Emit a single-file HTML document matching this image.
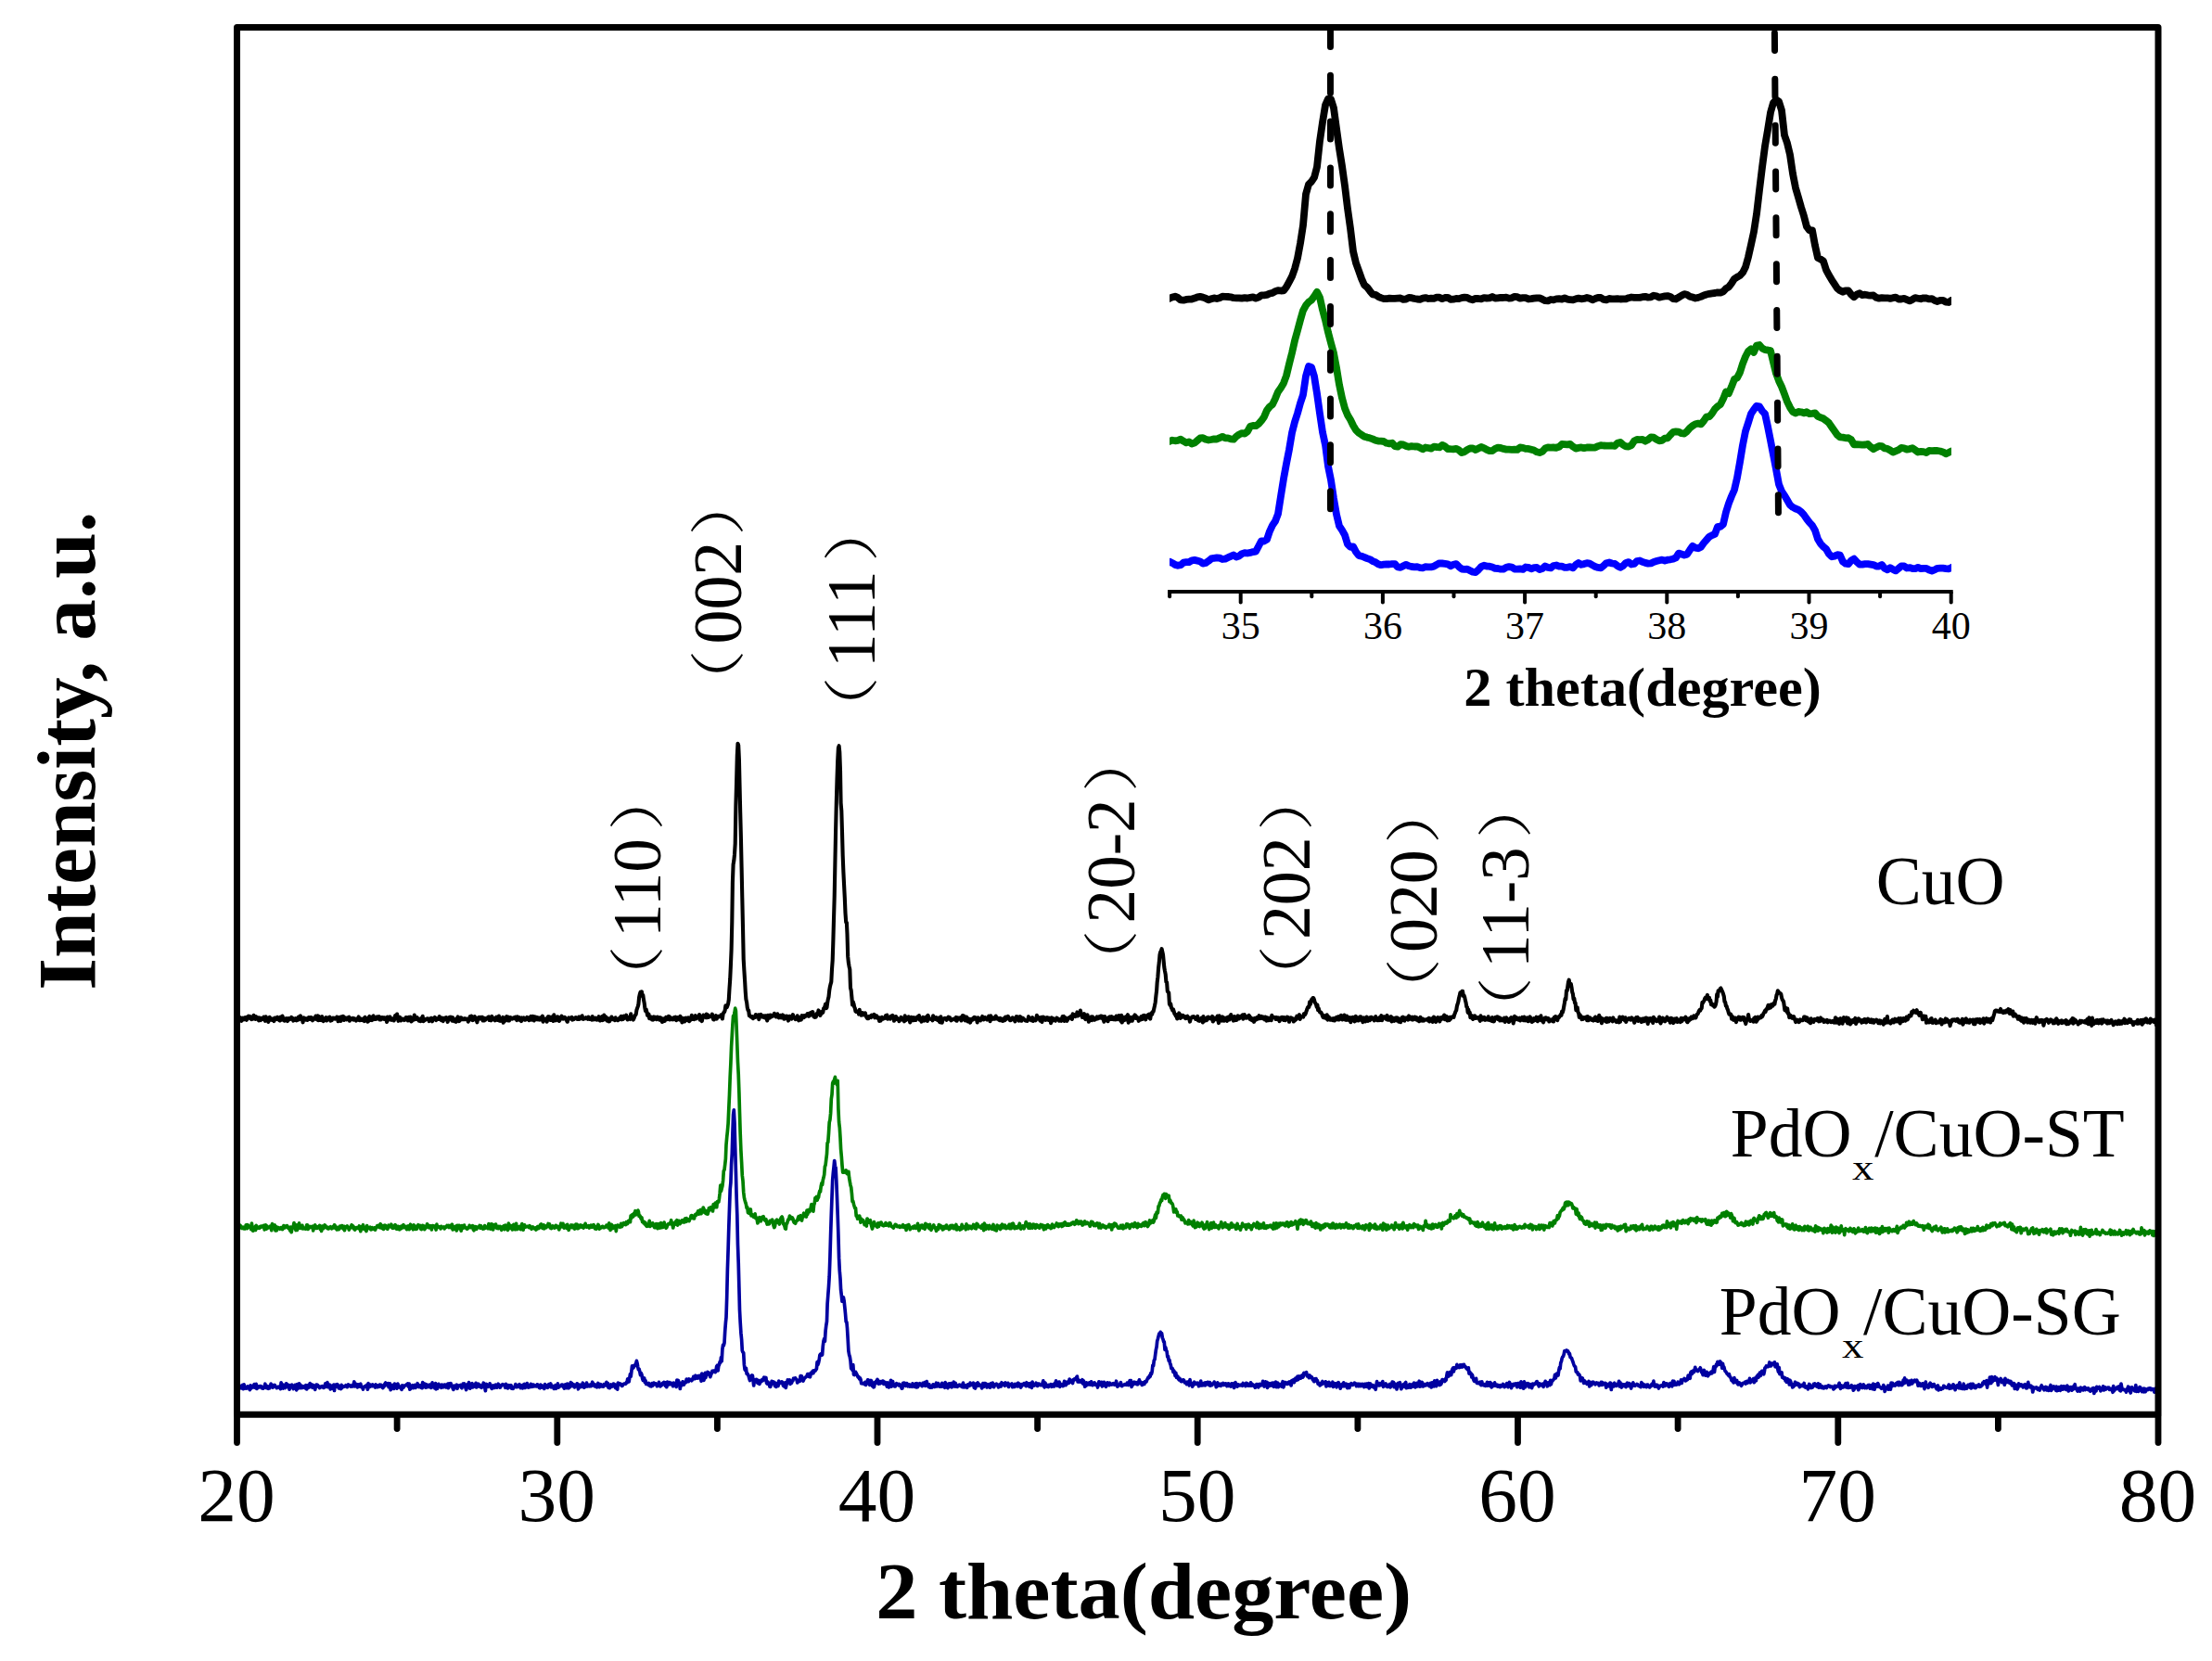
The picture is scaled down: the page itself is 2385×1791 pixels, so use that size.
<!DOCTYPE html>
<html><head><meta charset="utf-8"><title>XRD patterns</title>
<style>html,body{margin:0;padding:0;background:#fff}svg{display:block}</style></head>
<body>
<svg width="2385" height="1791" viewBox="0 0 2385 1791">
<rect width="2385" height="1791" fill="#fff"/>
<g fill="none" stroke-linejoin="round" stroke-linecap="butt">
<path d="M255.5,1098.7 L256.2,1099.2 L256.9,1098.3 L257.6,1097.3 L258.3,1098.0 L259.0,1097.1 L259.6,1098.8 L260.3,1100.8 L261.0,1097.9 L261.7,1097.7 L262.4,1099.5 L263.1,1099.3 L263.8,1098.9 L264.5,1097.2 L265.2,1098.7 L265.9,1099.8 L266.5,1096.5 L267.2,1098.0 L267.9,1095.7 L268.6,1096.6 L269.3,1095.8 L270.0,1098.3 L270.7,1096.7 L271.4,1099.1 L272.1,1098.9 L272.8,1098.4 L273.5,1094.7 L274.1,1097.8 L274.8,1098.6 L275.5,1098.9 L276.2,1096.2 L276.9,1097.9 L277.6,1097.1 L278.3,1097.4 L279.0,1100.4 L279.7,1097.4 L280.4,1098.6 L281.0,1100.1 L281.7,1097.8 L282.4,1098.5 L283.1,1098.9 L283.8,1098.8 L284.5,1096.7 L285.2,1098.8 L285.9,1100.9 L286.6,1096.2 L287.3,1100.1 L288.0,1098.9 L288.6,1097.7 L289.3,1101.9 L290.0,1099.9 L290.7,1096.8 L291.4,1098.8 L292.1,1099.6 L292.8,1098.4 L293.5,1099.8 L294.2,1098.6 L294.9,1099.8 L295.5,1101.0 L296.2,1097.6 L296.9,1099.0 L297.6,1098.0 L298.3,1098.9 L299.0,1096.8 L299.7,1097.8 L300.4,1098.4 L301.1,1100.1 L301.8,1100.5 L302.5,1096.6 L303.1,1097.4 L303.8,1099.7 L304.5,1095.5 L305.2,1098.0 L305.9,1098.5 L306.6,1100.7 L307.3,1099.8 L308.0,1098.2 L308.7,1098.1 L309.4,1098.3 L310.0,1101.1 L310.7,1098.0 L311.4,1098.2 L312.1,1099.3 L312.8,1098.5 L313.5,1098.4 L314.2,1096.9 L314.9,1098.7 L315.6,1098.0 L316.3,1100.6 L317.0,1099.7 L317.6,1098.7 L318.3,1099.8 L319.0,1098.2 L319.7,1100.4 L320.4,1098.7 L321.1,1099.6 L321.8,1096.6 L322.5,1099.3 L323.2,1096.0 L323.9,1095.4 L324.5,1098.2 L325.2,1097.3 L325.9,1099.0 L326.6,1102.3 L327.3,1097.4 L328.0,1097.7 L328.7,1099.0 L329.4,1099.5 L330.1,1098.4 L330.8,1098.4 L331.5,1099.8 L332.1,1099.5 L332.8,1097.0 L333.5,1098.6 L334.2,1098.8 L334.9,1097.0 L335.6,1099.1 L336.3,1097.3 L337.0,1100.3 L337.7,1099.0 L338.4,1098.8 L339.1,1097.8 L339.7,1098.5 L340.4,1095.5 L341.1,1096.9 L341.8,1099.3 L342.5,1095.3 L343.2,1100.1 L343.9,1095.9 L344.6,1099.9 L345.3,1097.3 L346.0,1099.9 L346.6,1098.9 L347.3,1096.2 L348.0,1100.7 L348.7,1101.0 L349.4,1098.6 L350.1,1098.3 L350.8,1098.4 L351.5,1097.1 L352.2,1100.5 L352.9,1097.8 L353.6,1098.6 L354.2,1097.4 L354.9,1097.7 L355.6,1096.7 L356.3,1100.7 L357.0,1098.4 L357.7,1100.2 L358.4,1098.7 L359.1,1097.6 L359.8,1098.2 L360.5,1097.8 L361.1,1098.7 L361.8,1098.1 L362.5,1098.2 L363.2,1096.5 L363.9,1097.4 L364.6,1101.3 L365.3,1097.6 L366.0,1097.0 L366.7,1099.2 L367.4,1100.9 L368.1,1096.4 L368.7,1098.4 L369.4,1097.7 L370.1,1095.9 L370.8,1099.9 L371.5,1098.7 L372.2,1098.8 L372.9,1097.5 L373.6,1099.4 L374.3,1097.8 L375.0,1098.5 L375.6,1096.9 L376.3,1096.7 L377.0,1100.8 L377.7,1097.9 L378.4,1099.2 L379.1,1098.6 L379.8,1098.0 L380.5,1097.9 L381.2,1099.7 L381.9,1098.2 L382.6,1098.5 L383.2,1098.7 L383.9,1100.6 L384.6,1099.8 L385.3,1099.3 L386.0,1097.8 L386.7,1096.5 L387.4,1100.2 L388.1,1100.2 L388.8,1098.5 L389.5,1099.6 L390.1,1099.9 L390.8,1100.0 L391.5,1100.2 L392.2,1098.0 L392.9,1101.1 L393.6,1096.7 L394.3,1100.1 L395.0,1099.5 L395.7,1100.1 L396.4,1101.7 L397.1,1101.1 L397.7,1096.9 L398.4,1096.0 L399.1,1100.0 L399.8,1097.1 L400.5,1098.7 L401.2,1100.0 L401.9,1096.1 L402.6,1095.3 L403.3,1099.1 L404.0,1098.8 L404.6,1098.3 L405.3,1098.8 L406.0,1097.3 L406.7,1096.3 L407.4,1098.4 L408.1,1097.1 L408.8,1096.1 L409.5,1099.5 L410.2,1098.6 L410.9,1099.3 L411.6,1097.1 L412.2,1097.6 L412.9,1097.1 L413.6,1097.3 L414.3,1099.0 L415.0,1097.4 L415.7,1099.3 L416.4,1099.2 L417.1,1101.9 L417.8,1096.5 L418.5,1100.1 L419.1,1098.6 L419.8,1098.7 L420.5,1096.4 L421.2,1098.0 L421.9,1099.9 L422.6,1098.6 L423.3,1098.8 L424.0,1098.2 L424.7,1100.5 L425.4,1098.7 L426.1,1095.2 L426.7,1097.6 L427.4,1095.5 L428.1,1093.5 L428.8,1097.8 L429.5,1100.8 L430.2,1098.8 L430.9,1096.8 L431.6,1097.2 L432.3,1100.5 L433.0,1098.9 L433.6,1098.8 L434.3,1098.6 L435.0,1098.8 L435.7,1100.0 L436.4,1099.6 L437.1,1099.0 L437.8,1097.0 L438.5,1099.5 L439.2,1097.6 L439.9,1100.4 L440.6,1096.7 L441.2,1098.5 L441.9,1098.7 L442.6,1096.6 L443.3,1101.4 L444.0,1101.0 L444.7,1098.0 L445.4,1099.9 L446.1,1099.3 L446.8,1094.5 L447.5,1099.1 L448.1,1098.6 L448.8,1098.8 L449.5,1097.0 L450.2,1098.3 L450.9,1098.4 L451.6,1100.6 L452.3,1099.2 L453.0,1098.7 L453.7,1101.1 L454.4,1097.8 L455.1,1098.1 L455.7,1095.8 L456.4,1101.2 L457.1,1100.2 L457.8,1100.2 L458.5,1099.8 L459.2,1098.9 L459.9,1099.0 L460.6,1098.3 L461.3,1098.4 L462.0,1098.8 L462.6,1101.1 L463.3,1099.6 L464.0,1098.6 L464.7,1097.8 L465.4,1097.7 L466.1,1101.3 L466.8,1099.5 L467.5,1098.8 L468.2,1098.1 L468.9,1096.9 L469.6,1098.6 L470.2,1100.1 L470.9,1098.1 L471.6,1098.3 L472.3,1098.3 L473.0,1098.9 L473.7,1096.1 L474.4,1098.3 L475.1,1097.3 L475.8,1100.1 L476.5,1097.5 L477.2,1099.6 L477.8,1101.1 L478.5,1098.2 L479.2,1097.7 L479.9,1099.0 L480.6,1098.7 L481.3,1097.1 L482.0,1099.4 L482.7,1101.9 L483.4,1098.3 L484.1,1098.4 L484.7,1097.0 L485.4,1099.2 L486.1,1096.7 L486.8,1096.9 L487.5,1100.7 L488.2,1097.2 L488.9,1100.4 L489.6,1101.1 L490.3,1099.1 L491.0,1099.6 L491.7,1101.8 L492.3,1098.4 L493.0,1097.7 L493.7,1096.5 L494.4,1098.8 L495.1,1101.1 L495.8,1100.2 L496.5,1097.2 L497.2,1097.3 L497.9,1097.9 L498.6,1099.2 L499.2,1098.4 L499.9,1099.0 L500.6,1099.2 L501.3,1098.2 L502.0,1098.6 L502.7,1099.0 L503.4,1098.6 L504.1,1099.5 L504.8,1101.7 L505.5,1099.6 L506.2,1098.8 L506.8,1096.0 L507.5,1099.3 L508.2,1095.6 L508.9,1096.4 L509.6,1100.1 L510.3,1099.8 L511.0,1098.5 L511.7,1096.0 L512.4,1098.1 L513.1,1097.6 L513.7,1099.7 L514.4,1102.3 L515.1,1099.0 L515.8,1097.4 L516.5,1096.8 L517.2,1098.6 L517.9,1098.4 L518.6,1096.8 L519.3,1098.9 L520.0,1096.8 L520.7,1100.5 L521.3,1100.4 L522.0,1100.4 L522.7,1097.9 L523.4,1099.5 L524.1,1098.5 L524.8,1098.1 L525.5,1098.1 L526.2,1096.6 L526.9,1096.4 L527.6,1100.0 L528.2,1098.4 L528.9,1099.0 L529.6,1100.3 L530.3,1095.9 L531.0,1097.4 L531.7,1099.0 L532.4,1099.3 L533.1,1098.1 L533.8,1100.3 L534.5,1099.0 L535.2,1096.7 L535.8,1097.2 L536.5,1100.0 L537.2,1099.4 L537.9,1095.6 L538.6,1100.8 L539.3,1099.6 L540.0,1100.8 L540.7,1098.1 L541.4,1098.2 L542.1,1096.9 L542.7,1102.7 L543.4,1098.4 L544.1,1101.2 L544.8,1097.7 L545.5,1098.9 L546.2,1096.0 L546.9,1098.1 L547.6,1100.3 L548.3,1096.7 L549.0,1100.4 L549.7,1099.2 L550.3,1097.0 L551.0,1097.9 L551.7,1098.0 L552.4,1098.6 L553.1,1097.8 L553.8,1097.4 L554.5,1098.2 L555.2,1097.0 L555.9,1096.6 L556.6,1098.6 L557.2,1100.1 L557.9,1096.2 L558.6,1098.7 L559.3,1097.6 L560.0,1097.1 L560.7,1100.0 L561.4,1097.9 L562.1,1101.1 L562.8,1097.4 L563.5,1099.3 L564.2,1098.3 L564.8,1097.5 L565.5,1099.6 L566.2,1098.4 L566.9,1099.6 L567.6,1098.6 L568.3,1096.9 L569.0,1098.5 L569.7,1098.8 L570.4,1100.2 L571.1,1097.2 L571.7,1098.6 L572.4,1095.9 L573.1,1099.7 L573.8,1097.0 L574.5,1095.8 L575.2,1098.6 L575.9,1100.5 L576.6,1096.2 L577.3,1096.9 L578.0,1097.5 L578.7,1096.9 L579.3,1099.3 L580.0,1097.4 L580.7,1097.5 L581.4,1099.6 L582.1,1097.5 L582.8,1099.4 L583.5,1097.1 L584.2,1096.7 L584.9,1095.7 L585.6,1101.7 L586.2,1098.2 L586.9,1099.1 L587.6,1098.6 L588.3,1098.9 L589.0,1098.8 L589.7,1101.7 L590.4,1097.0 L591.1,1096.2 L591.8,1097.1 L592.5,1096.5 L593.2,1099.9 L593.8,1100.0 L594.5,1097.1 L595.2,1096.5 L595.9,1098.1 L596.6,1100.9 L597.3,1094.2 L598.0,1099.5 L598.7,1097.0 L599.4,1100.3 L600.1,1096.9 L600.7,1098.2 L601.4,1096.3 L602.1,1097.1 L602.8,1100.9 L603.5,1100.0 L604.2,1098.0 L604.9,1097.3 L605.6,1095.6 L606.3,1098.0 L607.0,1098.6 L607.7,1098.5 L608.3,1098.5 L609.0,1096.9 L609.7,1098.6 L610.4,1098.6 L611.1,1100.7 L611.8,1101.7 L612.5,1098.4 L613.2,1097.4 L613.9,1098.6 L614.6,1097.7 L615.3,1097.5 L615.9,1098.6 L616.6,1097.0 L617.3,1099.6 L618.0,1098.5 L618.7,1099.1 L619.4,1098.4 L620.1,1097.5 L620.8,1097.1 L621.5,1098.3 L622.2,1097.8 L622.8,1099.0 L623.5,1098.7 L624.2,1096.5 L624.9,1098.8 L625.6,1096.5 L626.3,1097.7 L627.0,1098.2 L627.7,1095.3 L628.4,1098.8 L629.1,1098.9 L629.8,1098.4 L630.4,1098.0 L631.1,1098.1 L631.8,1097.1 L632.5,1098.2 L633.2,1097.8 L633.9,1098.8 L634.6,1096.7 L635.3,1099.0 L636.0,1098.9 L636.7,1098.4 L637.3,1097.9 L638.0,1099.5 L638.7,1096.0 L639.4,1099.4 L640.1,1099.0 L640.8,1099.1 L641.5,1099.2 L642.2,1097.6 L642.9,1098.2 L643.6,1099.6 L644.3,1099.3 L644.9,1099.0 L645.6,1096.2 L646.3,1099.5 L647.0,1100.5 L647.7,1100.2 L648.4,1099.0 L649.1,1096.1 L649.8,1100.1 L650.5,1098.4 L651.2,1094.5 L651.8,1099.2 L652.5,1096.2 L653.2,1096.5 L653.9,1097.6 L654.6,1100.6 L655.3,1098.0 L656.0,1099.0 L656.7,1101.4 L657.4,1101.1 L658.1,1098.4 L658.8,1098.2 L659.4,1096.5 L660.1,1097.4 L660.8,1099.2 L661.5,1099.2 L662.2,1098.7 L662.9,1100.1 L663.6,1097.3 L664.3,1098.4 L665.0,1099.7 L665.7,1099.4 L666.3,1100.2 L667.0,1099.1 L667.7,1098.0 L668.4,1099.0 L669.1,1096.8 L669.8,1095.8 L670.5,1099.3 L671.2,1098.3 L671.9,1098.8 L672.6,1095.6 L673.3,1097.7 L673.9,1097.3 L674.6,1096.8 L675.3,1094.6 L676.0,1097.6 L676.7,1099.5 L677.4,1098.7 L678.1,1097.0 L678.8,1097.9 L679.5,1099.0 L680.2,1093.3 L680.8,1097.4 L681.5,1098.3 L682.2,1098.2 L682.9,1099.5 L683.6,1098.0 L684.3,1095.8 L685.0,1094.6 L685.7,1093.7 L686.4,1089.2 L687.1,1087.1 L687.8,1085.1 L688.4,1082.9 L689.1,1075.5 L689.8,1072.1 L690.5,1069.9 L691.2,1070.8 L691.9,1069.4 L692.6,1073.9 L693.3,1073.1 L694.0,1078.0 L694.7,1081.6 L695.3,1086.6 L696.0,1090.0 L696.7,1088.4 L697.4,1091.3 L698.1,1094.8 L698.8,1094.3 L699.5,1093.7 L700.2,1098.3 L700.9,1097.8 L701.6,1098.1 L702.3,1096.7 L702.9,1099.3 L703.6,1097.3 L704.3,1099.6 L705.0,1096.4 L705.7,1096.6 L706.4,1098.3 L707.1,1096.9 L707.8,1099.2 L708.5,1098.5 L709.2,1096.7 L709.8,1098.3 L710.5,1097.7 L711.2,1099.7 L711.9,1097.2 L712.6,1097.6 L713.3,1100.2 L714.0,1101.9 L714.7,1101.5 L715.4,1098.4 L716.1,1098.7 L716.8,1100.8 L717.4,1098.2 L718.1,1096.8 L718.8,1098.6 L719.5,1099.1 L720.2,1097.1 L720.9,1095.8 L721.6,1096.1 L722.3,1099.5 L723.0,1097.2 L723.7,1098.2 L724.3,1098.7 L725.0,1099.4 L725.7,1097.9 L726.4,1099.2 L727.1,1097.0 L727.8,1097.8 L728.5,1096.7 L729.2,1100.2 L729.9,1098.3 L730.6,1097.2 L731.3,1097.8 L731.9,1098.0 L732.6,1099.5 L733.3,1095.8 L734.0,1096.7 L734.7,1097.7 L735.4,1102.4 L736.1,1099.8 L736.8,1098.1 L737.5,1099.4 L738.2,1101.5 L738.8,1097.9 L739.5,1097.6 L740.2,1100.1 L740.9,1099.0 L741.6,1099.2 L742.3,1097.3 L743.0,1101.2 L743.7,1100.8 L744.4,1099.0 L745.1,1099.2 L745.8,1094.8 L746.4,1099.0 L747.1,1097.7 L747.8,1098.7 L748.5,1099.0 L749.2,1097.4 L749.9,1095.2 L750.6,1098.5 L751.3,1096.7 L752.0,1097.3 L752.7,1096.9 L753.4,1097.3 L754.0,1094.1 L754.7,1099.7 L755.4,1098.2 L756.1,1099.6 L756.8,1101.0 L757.5,1097.7 L758.2,1094.6 L758.9,1095.9 L759.6,1095.3 L760.3,1096.3 L760.9,1097.1 L761.6,1093.6 L762.3,1097.2 L763.0,1094.2 L763.7,1097.0 L764.4,1096.3 L765.1,1095.9 L765.8,1096.2 L766.5,1095.5 L767.2,1095.4 L767.9,1093.6 L768.5,1096.3 L769.2,1099.3 L769.9,1099.5 L770.6,1098.4 L771.3,1097.4 L772.0,1095.2 L772.7,1098.6 L773.4,1096.2 L774.1,1096.2 L774.8,1095.8 L775.4,1096.4 L776.1,1095.6 L776.8,1096.1 L777.5,1094.5 L778.2,1095.3 L778.9,1098.5 L779.6,1093.4 L780.3,1091.8 L781.0,1091.2 L781.7,1089.2 L782.4,1084.3 L783.0,1084.8 L783.7,1086.1 L784.4,1084.5 L785.1,1082.3 L785.8,1077.9 L786.5,1065.8 L787.2,1056.0 L787.9,1040.9 L788.6,1024.1 L789.3,993.6 L789.9,951.3 L790.6,932.2 L791.3,928.2 L792.0,921.2 L792.7,909.6 L793.4,868.4 L794.1,843.3 L794.8,814.8 L795.5,801.7 L796.2,803.7 L796.9,818.6 L797.5,845.6 L798.2,876.1 L798.9,903.3 L799.6,935.4 L800.3,968.2 L801.0,999.5 L801.7,1034.4 L802.4,1046.5 L803.1,1057.5 L803.8,1069.8 L804.4,1077.5 L805.1,1080.6 L805.8,1086.5 L806.5,1089.1 L807.2,1089.6 L807.9,1095.2 L808.6,1095.0 L809.3,1096.4 L810.0,1096.2 L810.7,1097.1 L811.4,1096.2 L812.0,1098.2 L812.7,1097.0 L813.4,1097.0 L814.1,1097.0 L814.8,1094.1 L815.5,1096.2 L816.2,1096.0 L816.9,1096.8 L817.6,1094.3 L818.3,1099.1 L818.9,1096.7 L819.6,1094.6 L820.3,1093.8 L821.0,1096.1 L821.7,1096.4 L822.4,1095.4 L823.1,1096.7 L823.8,1095.5 L824.5,1097.4 L825.2,1095.3 L825.9,1096.4 L826.5,1098.0 L827.2,1100.5 L827.9,1094.8 L828.6,1095.6 L829.3,1095.0 L830.0,1097.6 L830.7,1094.5 L831.4,1095.5 L832.1,1096.2 L832.8,1094.7 L833.4,1094.7 L834.1,1095.4 L834.8,1092.8 L835.5,1093.8 L836.2,1095.5 L836.9,1096.4 L837.6,1095.8 L838.3,1093.3 L839.0,1095.4 L839.7,1097.4 L840.4,1097.1 L841.0,1096.1 L841.7,1094.8 L842.4,1097.3 L843.1,1095.3 L843.8,1094.4 L844.5,1095.0 L845.2,1098.7 L845.9,1096.7 L846.6,1098.3 L847.3,1095.7 L847.9,1098.0 L848.6,1095.6 L849.3,1096.3 L850.0,1100.6 L850.7,1097.8 L851.4,1095.8 L852.1,1096.5 L852.8,1097.2 L853.5,1098.7 L854.2,1096.0 L854.9,1094.1 L855.5,1096.5 L856.2,1097.0 L856.9,1097.2 L857.6,1099.1 L858.3,1097.6 L859.0,1098.4 L859.7,1095.3 L860.4,1098.5 L861.1,1100.4 L861.8,1098.3 L862.4,1097.4 L863.1,1097.1 L863.8,1099.6 L864.5,1095.1 L865.2,1096.3 L865.9,1097.0 L866.6,1097.2 L867.3,1095.2 L868.0,1096.1 L868.7,1095.0 L869.4,1095.5 L870.0,1094.9 L870.7,1093.1 L871.4,1094.6 L872.1,1095.8 L872.8,1092.6 L873.5,1093.4 L874.2,1094.6 L874.9,1091.6 L875.6,1093.4 L876.3,1091.2 L876.9,1094.6 L877.6,1096.4 L878.3,1096.9 L879.0,1094.8 L879.7,1096.6 L880.4,1094.3 L881.1,1092.5 L881.8,1093.8 L882.5,1089.4 L883.2,1093.8 L883.9,1092.5 L884.5,1094.9 L885.2,1092.8 L885.9,1091.0 L886.6,1092.1 L887.3,1091.7 L888.0,1087.5 L888.7,1087.1 L889.4,1085.3 L890.1,1082.6 L890.8,1087.3 L891.5,1086.3 L892.1,1081.7 L892.8,1077.5 L893.5,1074.9 L894.2,1068.2 L894.9,1063.9 L895.6,1061.1 L896.3,1058.6 L897.0,1045.2 L897.7,1035.3 L898.4,1013.4 L899.0,991.3 L899.7,967.1 L900.4,930.8 L901.1,895.3 L901.8,865.6 L902.5,840.7 L903.2,820.1 L903.9,806.6 L904.6,804.2 L905.3,811.3 L906.0,830.8 L906.6,865.8 L907.3,874.2 L908.0,897.4 L908.7,923.0 L909.4,940.4 L910.1,954.3 L910.8,967.9 L911.5,984.6 L912.2,994.4 L912.9,994.8 L913.5,1007.1 L914.2,1031.4 L914.9,1038.2 L915.6,1042.2 L916.3,1045.2 L917.0,1065.3 L917.7,1067.9 L918.4,1075.5 L919.1,1083.5 L919.8,1080.3 L920.5,1082.5 L921.1,1085.7 L921.8,1087.1 L922.5,1090.5 L923.2,1090.9 L923.9,1090.8 L924.6,1090.7 L925.3,1090.4 L926.0,1093.6 L926.7,1088.9 L927.4,1093.8 L928.0,1091.4 L928.7,1094.7 L929.4,1093.0 L930.1,1092.1 L930.8,1094.3 L931.5,1092.5 L932.2,1093.0 L932.9,1092.5 L933.6,1095.5 L934.3,1096.8 L935.0,1098.0 L935.6,1096.3 L936.3,1098.2 L937.0,1096.3 L937.7,1095.9 L938.4,1096.6 L939.1,1097.1 L939.8,1094.6 L940.5,1094.7 L941.2,1094.9 L941.9,1095.4 L942.5,1094.0 L943.2,1097.3 L943.9,1095.2 L944.6,1097.0 L945.3,1095.3 L946.0,1097.7 L946.7,1098.2 L947.4,1097.1 L948.1,1101.0 L948.8,1098.4 L949.5,1100.6 L950.1,1099.3 L950.8,1096.8 L951.5,1097.2 L952.2,1098.6 L952.9,1098.0 L953.6,1098.0 L954.3,1097.5 L955.0,1095.1 L955.7,1097.6 L956.4,1094.5 L957.0,1098.7 L957.7,1096.9 L958.4,1097.0 L959.1,1097.8 L959.8,1098.6 L960.5,1095.9 L961.2,1095.4 L961.9,1096.5 L962.6,1095.0 L963.3,1096.7 L964.0,1100.8 L964.6,1096.6 L965.3,1099.4 L966.0,1096.1 L966.7,1098.8 L967.4,1097.8 L968.1,1098.3 L968.8,1099.3 L969.5,1101.2 L970.2,1098.7 L970.9,1098.6 L971.5,1096.9 L972.2,1099.4 L972.9,1098.1 L973.6,1099.8 L974.3,1098.4 L975.0,1101.3 L975.7,1095.3 L976.4,1098.0 L977.1,1099.9 L977.8,1097.9 L978.5,1097.2 L979.1,1098.1 L979.8,1096.3 L980.5,1098.7 L981.2,1102.4 L981.9,1100.4 L982.6,1096.8 L983.3,1097.1 L984.0,1097.9 L984.7,1100.2 L985.4,1097.2 L986.0,1097.5 L986.7,1100.0 L987.4,1100.0 L988.1,1098.0 L988.8,1096.8 L989.5,1096.1 L990.2,1097.5 L990.9,1095.0 L991.6,1099.8 L992.3,1097.6 L993.0,1099.4 L993.6,1101.6 L994.3,1100.5 L995.0,1096.8 L995.7,1100.0 L996.4,1100.5 L997.1,1097.4 L997.8,1097.1 L998.5,1098.4 L999.2,1096.0 L999.9,1101.0 L1000.5,1094.8 L1001.2,1096.8 L1001.9,1098.2 L1002.6,1098.3 L1003.3,1098.9 L1004.0,1099.1 L1004.7,1098.3 L1005.4,1100.4 L1006.1,1095.2 L1006.8,1098.6 L1007.5,1097.5 L1008.1,1098.8 L1008.8,1099.0 L1009.5,1097.2 L1010.2,1097.6 L1010.9,1099.9 L1011.6,1099.2 L1012.3,1097.5 L1013.0,1101.9 L1013.7,1102.3 L1014.4,1096.3 L1015.0,1099.1 L1015.7,1102.7 L1016.4,1099.9 L1017.1,1099.0 L1017.8,1098.3 L1018.5,1097.8 L1019.2,1098.3 L1019.9,1097.8 L1020.6,1099.8 L1021.3,1098.0 L1022.0,1097.9 L1022.6,1096.7 L1023.3,1098.6 L1024.0,1097.2 L1024.7,1098.4 L1025.4,1100.3 L1026.1,1099.2 L1026.8,1099.5 L1027.5,1099.2 L1028.2,1098.7 L1028.9,1098.4 L1029.6,1098.2 L1030.2,1099.9 L1030.9,1096.9 L1031.6,1100.8 L1032.3,1098.7 L1033.0,1097.5 L1033.7,1097.9 L1034.4,1097.6 L1035.1,1098.9 L1035.8,1097.5 L1036.5,1100.5 L1037.1,1097.4 L1037.8,1095.0 L1038.5,1097.5 L1039.2,1095.4 L1039.9,1098.6 L1040.6,1100.3 L1041.3,1099.7 L1042.0,1096.5 L1042.7,1097.4 L1043.4,1101.5 L1044.1,1099.2 L1044.7,1098.7 L1045.4,1100.3 L1046.1,1102.6 L1046.8,1100.7 L1047.5,1098.9 L1048.2,1099.2 L1048.9,1099.6 L1049.6,1097.7 L1050.3,1097.0 L1051.0,1098.7 L1051.6,1097.1 L1052.3,1098.6 L1053.0,1098.8 L1053.7,1102.4 L1054.4,1097.3 L1055.1,1098.5 L1055.8,1098.4 L1056.5,1099.4 L1057.2,1100.3 L1057.9,1097.9 L1058.6,1097.3 L1059.2,1096.0 L1059.9,1097.2 L1060.6,1099.5 L1061.3,1098.7 L1062.0,1097.0 L1062.7,1098.1 L1063.4,1098.7 L1064.1,1099.5 L1064.8,1097.7 L1065.5,1098.3 L1066.1,1095.7 L1066.8,1096.8 L1067.5,1101.2 L1068.2,1095.2 L1068.9,1098.1 L1069.6,1099.0 L1070.3,1098.1 L1071.0,1097.4 L1071.7,1098.6 L1072.4,1098.6 L1073.1,1098.5 L1073.7,1095.6 L1074.4,1098.4 L1075.1,1097.3 L1075.8,1097.8 L1076.5,1099.0 L1077.2,1099.7 L1077.9,1100.1 L1078.6,1097.9 L1079.3,1100.1 L1080.0,1100.5 L1080.6,1100.5 L1081.3,1100.9 L1082.0,1098.4 L1082.7,1098.4 L1083.4,1100.0 L1084.1,1096.5 L1084.8,1099.0 L1085.5,1097.8 L1086.2,1098.1 L1086.9,1095.9 L1087.6,1097.2 L1088.2,1098.6 L1088.9,1100.1 L1089.6,1100.2 L1090.3,1098.5 L1091.0,1098.3 L1091.7,1097.3 L1092.4,1099.3 L1093.1,1098.2 L1093.8,1099.6 L1094.5,1101.4 L1095.1,1098.6 L1095.8,1096.2 L1096.5,1097.3 L1097.2,1096.3 L1097.9,1096.7 L1098.6,1100.7 L1099.3,1099.0 L1100.0,1096.2 L1100.7,1099.7 L1101.4,1100.7 L1102.1,1098.1 L1102.7,1097.6 L1103.4,1098.1 L1104.1,1099.1 L1104.8,1099.7 L1105.5,1100.5 L1106.2,1100.6 L1106.9,1100.5 L1107.6,1100.8 L1108.3,1099.7 L1109.0,1096.2 L1109.6,1098.4 L1110.3,1099.1 L1111.0,1098.0 L1111.7,1100.1 L1112.4,1098.1 L1113.1,1097.1 L1113.8,1100.9 L1114.5,1099.7 L1115.2,1099.0 L1115.9,1100.1 L1116.6,1100.3 L1117.2,1099.2 L1117.9,1094.7 L1118.6,1097.5 L1119.3,1097.9 L1120.0,1097.0 L1120.7,1098.9 L1121.4,1100.5 L1122.1,1097.8 L1122.8,1096.8 L1123.5,1101.9 L1124.1,1097.9 L1124.8,1096.6 L1125.5,1099.0 L1126.2,1099.3 L1126.9,1097.5 L1127.6,1099.9 L1128.3,1097.8 L1129.0,1097.1 L1129.7,1098.9 L1130.4,1099.8 L1131.1,1097.6 L1131.7,1099.1 L1132.4,1098.4 L1133.1,1103.1 L1133.8,1097.4 L1134.5,1100.8 L1135.2,1098.5 L1135.9,1098.4 L1136.6,1099.7 L1137.3,1100.0 L1138.0,1100.6 L1138.6,1099.1 L1139.3,1097.6 L1140.0,1097.7 L1140.7,1099.3 L1141.4,1099.4 L1142.1,1100.7 L1142.8,1099.2 L1143.5,1100.2 L1144.2,1100.9 L1144.9,1098.7 L1145.6,1096.0 L1146.2,1096.5 L1146.9,1096.0 L1147.6,1100.9 L1148.3,1096.9 L1149.0,1100.2 L1149.7,1099.1 L1150.4,1100.8 L1151.1,1099.5 L1151.8,1097.6 L1152.5,1097.3 L1153.1,1097.6 L1153.8,1097.5 L1154.5,1096.1 L1155.2,1096.7 L1155.9,1099.0 L1156.6,1093.4 L1157.3,1096.2 L1158.0,1094.0 L1158.7,1095.4 L1159.4,1096.1 L1160.1,1094.4 L1160.7,1095.4 L1161.4,1091.4 L1162.1,1095.5 L1162.8,1092.7 L1163.5,1094.6 L1164.2,1093.9 L1164.9,1089.6 L1165.6,1092.7 L1166.3,1094.5 L1167.0,1097.0 L1167.7,1095.2 L1168.3,1095.5 L1169.0,1093.2 L1169.7,1098.1 L1170.4,1099.0 L1171.1,1096.5 L1171.8,1096.3 L1172.5,1094.4 L1173.2,1098.6 L1173.9,1101.7 L1174.6,1098.7 L1175.2,1099.8 L1175.9,1098.7 L1176.6,1096.4 L1177.3,1100.2 L1178.0,1096.2 L1178.7,1097.9 L1179.4,1098.7 L1180.1,1099.7 L1180.8,1099.0 L1181.5,1099.0 L1182.2,1097.1 L1182.8,1096.3 L1183.5,1098.5 L1184.2,1097.3 L1184.9,1096.3 L1185.6,1096.4 L1186.3,1097.6 L1187.0,1095.5 L1187.7,1096.3 L1188.4,1095.8 L1189.1,1098.7 L1189.7,1099.1 L1190.4,1101.7 L1191.1,1096.0 L1191.8,1097.4 L1192.5,1099.9 L1193.2,1098.1 L1193.9,1097.9 L1194.6,1101.2 L1195.3,1097.9 L1196.0,1096.6 L1196.7,1096.3 L1197.3,1099.0 L1198.0,1098.9 L1198.7,1096.2 L1199.4,1096.8 L1200.1,1099.3 L1200.8,1099.3 L1201.5,1097.4 L1202.2,1099.4 L1202.9,1099.3 L1203.6,1095.5 L1204.2,1097.9 L1204.9,1099.1 L1205.6,1097.5 L1206.3,1095.0 L1207.0,1097.9 L1207.7,1099.6 L1208.4,1100.9 L1209.1,1094.8 L1209.8,1102.5 L1210.5,1096.5 L1211.2,1099.8 L1211.8,1100.3 L1212.5,1099.9 L1213.2,1098.5 L1213.9,1096.4 L1214.6,1099.3 L1215.3,1097.1 L1216.0,1094.2 L1216.7,1102.7 L1217.4,1099.3 L1218.1,1101.1 L1218.7,1096.7 L1219.4,1100.5 L1220.1,1100.6 L1220.8,1100.6 L1221.5,1098.0 L1222.2,1096.1 L1222.9,1097.7 L1223.6,1094.4 L1224.3,1095.2 L1225.0,1098.0 L1225.7,1096.3 L1226.3,1097.5 L1227.0,1097.6 L1227.7,1100.8 L1228.4,1099.7 L1229.1,1097.5 L1229.8,1099.5 L1230.5,1096.2 L1231.2,1096.8 L1231.9,1098.8 L1232.6,1095.2 L1233.2,1096.7 L1233.9,1094.9 L1234.6,1097.0 L1235.3,1099.3 L1236.0,1095.3 L1236.7,1096.7 L1237.4,1094.7 L1238.1,1094.1 L1238.8,1093.6 L1239.5,1097.6 L1240.2,1098.6 L1240.8,1095.0 L1241.5,1092.4 L1242.2,1093.7 L1242.9,1090.7 L1243.6,1090.7 L1244.3,1087.5 L1245.0,1084.4 L1245.7,1080.8 L1246.4,1073.9 L1247.1,1068.1 L1247.7,1058.9 L1248.4,1053.2 L1249.1,1043.4 L1249.8,1037.6 L1250.5,1029.5 L1251.2,1026.5 L1251.9,1025.4 L1252.6,1023.2 L1253.3,1026.3 L1254.0,1029.5 L1254.7,1036.6 L1255.3,1043.1 L1256.0,1047.1 L1256.7,1050.6 L1257.4,1058.9 L1258.1,1059.2 L1258.8,1068.9 L1259.5,1069.8 L1260.2,1070.4 L1260.9,1082.5 L1261.6,1083.9 L1262.2,1082.3 L1262.9,1086.4 L1263.6,1087.6 L1264.3,1089.6 L1265.0,1088.3 L1265.7,1090.6 L1266.4,1093.3 L1267.1,1093.6 L1267.8,1095.7 L1268.5,1094.4 L1269.2,1098.4 L1269.8,1093.8 L1270.5,1095.7 L1271.2,1092.4 L1271.9,1093.7 L1272.6,1098.0 L1273.3,1094.6 L1274.0,1097.1 L1274.7,1096.3 L1275.4,1094.8 L1276.1,1096.0 L1276.7,1095.9 L1277.4,1096.0 L1278.1,1098.1 L1278.8,1098.0 L1279.5,1096.1 L1280.2,1095.7 L1280.9,1097.7 L1281.6,1097.1 L1282.3,1099.0 L1283.0,1101.6 L1283.7,1098.8 L1284.3,1097.4 L1285.0,1097.3 L1285.7,1096.2 L1286.4,1096.2 L1287.1,1096.1 L1287.8,1097.1 L1288.5,1097.0 L1289.2,1099.0 L1289.9,1097.2 L1290.6,1097.5 L1291.2,1095.9 L1291.9,1100.5 L1292.6,1098.7 L1293.3,1100.8 L1294.0,1099.2 L1294.7,1100.4 L1295.4,1097.6 L1296.1,1099.2 L1296.8,1102.4 L1297.5,1096.1 L1298.2,1099.9 L1298.8,1100.8 L1299.5,1098.8 L1300.2,1099.3 L1300.9,1100.2 L1301.6,1097.1 L1302.3,1098.8 L1303.0,1096.7 L1303.7,1097.1 L1304.4,1097.2 L1305.1,1098.0 L1305.8,1098.5 L1306.4,1099.0 L1307.1,1095.9 L1307.8,1101.5 L1308.5,1100.1 L1309.2,1099.4 L1309.9,1097.7 L1310.6,1098.1 L1311.3,1099.2 L1312.0,1099.0 L1312.7,1095.5 L1313.3,1099.5 L1314.0,1103.1 L1314.7,1095.3 L1315.4,1099.9 L1316.1,1098.9 L1316.8,1098.1 L1317.5,1100.6 L1318.2,1096.4 L1318.9,1098.6 L1319.6,1100.7 L1320.3,1098.0 L1320.9,1097.6 L1321.6,1098.5 L1322.3,1097.6 L1323.0,1100.9 L1323.7,1096.8 L1324.4,1099.8 L1325.1,1096.3 L1325.8,1099.4 L1326.5,1098.1 L1327.2,1094.0 L1327.8,1098.2 L1328.5,1096.4 L1329.2,1097.4 L1329.9,1100.6 L1330.6,1096.1 L1331.3,1096.1 L1332.0,1100.1 L1332.7,1097.7 L1333.4,1099.9 L1334.1,1097.6 L1334.8,1095.4 L1335.4,1096.5 L1336.1,1098.3 L1336.8,1097.6 L1337.5,1095.8 L1338.2,1095.7 L1338.9,1095.3 L1339.6,1094.5 L1340.3,1098.7 L1341.0,1095.7 L1341.7,1094.0 L1342.3,1095.3 L1343.0,1097.5 L1343.7,1097.7 L1344.4,1096.6 L1345.1,1096.0 L1345.8,1097.4 L1346.5,1094.8 L1347.2,1095.6 L1347.9,1099.2 L1348.6,1097.2 L1349.3,1098.7 L1349.9,1100.2 L1350.6,1099.3 L1351.3,1098.3 L1352.0,1101.8 L1352.7,1099.5 L1353.4,1097.8 L1354.1,1099.6 L1354.8,1099.1 L1355.5,1097.0 L1356.2,1098.6 L1356.8,1098.2 L1357.5,1095.2 L1358.2,1098.2 L1358.9,1098.0 L1359.6,1097.7 L1360.3,1095.8 L1361.0,1097.9 L1361.7,1098.4 L1362.4,1098.6 L1363.1,1096.6 L1363.8,1099.5 L1364.4,1096.5 L1365.1,1098.1 L1365.8,1100.6 L1366.5,1097.3 L1367.2,1097.6 L1367.9,1100.2 L1368.6,1097.8 L1369.3,1098.0 L1370.0,1098.8 L1370.7,1100.2 L1371.3,1094.8 L1372.0,1097.1 L1372.7,1096.8 L1373.4,1096.7 L1374.1,1097.1 L1374.8,1097.1 L1375.5,1099.0 L1376.2,1097.0 L1376.9,1098.7 L1377.6,1099.1 L1378.3,1097.3 L1378.9,1098.7 L1379.6,1101.1 L1380.3,1099.0 L1381.0,1097.4 L1381.7,1098.3 L1382.4,1096.9 L1383.1,1098.9 L1383.8,1099.8 L1384.5,1097.1 L1385.2,1098.0 L1385.8,1100.2 L1386.5,1097.6 L1387.2,1098.7 L1387.9,1096.7 L1388.6,1097.0 L1389.3,1097.5 L1390.0,1101.8 L1390.7,1097.6 L1391.4,1097.4 L1392.1,1097.4 L1392.8,1098.0 L1393.4,1099.3 L1394.1,1098.5 L1394.8,1101.5 L1395.5,1098.5 L1396.2,1100.4 L1396.9,1098.5 L1397.6,1099.0 L1398.3,1095.7 L1399.0,1097.7 L1399.7,1097.7 L1400.3,1097.4 L1401.0,1094.2 L1401.7,1098.9 L1402.4,1096.7 L1403.1,1096.4 L1403.8,1096.4 L1404.5,1096.0 L1405.2,1096.5 L1405.9,1093.1 L1406.6,1092.9 L1407.3,1093.8 L1407.9,1092.4 L1408.6,1090.2 L1409.3,1088.3 L1410.0,1086.2 L1410.7,1085.6 L1411.4,1085.8 L1412.1,1080.4 L1412.8,1083.0 L1413.5,1080.6 L1414.2,1077.7 L1414.8,1079.4 L1415.5,1076.0 L1416.2,1076.1 L1416.9,1077.8 L1417.6,1080.4 L1418.3,1081.9 L1419.0,1083.0 L1419.7,1085.6 L1420.4,1083.5 L1421.1,1089.2 L1421.8,1087.5 L1422.4,1090.0 L1423.1,1091.5 L1423.8,1091.3 L1424.5,1091.9 L1425.2,1093.2 L1425.9,1095.4 L1426.6,1096.9 L1427.3,1097.3 L1428.0,1095.1 L1428.7,1095.7 L1429.3,1095.7 L1430.0,1098.1 L1430.7,1094.3 L1431.4,1099.6 L1432.1,1097.0 L1432.8,1096.6 L1433.5,1098.4 L1434.2,1099.6 L1434.9,1098.5 L1435.6,1099.7 L1436.3,1098.3 L1436.9,1100.1 L1437.6,1100.1 L1438.3,1098.0 L1439.0,1100.5 L1439.7,1098.5 L1440.4,1098.4 L1441.1,1096.8 L1441.8,1097.8 L1442.5,1099.5 L1443.2,1096.2 L1443.9,1099.4 L1444.5,1098.9 L1445.2,1098.8 L1445.9,1094.8 L1446.6,1098.2 L1447.3,1099.4 L1448.0,1097.2 L1448.7,1098.5 L1449.4,1094.6 L1450.1,1099.5 L1450.8,1097.4 L1451.4,1099.8 L1452.1,1095.5 L1452.8,1099.6 L1453.5,1098.1 L1454.2,1099.8 L1454.9,1097.0 L1455.6,1097.5 L1456.3,1102.1 L1457.0,1097.2 L1457.7,1097.4 L1458.4,1098.1 L1459.0,1096.9 L1459.7,1100.4 L1460.4,1101.3 L1461.1,1097.4 L1461.8,1095.8 L1462.5,1100.4 L1463.2,1100.3 L1463.9,1099.8 L1464.6,1100.4 L1465.3,1097.1 L1465.9,1098.3 L1466.6,1096.3 L1467.3,1096.3 L1468.0,1100.1 L1468.7,1097.5 L1469.4,1102.2 L1470.1,1098.7 L1470.8,1097.5 L1471.5,1099.8 L1472.2,1101.4 L1472.9,1099.3 L1473.5,1096.6 L1474.2,1099.2 L1474.9,1100.8 L1475.6,1097.8 L1476.3,1097.3 L1477.0,1100.2 L1477.7,1098.8 L1478.4,1096.8 L1479.1,1098.0 L1479.8,1097.4 L1480.4,1099.0 L1481.1,1098.7 L1481.8,1100.4 L1482.5,1099.7 L1483.2,1096.1 L1483.9,1099.2 L1484.6,1100.0 L1485.3,1099.3 L1486.0,1100.2 L1486.7,1097.7 L1487.4,1097.1 L1488.0,1100.1 L1488.7,1096.9 L1489.4,1095.1 L1490.1,1100.2 L1490.8,1097.4 L1491.5,1098.1 L1492.2,1096.3 L1492.9,1096.5 L1493.6,1096.7 L1494.3,1098.0 L1494.9,1099.2 L1495.6,1094.9 L1496.3,1099.8 L1497.0,1096.7 L1497.7,1096.9 L1498.4,1099.7 L1499.1,1098.5 L1499.8,1096.1 L1500.5,1101.5 L1501.2,1097.2 L1501.9,1099.0 L1502.5,1098.9 L1503.2,1100.9 L1503.9,1097.9 L1504.6,1100.2 L1505.3,1097.4 L1506.0,1100.4 L1506.7,1097.4 L1507.4,1098.0 L1508.1,1101.7 L1508.8,1099.1 L1509.4,1098.8 L1510.1,1102.2 L1510.8,1099.2 L1511.5,1097.3 L1512.2,1099.8 L1512.9,1096.7 L1513.6,1100.4 L1514.3,1100.6 L1515.0,1097.7 L1515.7,1097.6 L1516.4,1098.9 L1517.0,1098.7 L1517.7,1097.1 L1518.4,1099.6 L1519.1,1095.4 L1519.8,1098.0 L1520.5,1098.0 L1521.2,1098.2 L1521.9,1099.2 L1522.6,1096.7 L1523.3,1099.6 L1523.9,1098.4 L1524.6,1097.6 L1525.3,1096.5 L1526.0,1096.8 L1526.7,1099.3 L1527.4,1097.1 L1528.1,1098.8 L1528.8,1100.4 L1529.5,1100.3 L1530.2,1101.2 L1530.9,1098.2 L1531.5,1096.9 L1532.2,1100.3 L1532.9,1099.2 L1533.6,1100.5 L1534.3,1098.7 L1535.0,1100.6 L1535.7,1100.0 L1536.4,1099.8 L1537.1,1099.5 L1537.8,1099.3 L1538.4,1099.0 L1539.1,1099.0 L1539.8,1100.3 L1540.5,1097.8 L1541.2,1101.4 L1541.9,1098.5 L1542.6,1100.2 L1543.3,1098.5 L1544.0,1098.3 L1544.7,1101.9 L1545.4,1098.1 L1546.0,1096.6 L1546.7,1097.5 L1547.4,1098.1 L1548.1,1102.0 L1548.8,1098.9 L1549.5,1100.1 L1550.2,1097.0 L1550.9,1099.1 L1551.6,1099.6 L1552.3,1101.4 L1552.9,1097.4 L1553.6,1099.4 L1554.3,1098.9 L1555.0,1096.8 L1555.7,1098.4 L1556.4,1098.0 L1557.1,1094.6 L1557.8,1099.3 L1558.5,1099.1 L1559.2,1097.5 L1559.9,1096.0 L1560.5,1100.5 L1561.2,1098.4 L1561.9,1099.6 L1562.6,1100.1 L1563.3,1096.8 L1564.0,1098.8 L1564.7,1096.9 L1565.4,1096.8 L1566.1,1096.4 L1566.8,1095.9 L1567.4,1096.9 L1568.1,1094.2 L1568.8,1092.4 L1569.5,1090.5 L1570.2,1089.4 L1570.9,1084.9 L1571.6,1082.7 L1572.3,1080.3 L1573.0,1076.3 L1573.7,1073.9 L1574.4,1070.4 L1575.0,1072.5 L1575.7,1070.3 L1576.4,1068.8 L1577.1,1068.9 L1577.8,1074.1 L1578.5,1073.3 L1579.2,1075.2 L1579.9,1078.6 L1580.6,1081.3 L1581.3,1085.8 L1582.0,1086.0 L1582.6,1091.6 L1583.3,1088.8 L1584.0,1093.0 L1584.7,1091.6 L1585.4,1097.3 L1586.1,1094.7 L1586.8,1095.9 L1587.5,1098.0 L1588.2,1098.9 L1588.9,1095.5 L1589.5,1096.9 L1590.2,1095.4 L1590.9,1098.0 L1591.6,1097.8 L1592.3,1097.5 L1593.0,1097.0 L1593.7,1097.6 L1594.4,1097.1 L1595.1,1099.2 L1595.8,1100.8 L1596.5,1095.3 L1597.1,1098.3 L1597.8,1097.8 L1598.5,1099.3 L1599.2,1097.1 L1599.9,1098.4 L1600.6,1097.0 L1601.3,1099.8 L1602.0,1098.9 L1602.7,1098.5 L1603.4,1099.3 L1604.0,1098.4 L1604.7,1096.3 L1605.4,1099.8 L1606.1,1099.3 L1606.8,1098.6 L1607.5,1100.4 L1608.2,1100.8 L1608.9,1097.1 L1609.6,1097.6 L1610.3,1101.4 L1611.0,1101.2 L1611.6,1097.7 L1612.3,1097.0 L1613.0,1097.9 L1613.7,1098.2 L1614.4,1096.4 L1615.1,1099.0 L1615.8,1096.9 L1616.5,1097.1 L1617.2,1100.5 L1617.9,1097.9 L1618.5,1098.9 L1619.2,1100.0 L1619.9,1100.3 L1620.6,1098.5 L1621.3,1099.1 L1622.0,1097.7 L1622.7,1101.9 L1623.4,1100.1 L1624.1,1097.3 L1624.8,1099.1 L1625.5,1100.2 L1626.1,1099.9 L1626.8,1102.0 L1627.5,1101.3 L1628.2,1098.2 L1628.9,1099.0 L1629.6,1097.1 L1630.3,1099.5 L1631.0,1099.4 L1631.7,1103.4 L1632.4,1099.3 L1633.0,1095.8 L1633.7,1098.1 L1634.4,1099.3 L1635.1,1097.1 L1635.8,1097.8 L1636.5,1098.6 L1637.2,1099.7 L1637.9,1098.9 L1638.6,1097.7 L1639.3,1100.4 L1640.0,1098.3 L1640.6,1098.4 L1641.3,1097.0 L1642.0,1097.9 L1642.7,1100.2 L1643.4,1096.6 L1644.1,1099.0 L1644.8,1100.3 L1645.5,1098.6 L1646.2,1099.5 L1646.9,1097.4 L1647.5,1101.3 L1648.2,1100.9 L1648.9,1099.5 L1649.6,1096.4 L1650.3,1097.5 L1651.0,1100.7 L1651.7,1101.9 L1652.4,1099.6 L1653.1,1101.2 L1653.8,1098.2 L1654.5,1098.8 L1655.1,1099.1 L1655.8,1099.8 L1656.5,1096.7 L1657.2,1100.6 L1657.9,1101.2 L1658.6,1097.3 L1659.3,1096.9 L1660.0,1099.7 L1660.7,1098.1 L1661.4,1095.3 L1662.0,1100.4 L1662.7,1099.3 L1663.4,1098.3 L1664.1,1102.4 L1664.8,1099.3 L1665.5,1097.8 L1666.2,1099.2 L1666.9,1097.3 L1667.6,1097.7 L1668.3,1099.5 L1669.0,1098.0 L1669.6,1098.2 L1670.3,1101.5 L1671.0,1100.2 L1671.7,1100.1 L1672.4,1099.6 L1673.1,1099.5 L1673.8,1101.0 L1674.5,1098.5 L1675.2,1101.5 L1675.9,1096.9 L1676.5,1097.9 L1677.2,1096.0 L1677.9,1097.6 L1678.6,1098.8 L1679.3,1100.1 L1680.0,1096.5 L1680.7,1097.3 L1681.4,1096.3 L1682.1,1095.2 L1682.8,1093.8 L1683.5,1094.8 L1684.1,1090.6 L1684.8,1091.8 L1685.5,1089.3 L1686.2,1085.4 L1686.9,1081.4 L1687.6,1076.8 L1688.3,1077.6 L1689.0,1068.0 L1689.7,1068.2 L1690.4,1063.0 L1691.0,1058.9 L1691.7,1056.7 L1692.4,1060.7 L1693.1,1063.1 L1693.8,1060.9 L1694.5,1064.6 L1695.2,1069.7 L1695.9,1071.7 L1696.6,1077.6 L1697.3,1076.6 L1698.0,1081.4 L1698.6,1081.3 L1699.3,1089.1 L1700.0,1086.8 L1700.7,1086.3 L1701.4,1091.2 L1702.1,1092.5 L1702.8,1096.9 L1703.5,1094.2 L1704.2,1095.5 L1704.9,1097.0 L1705.5,1099.1 L1706.2,1096.8 L1706.9,1098.9 L1707.6,1098.3 L1708.3,1097.2 L1709.0,1098.0 L1709.7,1098.1 L1710.4,1096.7 L1711.1,1100.2 L1711.8,1096.1 L1712.5,1100.3 L1713.1,1100.0 L1713.8,1098.4 L1714.5,1097.4 L1715.2,1098.3 L1715.9,1099.5 L1716.6,1100.0 L1717.3,1099.3 L1718.0,1100.5 L1718.7,1098.0 L1719.4,1099.3 L1720.1,1096.5 L1720.7,1100.3 L1721.4,1099.3 L1722.1,1098.4 L1722.8,1101.0 L1723.5,1100.3 L1724.2,1094.7 L1724.9,1099.3 L1725.6,1096.9 L1726.3,1100.9 L1727.0,1103.2 L1727.6,1098.4 L1728.3,1099.4 L1729.0,1098.9 L1729.7,1099.9 L1730.4,1100.4 L1731.1,1101.4 L1731.8,1097.8 L1732.5,1101.9 L1733.2,1097.9 L1733.9,1099.9 L1734.6,1101.3 L1735.2,1100.6 L1735.9,1097.9 L1736.6,1098.3 L1737.3,1098.7 L1738.0,1099.4 L1738.7,1101.3 L1739.4,1097.4 L1740.1,1100.3 L1740.8,1100.5 L1741.5,1100.4 L1742.1,1100.3 L1742.8,1102.0 L1743.5,1100.3 L1744.2,1100.9 L1744.9,1100.5 L1745.6,1102.4 L1746.3,1096.5 L1747.0,1101.6 L1747.7,1099.2 L1748.4,1099.2 L1749.1,1098.1 L1749.7,1096.6 L1750.4,1099.0 L1751.1,1098.5 L1751.8,1100.4 L1752.5,1097.3 L1753.2,1101.9 L1753.9,1100.1 L1754.6,1099.3 L1755.3,1098.5 L1756.0,1098.4 L1756.6,1097.9 L1757.3,1098.8 L1758.0,1099.7 L1758.7,1099.4 L1759.4,1097.4 L1760.1,1099.3 L1760.8,1098.3 L1761.5,1100.0 L1762.2,1102.7 L1762.9,1100.7 L1763.6,1099.2 L1764.2,1097.1 L1764.9,1097.5 L1765.6,1097.0 L1766.3,1100.9 L1767.0,1098.5 L1767.7,1099.8 L1768.4,1098.7 L1769.1,1099.9 L1769.8,1102.0 L1770.5,1098.7 L1771.1,1099.2 L1771.8,1098.5 L1772.5,1101.2 L1773.2,1098.1 L1773.9,1097.9 L1774.6,1097.5 L1775.3,1097.5 L1776.0,1100.5 L1776.7,1103.9 L1777.4,1098.2 L1778.1,1101.3 L1778.7,1100.2 L1779.4,1098.0 L1780.1,1099.3 L1780.8,1099.4 L1781.5,1098.7 L1782.2,1102.9 L1782.9,1096.7 L1783.6,1100.4 L1784.3,1100.3 L1785.0,1098.8 L1785.6,1100.0 L1786.3,1101.2 L1787.0,1100.0 L1787.7,1100.4 L1788.4,1100.9 L1789.1,1096.5 L1789.8,1102.1 L1790.5,1103.4 L1791.2,1101.3 L1791.9,1101.4 L1792.6,1097.5 L1793.2,1099.6 L1793.9,1098.5 L1794.6,1098.8 L1795.3,1101.3 L1796.0,1098.5 L1796.7,1099.5 L1797.4,1096.7 L1798.1,1099.5 L1798.8,1099.9 L1799.5,1098.6 L1800.1,1098.6 L1800.8,1102.7 L1801.5,1097.8 L1802.2,1098.0 L1802.9,1098.4 L1803.6,1101.6 L1804.3,1103.0 L1805.0,1100.2 L1805.7,1098.5 L1806.4,1098.9 L1807.1,1101.3 L1807.7,1098.1 L1808.4,1101.9 L1809.1,1101.8 L1809.8,1099.7 L1810.5,1100.6 L1811.2,1100.7 L1811.9,1102.0 L1812.6,1097.8 L1813.3,1101.3 L1814.0,1098.8 L1814.6,1098.2 L1815.3,1099.5 L1816.0,1099.0 L1816.7,1097.7 L1817.4,1096.7 L1818.1,1097.7 L1818.8,1101.5 L1819.5,1102.2 L1820.2,1100.0 L1820.9,1100.8 L1821.6,1098.0 L1822.2,1098.6 L1822.9,1099.0 L1823.6,1096.6 L1824.3,1096.6 L1825.0,1098.1 L1825.7,1097.1 L1826.4,1095.5 L1827.1,1097.4 L1827.8,1095.8 L1828.5,1097.3 L1829.1,1094.9 L1829.8,1093.6 L1830.5,1093.4 L1831.2,1091.8 L1831.9,1089.9 L1832.6,1089.0 L1833.3,1089.5 L1834.0,1087.8 L1834.7,1087.3 L1835.4,1080.9 L1836.1,1081.4 L1836.7,1079.8 L1837.4,1079.3 L1838.1,1076.9 L1838.8,1075.7 L1839.5,1076.9 L1840.2,1075.3 L1840.9,1072.9 L1841.6,1077.1 L1842.3,1077.2 L1843.0,1075.8 L1843.6,1079.4 L1844.3,1078.5 L1845.0,1083.1 L1845.7,1082.4 L1846.4,1082.8 L1847.1,1084.4 L1847.8,1084.3 L1848.5,1085.7 L1849.2,1084.9 L1849.9,1083.1 L1850.6,1079.9 L1851.2,1072.1 L1851.9,1074.8 L1852.6,1068.2 L1853.3,1068.7 L1854.0,1068.0 L1854.7,1066.1 L1855.4,1065.5 L1856.1,1067.0 L1856.8,1068.7 L1857.5,1070.1 L1858.2,1072.3 L1858.8,1074.3 L1859.5,1080.2 L1860.2,1080.7 L1860.9,1084.6 L1861.6,1084.9 L1862.3,1087.5 L1863.0,1088.9 L1863.7,1091.6 L1864.4,1093.5 L1865.1,1093.8 L1865.7,1093.4 L1866.4,1094.0 L1867.1,1098.7 L1867.8,1096.1 L1868.5,1096.6 L1869.2,1099.8 L1869.9,1099.5 L1870.6,1098.8 L1871.3,1097.6 L1872.0,1102.1 L1872.7,1099.1 L1873.3,1099.5 L1874.0,1098.5 L1874.7,1096.6 L1875.4,1096.8 L1876.1,1099.6 L1876.8,1099.7 L1877.5,1098.7 L1878.2,1097.3 L1878.9,1096.9 L1879.6,1098.7 L1880.2,1097.0 L1880.9,1100.8 L1881.6,1101.2 L1882.3,1103.9 L1883.0,1100.8 L1883.7,1098.5 L1884.4,1098.1 L1885.1,1094.0 L1885.8,1098.5 L1886.5,1099.2 L1887.2,1101.0 L1887.8,1100.5 L1888.5,1100.4 L1889.2,1099.8 L1889.9,1100.5 L1890.6,1101.7 L1891.3,1097.7 L1892.0,1098.6 L1892.7,1097.0 L1893.4,1101.7 L1894.1,1101.0 L1894.7,1100.0 L1895.4,1096.6 L1896.1,1098.5 L1896.8,1097.4 L1897.5,1097.5 L1898.2,1096.5 L1898.9,1097.0 L1899.6,1094.8 L1900.3,1095.9 L1901.0,1094.0 L1901.7,1092.2 L1902.3,1091.4 L1903.0,1089.9 L1903.7,1090.8 L1904.4,1088.1 L1905.1,1088.1 L1905.8,1086.3 L1906.5,1083.9 L1907.2,1087.3 L1907.9,1083.9 L1908.6,1086.6 L1909.2,1086.3 L1909.9,1083.1 L1910.6,1084.3 L1911.3,1084.6 L1912.0,1083.4 L1912.7,1081.6 L1913.4,1082.8 L1914.1,1078.9 L1914.8,1077.2 L1915.5,1073.0 L1916.2,1071.7 L1916.8,1068.3 L1917.5,1069.1 L1918.2,1070.6 L1918.9,1070.7 L1919.6,1071.2 L1920.3,1071.8 L1921.0,1075.6 L1921.7,1077.8 L1922.4,1078.9 L1923.1,1080.1 L1923.7,1084.2 L1924.4,1089.3 L1925.1,1086.6 L1925.8,1089.3 L1926.5,1090.9 L1927.2,1087.6 L1927.9,1093.1 L1928.6,1092.8 L1929.3,1097.1 L1930.0,1095.3 L1930.7,1095.1 L1931.3,1096.6 L1932.0,1097.7 L1932.7,1096.9 L1933.4,1098.0 L1934.1,1096.2 L1934.8,1098.2 L1935.5,1100.0 L1936.2,1102.1 L1936.9,1100.2 L1937.6,1099.6 L1938.2,1101.2 L1938.9,1101.0 L1939.6,1102.1 L1940.3,1101.3 L1941.0,1099.4 L1941.7,1100.1 L1942.4,1100.0 L1943.1,1100.2 L1943.8,1100.1 L1944.5,1098.6 L1945.2,1096.5 L1945.8,1098.8 L1946.5,1096.7 L1947.2,1100.1 L1947.9,1100.0 L1948.6,1097.4 L1949.3,1101.2 L1950.0,1101.5 L1950.7,1100.3 L1951.4,1102.8 L1952.1,1103.2 L1952.7,1098.3 L1953.4,1101.9 L1954.1,1100.9 L1954.8,1100.9 L1955.5,1101.8 L1956.2,1099.1 L1956.9,1099.4 L1957.6,1099.0 L1958.3,1099.1 L1959.0,1100.2 L1959.7,1098.0 L1960.3,1098.7 L1961.0,1101.3 L1961.7,1100.3 L1962.4,1101.0 L1963.1,1097.4 L1963.8,1099.2 L1964.5,1099.6 L1965.2,1100.5 L1965.9,1099.5 L1966.6,1102.0 L1967.2,1100.4 L1967.9,1100.5 L1968.6,1100.5 L1969.3,1101.6 L1970.0,1099.8 L1970.7,1102.3 L1971.4,1101.3 L1972.1,1100.8 L1972.8,1100.6 L1973.5,1101.4 L1974.2,1102.2 L1974.8,1102.1 L1975.5,1101.2 L1976.2,1102.0 L1976.9,1100.8 L1977.6,1102.6 L1978.3,1100.6 L1979.0,1097.3 L1979.7,1102.8 L1980.4,1100.8 L1981.1,1098.8 L1981.7,1100.3 L1982.4,1099.2 L1983.1,1104.0 L1983.8,1101.5 L1984.5,1098.2 L1985.2,1101.5 L1985.9,1100.0 L1986.6,1103.7 L1987.3,1099.0 L1988.0,1097.1 L1988.7,1100.8 L1989.3,1100.1 L1990.0,1100.0 L1990.7,1097.3 L1991.4,1101.4 L1992.1,1103.4 L1992.8,1097.7 L1993.5,1102.6 L1994.2,1099.8 L1994.9,1104.5 L1995.6,1101.4 L1996.3,1100.4 L1996.9,1102.5 L1997.6,1101.6 L1998.3,1099.8 L1999.0,1101.9 L1999.7,1099.9 L2000.4,1097.9 L2001.1,1104.0 L2001.8,1100.2 L2002.5,1099.8 L2003.2,1101.3 L2003.8,1098.3 L2004.5,1098.6 L2005.2,1100.0 L2005.9,1100.0 L2006.6,1100.9 L2007.3,1102.6 L2008.0,1100.0 L2008.7,1101.6 L2009.4,1101.8 L2010.1,1099.1 L2010.8,1101.2 L2011.4,1099.3 L2012.1,1102.5 L2012.8,1101.5 L2013.5,1100.8 L2014.2,1098.7 L2014.9,1101.0 L2015.6,1099.6 L2016.3,1102.0 L2017.0,1100.6 L2017.7,1099.5 L2018.3,1102.3 L2019.0,1102.0 L2019.7,1099.9 L2020.4,1102.7 L2021.1,1100.4 L2021.8,1100.4 L2022.5,1101.0 L2023.2,1099.6 L2023.9,1100.1 L2024.6,1100.6 L2025.3,1103.3 L2025.9,1103.3 L2026.6,1100.4 L2027.3,1103.4 L2028.0,1100.8 L2028.7,1101.5 L2029.4,1102.3 L2030.1,1101.3 L2030.8,1104.7 L2031.5,1101.2 L2032.2,1098.9 L2032.8,1102.9 L2033.5,1100.2 L2034.2,1100.4 L2034.9,1096.1 L2035.6,1102.5 L2036.3,1102.2 L2037.0,1102.1 L2037.7,1102.4 L2038.4,1103.5 L2039.1,1100.8 L2039.8,1102.3 L2040.4,1099.6 L2041.1,1100.3 L2041.8,1102.5 L2042.5,1101.4 L2043.2,1098.7 L2043.9,1101.4 L2044.6,1100.5 L2045.3,1099.4 L2046.0,1101.4 L2046.7,1100.1 L2047.3,1098.2 L2048.0,1098.9 L2048.7,1103.4 L2049.4,1098.1 L2050.1,1100.8 L2050.8,1101.3 L2051.5,1101.2 L2052.2,1098.1 L2052.9,1099.3 L2053.6,1099.8 L2054.3,1100.6 L2054.9,1097.9 L2055.6,1096.6 L2056.3,1099.6 L2057.0,1099.1 L2057.7,1097.3 L2058.4,1095.1 L2059.1,1096.0 L2059.8,1094.7 L2060.5,1095.2 L2061.2,1091.1 L2061.8,1092.6 L2062.5,1091.6 L2063.2,1089.7 L2063.9,1091.5 L2064.6,1091.1 L2065.3,1090.5 L2066.0,1091.9 L2066.7,1089.2 L2067.4,1091.7 L2068.1,1092.9 L2068.8,1093.1 L2069.4,1094.9 L2070.1,1091.8 L2070.8,1091.8 L2071.5,1095.1 L2072.2,1096.0 L2072.9,1099.2 L2073.6,1097.3 L2074.3,1095.5 L2075.0,1098.6 L2075.7,1096.4 L2076.3,1095.8 L2077.0,1102.7 L2077.7,1099.4 L2078.4,1100.3 L2079.1,1100.3 L2079.8,1102.5 L2080.5,1100.3 L2081.2,1102.0 L2081.9,1098.5 L2082.6,1098.1 L2083.3,1102.7 L2083.9,1102.9 L2084.6,1101.4 L2085.3,1101.0 L2086.0,1101.0 L2086.7,1099.6 L2087.4,1103.2 L2088.1,1101.9 L2088.8,1101.6 L2089.5,1101.5 L2090.2,1102.6 L2090.8,1101.7 L2091.5,1102.1 L2092.2,1099.1 L2092.9,1101.8 L2093.6,1104.5 L2094.3,1100.1 L2095.0,1100.8 L2095.7,1102.4 L2096.4,1102.5 L2097.1,1102.0 L2097.8,1098.4 L2098.4,1101.8 L2099.1,1099.1 L2099.8,1099.7 L2100.5,1101.9 L2101.2,1100.6 L2101.9,1102.4 L2102.6,1106.1 L2103.3,1102.3 L2104.0,1102.2 L2104.7,1099.7 L2105.3,1100.1 L2106.0,1099.4 L2106.7,1100.2 L2107.4,1099.4 L2108.1,1100.1 L2108.8,1100.8 L2109.5,1099.5 L2110.2,1098.9 L2110.9,1098.9 L2111.6,1101.9 L2112.3,1101.2 L2112.9,1102.8 L2113.6,1102.8 L2114.3,1100.6 L2115.0,1102.2 L2115.7,1098.8 L2116.4,1104.8 L2117.1,1103.1 L2117.8,1100.8 L2118.5,1099.3 L2119.2,1101.8 L2119.8,1098.2 L2120.5,1099.9 L2121.2,1102.4 L2121.9,1101.3 L2122.6,1100.4 L2123.3,1102.7 L2124.0,1099.5 L2124.7,1101.6 L2125.4,1100.4 L2126.1,1099.8 L2126.8,1101.9 L2127.4,1099.6 L2128.1,1104.2 L2128.8,1100.2 L2129.5,1104.3 L2130.2,1099.4 L2130.9,1102.1 L2131.6,1099.2 L2132.3,1099.0 L2133.0,1101.4 L2133.7,1102.2 L2134.4,1099.1 L2135.0,1103.0 L2135.7,1099.8 L2136.4,1101.3 L2137.1,1101.7 L2137.8,1102.0 L2138.5,1098.2 L2139.2,1103.6 L2139.9,1101.9 L2140.6,1100.3 L2141.3,1099.3 L2141.9,1098.2 L2142.6,1098.7 L2143.3,1101.7 L2144.0,1100.2 L2144.7,1098.8 L2145.4,1099.5 L2146.1,1102.5 L2146.8,1098.9 L2147.5,1097.9 L2148.2,1100.1 L2148.9,1097.6 L2149.5,1095.6 L2150.2,1093.2 L2150.9,1090.3 L2151.6,1089.6 L2152.3,1089.7 L2153.0,1089.6 L2153.7,1090.4 L2154.4,1090.8 L2155.1,1090.5 L2155.8,1090.9 L2156.4,1089.4 L2157.1,1088.0 L2157.8,1091.1 L2158.5,1090.7 L2159.2,1091.4 L2159.9,1092.1 L2160.6,1090.4 L2161.3,1090.4 L2162.0,1091.6 L2162.7,1091.5 L2163.4,1089.7 L2164.0,1091.1 L2164.7,1089.6 L2165.4,1088.1 L2166.1,1089.8 L2166.8,1092.9 L2167.5,1089.1 L2168.2,1092.4 L2168.9,1093.1 L2169.6,1093.8 L2170.3,1090.6 L2170.9,1095.7 L2171.6,1093.3 L2172.3,1093.3 L2173.0,1094.0 L2173.7,1095.9 L2174.4,1095.6 L2175.1,1095.8 L2175.8,1098.7 L2176.5,1096.0 L2177.2,1096.0 L2177.9,1099.3 L2178.5,1099.6 L2179.2,1100.6 L2179.9,1097.4 L2180.6,1101.2 L2181.3,1100.5 L2182.0,1102.7 L2182.7,1098.1 L2183.4,1100.6 L2184.1,1100.0 L2184.8,1098.0 L2185.4,1099.5 L2186.1,1102.5 L2186.8,1100.1 L2187.5,1099.7 L2188.2,1102.3 L2188.9,1102.6 L2189.6,1102.6 L2190.3,1099.8 L2191.0,1101.0 L2191.7,1102.8 L2192.4,1100.1 L2193.0,1100.0 L2193.7,1102.5 L2194.4,1103.7 L2195.1,1099.4 L2195.8,1097.1 L2196.5,1098.9 L2197.2,1099.6 L2197.9,1101.1 L2198.6,1102.3 L2199.3,1101.1 L2199.9,1100.2 L2200.6,1101.6 L2201.3,1099.8 L2202.0,1101.3 L2202.7,1100.3 L2203.4,1105.7 L2204.1,1102.7 L2204.8,1100.0 L2205.5,1099.8 L2206.2,1100.7 L2206.9,1098.8 L2207.5,1100.2 L2208.2,1100.2 L2208.9,1102.8 L2209.6,1100.8 L2210.3,1100.2 L2211.0,1099.3 L2211.7,1099.6 L2212.4,1101.4 L2213.1,1101.1 L2213.8,1103.3 L2214.4,1100.5 L2215.1,1103.2 L2215.8,1101.9 L2216.5,1101.5 L2217.2,1098.3 L2217.9,1099.4 L2218.6,1102.7 L2219.3,1103.8 L2220.0,1101.9 L2220.7,1102.7 L2221.4,1100.9 L2222.0,1100.9 L2222.7,1100.5 L2223.4,1103.1 L2224.1,1102.1 L2224.8,1101.2 L2225.5,1101.0 L2226.2,1102.5 L2226.9,1102.1 L2227.6,1100.2 L2228.3,1104.3 L2228.9,1102.0 L2229.6,1101.6 L2230.3,1104.0 L2231.0,1103.2 L2231.7,1101.5 L2232.4,1102.5 L2233.1,1099.9 L2233.8,1100.6 L2234.5,1098.0 L2235.2,1103.6 L2235.9,1098.6 L2236.5,1102.7 L2237.2,1100.3 L2237.9,1100.1 L2238.6,1101.3 L2239.3,1102.1 L2240.0,1102.6 L2240.7,1104.5 L2241.4,1102.2 L2242.1,1103.1 L2242.8,1100.7 L2243.4,1102.8 L2244.1,1101.9 L2244.8,1100.9 L2245.5,1101.5 L2246.2,1101.6 L2246.9,1102.0 L2247.6,1102.3 L2248.3,1100.9 L2249.0,1100.5 L2249.7,1102.9 L2250.4,1099.0 L2251.0,1100.7 L2251.7,1104.2 L2252.4,1097.4 L2253.1,1100.6 L2253.8,1102.8 L2254.5,1099.1 L2255.2,1105.9 L2255.9,1097.6 L2256.6,1104.0 L2257.3,1104.2 L2257.9,1103.2 L2258.6,1101.4 L2259.3,1102.3 L2260.0,1100.3 L2260.7,1103.0 L2261.4,1099.9 L2262.1,1101.3 L2262.8,1103.3 L2263.5,1100.0 L2264.2,1101.2 L2264.9,1102.0 L2265.5,1099.6 L2266.2,1103.6 L2266.9,1102.3 L2267.6,1099.3 L2268.3,1101.7 L2269.0,1100.5 L2269.7,1100.7 L2270.4,1101.9 L2271.1,1100.6 L2271.8,1103.3 L2272.5,1100.6 L2273.1,1103.3 L2273.8,1101.7 L2274.5,1103.2 L2275.2,1100.9 L2275.9,1101.0 L2276.6,1099.9 L2277.3,1102.7 L2278.0,1103.3 L2278.7,1105.2 L2279.4,1103.9 L2280.0,1102.2 L2280.7,1101.5 L2281.4,1102.4 L2282.1,1101.8 L2282.8,1104.2 L2283.5,1103.3 L2284.2,1100.5 L2284.9,1100.7 L2285.6,1104.0 L2286.3,1102.3 L2287.0,1101.5 L2287.6,1103.7 L2288.3,1101.2 L2289.0,1101.4 L2289.7,1101.1 L2290.4,1098.7 L2291.1,1103.2 L2291.8,1099.9 L2292.5,1100.9 L2293.2,1100.7 L2293.9,1103.0 L2294.5,1101.7 L2295.2,1101.9 L2295.9,1099.2 L2296.6,1101.7 L2297.3,1099.5 L2298.0,1102.4 L2298.7,1102.5 L2299.4,1101.8 L2300.1,1105.1 L2300.8,1102.7 L2301.5,1102.8 L2302.1,1102.1 L2302.8,1101.6 L2303.5,1103.4 L2304.2,1103.7 L2304.9,1099.8 L2305.6,1103.6 L2306.3,1102.7 L2307.0,1103.4 L2307.7,1102.7 L2308.4,1099.9 L2309.0,1100.0 L2309.7,1104.8 L2310.4,1102.3 L2311.1,1099.7 L2311.8,1102.5 L2312.5,1101.3 L2313.2,1099.0 L2313.9,1098.3 L2314.6,1099.4 L2315.3,1102.4 L2316.0,1101.9 L2316.6,1101.5 L2317.3,1102.4 L2318.0,1102.9 L2318.7,1098.6 L2319.4,1101.5 L2320.1,1100.6 L2320.8,1100.0 L2321.5,1101.1 L2322.2,1101.8 L2322.9,1101.5 L2323.5,1099.6 L2324.2,1101.2 L2324.9,1105.2 L2325.6,1100.3 L2326.3,1099.3 L2327.0,1102.4" stroke="#000" stroke-width="4.1"/>
<path d="M255.5,1324.3 L256.2,1324.1 L256.9,1321.4 L257.6,1325.0 L258.3,1321.9 L259.0,1321.3 L259.6,1322.2 L260.3,1323.1 L261.0,1324.5 L261.7,1324.3 L262.4,1323.2 L263.1,1324.9 L263.8,1323.4 L264.5,1324.8 L265.2,1320.9 L265.9,1320.6 L266.5,1324.6 L267.2,1320.9 L267.9,1322.8 L268.6,1323.1 L269.3,1322.4 L270.0,1322.5 L270.7,1325.6 L271.4,1319.0 L272.1,1324.8 L272.8,1327.2 L273.5,1323.3 L274.1,1323.2 L274.8,1324.5 L275.5,1326.4 L276.2,1321.3 L276.9,1323.4 L277.6,1323.0 L278.3,1324.2 L279.0,1323.5 L279.7,1324.4 L280.4,1322.6 L281.0,1323.4 L281.7,1322.1 L282.4,1322.1 L283.1,1323.0 L283.8,1323.0 L284.5,1321.3 L285.2,1325.9 L285.9,1323.0 L286.6,1320.9 L287.3,1325.1 L288.0,1322.0 L288.6,1324.1 L289.3,1323.2 L290.0,1323.7 L290.7,1323.6 L291.4,1322.3 L292.1,1323.3 L292.8,1326.7 L293.5,1319.5 L294.2,1323.4 L294.9,1324.0 L295.5,1321.5 L296.2,1320.9 L296.9,1326.9 L297.6,1322.6 L298.3,1326.8 L299.0,1324.2 L299.7,1323.4 L300.4,1324.1 L301.1,1324.3 L301.8,1325.3 L302.5,1324.0 L303.1,1323.5 L303.8,1323.6 L304.5,1325.6 L305.2,1324.6 L305.9,1321.6 L306.6,1322.2 L307.3,1323.8 L308.0,1322.2 L308.7,1322.6 L309.4,1321.6 L310.0,1322.8 L310.7,1324.0 L311.4,1324.9 L312.1,1323.3 L312.8,1326.8 L313.5,1323.1 L314.2,1328.7 L314.9,1325.0 L315.6,1324.1 L316.3,1322.4 L317.0,1318.5 L317.6,1323.0 L318.3,1323.6 L319.0,1326.5 L319.7,1320.9 L320.4,1326.5 L321.1,1322.8 L321.8,1324.5 L322.5,1318.9 L323.2,1323.5 L323.9,1322.7 L324.5,1324.4 L325.2,1323.4 L325.9,1321.3 L326.6,1324.9 L327.3,1324.4 L328.0,1324.3 L328.7,1325.0 L329.4,1325.1 L330.1,1323.2 L330.8,1320.9 L331.5,1320.9 L332.1,1325.5 L332.8,1324.5 L333.5,1323.4 L334.2,1322.5 L334.9,1323.3 L335.6,1323.3 L336.3,1322.7 L337.0,1322.1 L337.7,1326.9 L338.4,1323.6 L339.1,1322.2 L339.7,1321.0 L340.4,1322.0 L341.1,1324.5 L341.8,1324.5 L342.5,1322.9 L343.2,1323.3 L343.9,1322.7 L344.6,1321.4 L345.3,1325.5 L346.0,1323.9 L346.6,1327.5 L347.3,1322.0 L348.0,1323.0 L348.7,1324.7 L349.4,1322.8 L350.1,1320.9 L350.8,1321.6 L351.5,1323.4 L352.2,1323.8 L352.9,1323.1 L353.6,1324.9 L354.2,1324.9 L354.9,1323.8 L355.6,1323.3 L356.3,1322.8 L357.0,1324.2 L357.7,1324.8 L358.4,1323.3 L359.1,1324.0 L359.8,1322.7 L360.5,1320.8 L361.1,1321.5 L361.8,1324.5 L362.5,1324.0 L363.2,1325.9 L363.9,1323.3 L364.6,1324.7 L365.3,1325.5 L366.0,1324.9 L366.7,1322.2 L367.4,1322.9 L368.1,1323.5 L368.7,1321.6 L369.4,1324.0 L370.1,1325.0 L370.8,1322.4 L371.5,1326.6 L372.2,1322.7 L372.9,1322.9 L373.6,1322.8 L374.3,1322.0 L375.0,1323.9 L375.6,1323.3 L376.3,1326.1 L377.0,1324.3 L377.7,1324.1 L378.4,1322.9 L379.1,1320.8 L379.8,1323.1 L380.5,1321.8 L381.2,1324.8 L381.9,1323.2 L382.6,1326.1 L383.2,1324.5 L383.9,1324.7 L384.6,1323.6 L385.3,1323.6 L386.0,1324.3 L386.7,1324.8 L387.4,1322.0 L388.1,1324.1 L388.8,1327.7 L389.5,1323.1 L390.1,1322.8 L390.8,1322.1 L391.5,1320.8 L392.2,1325.2 L392.9,1323.3 L393.6,1323.7 L394.3,1326.4 L395.0,1327.5 L395.7,1321.7 L396.4,1325.0 L397.1,1324.3 L397.7,1323.9 L398.4,1324.0 L399.1,1323.2 L399.8,1325.9 L400.5,1324.3 L401.2,1323.8 L401.9,1325.3 L402.6,1324.8 L403.3,1324.0 L404.0,1323.8 L404.6,1326.2 L405.3,1324.1 L406.0,1323.1 L406.7,1321.8 L407.4,1322.6 L408.1,1321.4 L408.8,1323.4 L409.5,1323.7 L410.2,1319.7 L410.9,1323.3 L411.6,1324.3 L412.2,1323.5 L412.9,1321.6 L413.6,1325.4 L414.3,1322.0 L415.0,1321.1 L415.7,1321.4 L416.4,1323.2 L417.1,1324.9 L417.8,1325.2 L418.5,1323.6 L419.1,1321.2 L419.8,1322.1 L420.5,1321.7 L421.2,1322.9 L421.9,1320.2 L422.6,1323.4 L423.3,1324.3 L424.0,1323.0 L424.7,1324.0 L425.4,1321.6 L426.1,1320.7 L426.7,1322.1 L427.4,1325.2 L428.1,1325.0 L428.8,1322.4 L429.5,1325.3 L430.2,1322.7 L430.9,1325.8 L431.6,1324.0 L432.3,1322.4 L433.0,1324.6 L433.6,1321.9 L434.3,1321.6 L435.0,1320.7 L435.7,1323.6 L436.4,1323.1 L437.1,1323.1 L437.8,1322.5 L438.5,1325.6 L439.2,1322.5 L439.9,1322.0 L440.6,1325.3 L441.2,1325.6 L441.9,1323.8 L442.6,1320.2 L443.3,1322.2 L444.0,1324.2 L444.7,1323.2 L445.4,1325.8 L446.1,1320.9 L446.8,1324.4 L447.5,1322.1 L448.1,1325.4 L448.8,1323.1 L449.5,1325.0 L450.2,1322.1 L450.9,1320.8 L451.6,1321.3 L452.3,1322.2 L453.0,1321.5 L453.7,1325.2 L454.4,1325.5 L455.1,1323.7 L455.7,1321.4 L456.4,1323.0 L457.1,1322.0 L457.8,1325.7 L458.5,1323.7 L459.2,1324.0 L459.9,1322.5 L460.6,1319.8 L461.3,1321.9 L462.0,1321.3 L462.6,1323.8 L463.3,1323.4 L464.0,1321.8 L464.7,1322.5 L465.4,1325.9 L466.1,1321.6 L466.8,1321.6 L467.5,1322.8 L468.2,1322.0 L468.9,1322.5 L469.6,1324.1 L470.2,1326.1 L470.9,1320.2 L471.6,1323.2 L472.3,1323.3 L473.0,1323.0 L473.7,1322.9 L474.4,1322.6 L475.1,1324.9 L475.8,1322.4 L476.5,1323.0 L477.2,1323.2 L477.8,1323.4 L478.5,1322.9 L479.2,1324.9 L479.9,1323.2 L480.6,1323.5 L481.3,1323.1 L482.0,1321.5 L482.7,1321.8 L483.4,1321.4 L484.1,1323.5 L484.7,1322.0 L485.4,1321.4 L486.1,1323.6 L486.8,1324.1 L487.5,1320.2 L488.2,1326.0 L488.9,1323.2 L489.6,1323.0 L490.3,1325.0 L491.0,1323.3 L491.7,1322.1 L492.3,1326.9 L493.0,1321.3 L493.7,1323.0 L494.4,1324.6 L495.1,1321.3 L495.8,1323.0 L496.5,1323.8 L497.2,1327.2 L497.9,1321.6 L498.6,1323.1 L499.2,1324.3 L499.9,1323.3 L500.6,1321.1 L501.3,1323.9 L502.0,1323.3 L502.7,1323.9 L503.4,1325.1 L504.1,1324.9 L504.8,1323.9 L505.5,1323.7 L506.2,1321.3 L506.8,1322.9 L507.5,1323.5 L508.2,1322.5 L508.9,1323.3 L509.6,1321.8 L510.3,1325.8 L511.0,1326.8 L511.7,1322.5 L512.4,1323.8 L513.1,1322.8 L513.7,1325.3 L514.4,1323.9 L515.1,1323.3 L515.8,1322.8 L516.5,1323.4 L517.2,1321.4 L517.9,1324.3 L518.6,1321.9 L519.3,1324.1 L520.0,1323.4 L520.7,1325.0 L521.3,1323.1 L522.0,1324.9 L522.7,1321.6 L523.4,1324.2 L524.1,1322.8 L524.8,1323.5 L525.5,1323.3 L526.2,1324.7 L526.9,1319.7 L527.6,1323.7 L528.2,1320.6 L528.9,1325.2 L529.6,1319.8 L530.3,1321.4 L531.0,1320.3 L531.7,1325.9 L532.4,1320.9 L533.1,1323.3 L533.8,1322.2 L534.5,1320.1 L535.2,1322.6 L535.8,1324.3 L536.5,1322.8 L537.2,1324.7 L537.9,1322.5 L538.6,1323.1 L539.3,1322.5 L540.0,1323.7 L540.7,1326.4 L541.4,1323.7 L542.1,1323.5 L542.7,1322.1 L543.4,1321.8 L544.1,1325.6 L544.8,1321.2 L545.5,1321.6 L546.2,1323.0 L546.9,1322.4 L547.6,1326.4 L548.3,1319.1 L549.0,1323.7 L549.7,1324.3 L550.3,1321.2 L551.0,1322.0 L551.7,1323.8 L552.4,1325.9 L553.1,1321.5 L553.8,1320.4 L554.5,1324.8 L555.2,1325.7 L555.9,1322.5 L556.6,1319.3 L557.2,1325.6 L557.9,1322.8 L558.6,1325.0 L559.3,1323.0 L560.0,1322.5 L560.7,1322.3 L561.4,1325.6 L562.1,1325.5 L562.8,1319.5 L563.5,1321.5 L564.2,1326.1 L564.8,1322.5 L565.5,1320.8 L566.2,1323.1 L566.9,1322.9 L567.6,1322.9 L568.3,1322.3 L569.0,1322.6 L569.7,1322.3 L570.4,1323.6 L571.1,1321.7 L571.7,1322.6 L572.4,1322.8 L573.1,1325.3 L573.8,1323.7 L574.5,1322.9 L575.2,1324.0 L575.9,1323.8 L576.6,1324.9 L577.3,1323.9 L578.0,1326.1 L578.7,1325.3 L579.3,1323.0 L580.0,1322.4 L580.7,1324.6 L581.4,1323.9 L582.1,1322.9 L582.8,1320.5 L583.5,1319.9 L584.2,1323.6 L584.9,1324.4 L585.6,1324.4 L586.2,1320.9 L586.9,1324.8 L587.6,1322.1 L588.3,1323.7 L589.0,1323.7 L589.7,1321.7 L590.4,1322.0 L591.1,1319.5 L591.8,1321.5 L592.5,1320.0 L593.2,1323.8 L593.8,1323.1 L594.5,1324.6 L595.2,1323.6 L595.9,1321.9 L596.6,1323.6 L597.3,1322.4 L598.0,1324.1 L598.7,1323.5 L599.4,1321.3 L600.1,1323.0 L600.7,1323.1 L601.4,1322.5 L602.1,1324.5 L602.8,1325.9 L603.5,1322.4 L604.2,1322.4 L604.9,1319.2 L605.6,1322.8 L606.3,1322.2 L607.0,1319.3 L607.7,1323.5 L608.3,1324.0 L609.0,1321.7 L609.7,1322.3 L610.4,1321.3 L611.1,1324.3 L611.8,1320.4 L612.5,1322.4 L613.2,1326.3 L613.9,1323.0 L614.6,1323.8 L615.3,1322.7 L615.9,1321.0 L616.6,1322.9 L617.3,1323.6 L618.0,1321.2 L618.7,1323.5 L619.4,1325.0 L620.1,1324.7 L620.8,1320.2 L621.5,1321.3 L622.2,1320.2 L622.8,1324.7 L623.5,1323.9 L624.2,1324.1 L624.9,1321.4 L625.6,1320.9 L626.3,1323.0 L627.0,1323.1 L627.7,1321.4 L628.4,1323.1 L629.1,1324.0 L629.8,1323.3 L630.4,1321.1 L631.1,1319.3 L631.8,1322.4 L632.5,1323.1 L633.2,1322.4 L633.9,1322.1 L634.6,1321.7 L635.3,1324.0 L636.0,1322.7 L636.7,1323.0 L637.3,1321.2 L638.0,1321.7 L638.7,1323.1 L639.4,1321.1 L640.1,1320.6 L640.8,1322.2 L641.5,1324.8 L642.2,1323.1 L642.9,1325.2 L643.6,1322.5 L644.3,1322.2 L644.9,1320.4 L645.6,1321.7 L646.3,1325.1 L647.0,1323.3 L647.7,1323.9 L648.4,1323.9 L649.1,1322.6 L649.8,1322.3 L650.5,1322.8 L651.2,1323.8 L651.8,1323.4 L652.5,1323.4 L653.2,1322.8 L653.9,1321.3 L654.6,1322.1 L655.3,1320.9 L656.0,1324.2 L656.7,1318.9 L657.4,1322.1 L658.1,1326.5 L658.8,1321.9 L659.4,1320.5 L660.1,1322.4 L660.8,1324.6 L661.5,1322.1 L662.2,1323.4 L662.9,1322.4 L663.6,1321.6 L664.3,1327.6 L665.0,1322.3 L665.7,1321.2 L666.3,1321.2 L667.0,1322.7 L667.7,1322.7 L668.4,1323.2 L669.1,1322.1 L669.8,1319.3 L670.5,1322.6 L671.2,1321.0 L671.9,1320.9 L672.6,1318.7 L673.3,1320.1 L673.9,1319.6 L674.6,1320.5 L675.3,1317.7 L676.0,1319.8 L676.7,1319.4 L677.4,1316.7 L678.1,1316.8 L678.8,1315.6 L679.5,1317.7 L680.2,1310.8 L680.8,1313.4 L681.5,1309.9 L682.2,1310.8 L682.9,1311.7 L683.6,1308.0 L684.3,1308.2 L685.0,1305.7 L685.7,1309.9 L686.4,1308.0 L687.1,1308.6 L687.8,1305.0 L688.4,1306.4 L689.1,1311.4 L689.8,1310.6 L690.5,1311.9 L691.2,1314.2 L691.9,1312.8 L692.6,1317.4 L693.3,1317.1 L694.0,1318.7 L694.7,1317.5 L695.3,1320.1 L696.0,1318.5 L696.7,1321.7 L697.4,1322.3 L698.1,1322.1 L698.8,1321.6 L699.5,1321.9 L700.2,1316.4 L700.9,1322.5 L701.6,1320.6 L702.3,1321.3 L702.9,1320.7 L703.6,1318.8 L704.3,1320.3 L705.0,1322.3 L705.7,1323.6 L706.4,1320.2 L707.1,1319.7 L707.8,1323.7 L708.5,1319.7 L709.2,1324.7 L709.8,1321.2 L710.5,1319.6 L711.2,1322.8 L711.9,1324.0 L712.6,1318.6 L713.3,1323.6 L714.0,1320.5 L714.7,1323.4 L715.4,1320.2 L716.1,1318.1 L716.8,1321.6 L717.4,1322.3 L718.1,1324.2 L718.8,1323.5 L719.5,1321.7 L720.2,1320.0 L720.9,1319.5 L721.6,1319.8 L722.3,1318.8 L723.0,1319.6 L723.7,1315.7 L724.3,1320.2 L725.0,1319.7 L725.7,1324.0 L726.4,1320.8 L727.1,1318.6 L727.8,1320.2 L728.5,1317.1 L729.2,1318.0 L729.9,1315.7 L730.6,1321.1 L731.3,1319.5 L731.9,1316.3 L732.6,1318.0 L733.3,1319.5 L734.0,1318.5 L734.7,1318.1 L735.4,1315.8 L736.1,1315.9 L736.8,1316.9 L737.5,1318.0 L738.2,1314.7 L738.8,1313.9 L739.5,1317.4 L740.2,1313.6 L740.9,1316.6 L741.6,1314.8 L742.3,1315.5 L743.0,1316.6 L743.7,1314.4 L744.4,1314.1 L745.1,1310.8 L745.8,1310.7 L746.4,1312.5 L747.1,1313.5 L747.8,1312.8 L748.5,1313.9 L749.2,1310.1 L749.9,1309.5 L750.6,1310.4 L751.3,1308.3 L752.0,1307.8 L752.7,1305.9 L753.4,1309.1 L754.0,1305.3 L754.7,1307.9 L755.4,1304.5 L756.1,1308.7 L756.8,1305.1 L757.5,1307.1 L758.2,1302.0 L758.9,1303.6 L759.6,1307.1 L760.3,1305.2 L760.9,1308.3 L761.6,1308.8 L762.3,1306.2 L763.0,1309.2 L763.7,1306.8 L764.4,1302.5 L765.1,1304.9 L765.8,1302.3 L766.5,1301.7 L767.2,1303.2 L767.9,1301.6 L768.5,1306.0 L769.2,1298.7 L769.9,1301.8 L770.6,1301.8 L771.3,1297.2 L772.0,1299.8 L772.7,1301.7 L773.4,1295.5 L774.1,1295.5 L774.8,1296.1 L775.4,1292.7 L776.1,1286.9 L776.8,1278.1 L777.5,1284.3 L778.2,1281.5 L778.9,1278.8 L779.6,1272.9 L780.3,1262.7 L781.0,1261.4 L781.7,1255.8 L782.4,1249.5 L783.0,1234.3 L783.7,1226.3 L784.4,1219.7 L785.1,1211.6 L785.8,1195.6 L786.5,1180.4 L787.2,1161.0 L787.9,1146.6 L788.6,1128.2 L789.3,1116.1 L789.9,1105.1 L790.6,1095.3 L791.3,1095.6 L792.0,1091.9 L792.7,1087.2 L793.4,1090.0 L794.1,1107.3 L794.8,1126.2 L795.5,1145.2 L796.2,1158.1 L796.9,1178.0 L797.5,1199.6 L798.2,1222.8 L798.9,1240.5 L799.6,1253.0 L800.3,1267.4 L801.0,1273.3 L801.7,1285.4 L802.4,1291.4 L803.1,1294.2 L803.8,1296.7 L804.4,1298.5 L805.1,1302.5 L805.8,1301.8 L806.5,1307.6 L807.2,1306.2 L807.9,1308.4 L808.6,1306.1 L809.3,1303.9 L810.0,1310.9 L810.7,1309.5 L811.4,1310.4 L812.0,1311.0 L812.7,1312.5 L813.4,1312.4 L814.1,1308.8 L814.8,1313.6 L815.5,1312.8 L816.2,1314.9 L816.9,1318.8 L817.6,1317.4 L818.3,1315.3 L818.9,1312.7 L819.6,1316.1 L820.3,1316.7 L821.0,1315.1 L821.7,1312.3 L822.4,1312.5 L823.1,1311.7 L823.8,1314.4 L824.5,1315.6 L825.2,1316.4 L825.9,1314.6 L826.5,1318.0 L827.2,1320.1 L827.9,1319.2 L828.6,1318.8 L829.3,1319.8 L830.0,1316.3 L830.7,1317.8 L831.4,1316.1 L832.1,1317.5 L832.8,1315.2 L833.4,1318.8 L834.1,1321.6 L834.8,1323.6 L835.5,1322.1 L836.2,1318.0 L836.9,1316.0 L837.6,1315.2 L838.3,1316.4 L839.0,1318.4 L839.7,1316.6 L840.4,1320.0 L841.0,1317.0 L841.7,1314.2 L842.4,1312.7 L843.1,1312.0 L843.8,1313.8 L844.5,1319.9 L845.2,1319.5 L845.9,1321.9 L846.6,1324.7 L847.3,1325.1 L847.9,1319.3 L848.6,1319.2 L849.3,1316.5 L850.0,1314.8 L850.7,1314.8 L851.4,1311.0 L852.1,1311.7 L852.8,1312.7 L853.5,1314.1 L854.2,1312.9 L854.9,1314.0 L855.5,1316.7 L856.2,1318.2 L856.9,1317.8 L857.6,1319.2 L858.3,1316.6 L859.0,1316.3 L859.7,1316.0 L860.4,1313.4 L861.1,1311.7 L861.8,1314.9 L862.4,1311.8 L863.1,1310.8 L863.8,1313.5 L864.5,1316.0 L865.2,1312.7 L865.9,1311.8 L866.6,1308.1 L867.3,1310.8 L868.0,1311.6 L868.7,1311.0 L869.4,1312.0 L870.0,1305.2 L870.7,1309.4 L871.4,1304.6 L872.1,1305.5 L872.8,1306.6 L873.5,1304.6 L874.2,1302.4 L874.9,1298.6 L875.6,1304.8 L876.3,1301.7 L876.9,1306.1 L877.6,1299.4 L878.3,1297.1 L879.0,1291.5 L879.7,1291.7 L880.4,1290.4 L881.1,1294.2 L881.8,1291.8 L882.5,1291.3 L883.2,1286.6 L883.9,1284.1 L884.5,1284.9 L885.2,1279.2 L885.9,1275.9 L886.6,1277.6 L887.3,1272.4 L888.0,1269.8 L888.7,1266.7 L889.4,1258.0 L890.1,1256.1 L890.8,1250.0 L891.5,1244.3 L892.1,1232.5 L892.8,1231.7 L893.5,1222.0 L894.2,1210.3 L894.9,1207.6 L895.6,1200.4 L896.3,1185.1 L897.0,1180.3 L897.7,1168.1 L898.4,1166.2 L899.0,1168.3 L899.7,1163.9 L900.4,1161.4 L901.1,1166.2 L901.8,1166.5 L902.5,1169.8 L903.2,1165.3 L903.9,1195.3 L904.6,1210.0 L905.3,1215.7 L906.0,1226.6 L906.6,1239.1 L907.3,1246.8 L908.0,1256.5 L908.7,1264.2 L909.4,1263.7 L910.1,1264.0 L910.8,1262.8 L911.5,1263.4 L912.2,1262.0 L912.9,1265.1 L913.5,1265.8 L914.2,1266.0 L914.9,1263.3 L915.6,1269.9 L916.3,1274.0 L917.0,1277.9 L917.7,1280.3 L918.4,1286.7 L919.1,1295.5 L919.8,1295.3 L920.5,1298.4 L921.1,1300.5 L921.8,1302.6 L922.5,1302.5 L923.2,1311.2 L923.9,1310.5 L924.6,1314.2 L925.3,1313.3 L926.0,1312.1 L926.7,1311.1 L927.4,1314.2 L928.0,1318.1 L928.7,1314.4 L929.4,1315.9 L930.1,1315.4 L930.8,1316.0 L931.5,1318.0 L932.2,1320.7 L932.9,1320.1 L933.6,1319.9 L934.3,1322.0 L935.0,1314.0 L935.6,1315.1 L936.3,1318.2 L937.0,1316.8 L937.7,1316.2 L938.4,1315.8 L939.1,1319.7 L939.8,1322.3 L940.5,1325.0 L941.2,1322.2 L941.9,1320.4 L942.5,1317.6 L943.2,1320.8 L943.9,1320.3 L944.6,1321.9 L945.3,1322.7 L946.0,1323.0 L946.7,1318.9 L947.4,1322.5 L948.1,1319.6 L948.8,1318.7 L949.5,1320.2 L950.1,1318.1 L950.8,1320.6 L951.5,1321.2 L952.2,1320.4 L952.9,1321.7 L953.6,1320.4 L954.3,1321.0 L955.0,1318.6 L955.7,1321.2 L956.4,1319.8 L957.0,1320.5 L957.7,1321.2 L958.4,1321.8 L959.1,1318.7 L959.8,1318.9 L960.5,1321.1 L961.2,1322.5 L961.9,1322.4 L962.6,1323.3 L963.3,1324.1 L964.0,1322.8 L964.6,1321.9 L965.3,1320.3 L966.0,1320.5 L966.7,1321.3 L967.4,1322.6 L968.1,1322.6 L968.8,1322.2 L969.5,1322.0 L970.2,1323.4 L970.9,1322.7 L971.5,1322.9 L972.2,1322.9 L972.9,1321.5 L973.6,1320.7 L974.3,1323.3 L975.0,1323.2 L975.7,1322.1 L976.4,1321.8 L977.1,1326.4 L977.8,1321.3 L978.5,1322.2 L979.1,1323.0 L979.8,1320.6 L980.5,1322.8 L981.2,1325.7 L981.9,1324.2 L982.6,1323.7 L983.3,1323.7 L984.0,1322.9 L984.7,1324.3 L985.4,1322.4 L986.0,1322.0 L986.7,1322.9 L987.4,1324.3 L988.1,1323.3 L988.8,1323.9 L989.5,1319.3 L990.2,1324.8 L990.9,1326.8 L991.6,1325.1 L992.3,1322.3 L993.0,1321.4 L993.6,1323.3 L994.3,1321.1 L995.0,1324.1 L995.7,1321.9 L996.4,1324.5 L997.1,1325.2 L997.8,1319.4 L998.5,1323.3 L999.2,1321.7 L999.9,1320.5 L1000.5,1321.8 L1001.2,1322.5 L1001.9,1324.6 L1002.6,1320.3 L1003.3,1324.7 L1004.0,1326.3 L1004.7,1323.9 L1005.4,1323.8 L1006.1,1322.9 L1006.8,1320.9 L1007.5,1323.8 L1008.1,1323.6 L1008.8,1324.1 L1009.5,1327.3 L1010.2,1324.1 L1010.9,1323.6 L1011.6,1325.6 L1012.3,1320.6 L1013.0,1321.0 L1013.7,1322.3 L1014.4,1321.8 L1015.0,1324.1 L1015.7,1322.4 L1016.4,1325.9 L1017.1,1325.5 L1017.8,1324.2 L1018.5,1322.3 L1019.2,1324.0 L1019.9,1324.3 L1020.6,1321.1 L1021.3,1323.5 L1022.0,1324.1 L1022.6,1323.3 L1023.3,1325.6 L1024.0,1325.0 L1024.7,1321.5 L1025.4,1323.2 L1026.1,1321.5 L1026.8,1323.9 L1027.5,1321.5 L1028.2,1324.5 L1028.9,1323.6 L1029.6,1324.6 L1030.2,1322.7 L1030.9,1320.5 L1031.6,1326.0 L1032.3,1322.7 L1033.0,1325.3 L1033.7,1323.7 L1034.4,1324.1 L1035.1,1326.1 L1035.8,1323.5 L1036.5,1325.3 L1037.1,1320.4 L1037.8,1324.4 L1038.5,1322.6 L1039.2,1322.7 L1039.9,1323.0 L1040.6,1323.6 L1041.3,1325.8 L1042.0,1319.8 L1042.7,1323.0 L1043.4,1321.7 L1044.1,1324.9 L1044.7,1322.2 L1045.4,1323.7 L1046.1,1322.3 L1046.8,1324.1 L1047.5,1324.7 L1048.2,1322.3 L1048.9,1323.0 L1049.6,1320.5 L1050.3,1323.5 L1051.0,1324.4 L1051.6,1322.0 L1052.3,1324.9 L1053.0,1319.4 L1053.7,1319.8 L1054.4,1320.6 L1055.1,1322.1 L1055.8,1323.0 L1056.5,1322.8 L1057.2,1322.8 L1057.9,1324.2 L1058.6,1322.2 L1059.2,1320.8 L1059.9,1320.8 L1060.6,1326.6 L1061.3,1319.0 L1062.0,1322.7 L1062.7,1325.4 L1063.4,1323.8 L1064.1,1321.5 L1064.8,1323.0 L1065.5,1324.4 L1066.1,1325.0 L1066.8,1321.4 L1067.5,1324.2 L1068.2,1323.4 L1068.9,1324.8 L1069.6,1325.3 L1070.3,1322.4 L1071.0,1320.5 L1071.7,1323.6 L1072.4,1326.0 L1073.1,1324.1 L1073.7,1323.3 L1074.4,1327.0 L1075.1,1321.2 L1075.8,1324.5 L1076.5,1322.0 L1077.2,1323.0 L1077.9,1323.1 L1078.6,1325.5 L1079.3,1321.3 L1080.0,1322.0 L1080.6,1320.2 L1081.3,1323.8 L1082.0,1322.2 L1082.7,1323.7 L1083.4,1321.1 L1084.1,1322.3 L1084.8,1324.7 L1085.5,1322.6 L1086.2,1324.0 L1086.9,1323.8 L1087.6,1322.3 L1088.2,1320.3 L1088.9,1324.6 L1089.6,1323.2 L1090.3,1324.6 L1091.0,1319.5 L1091.7,1320.1 L1092.4,1319.3 L1093.1,1321.4 L1093.8,1324.7 L1094.5,1323.9 L1095.1,1322.8 L1095.8,1323.1 L1096.5,1324.2 L1097.2,1322.4 L1097.9,1323.6 L1098.6,1323.1 L1099.3,1319.2 L1100.0,1322.2 L1100.7,1325.2 L1101.4,1322.2 L1102.1,1322.6 L1102.7,1321.8 L1103.4,1322.0 L1104.1,1324.8 L1104.8,1322.4 L1105.5,1321.1 L1106.2,1317.6 L1106.9,1321.9 L1107.6,1319.5 L1108.3,1319.7 L1109.0,1324.2 L1109.6,1324.0 L1110.3,1319.6 L1111.0,1324.3 L1111.7,1323.6 L1112.4,1321.5 L1113.1,1324.1 L1113.8,1320.0 L1114.5,1320.8 L1115.2,1320.4 L1115.9,1320.9 L1116.6,1324.3 L1117.2,1320.5 L1117.9,1320.8 L1118.6,1321.1 L1119.3,1323.1 L1120.0,1322.2 L1120.7,1324.2 L1121.4,1321.5 L1122.1,1320.5 L1122.8,1321.9 L1123.5,1322.8 L1124.1,1321.1 L1124.8,1323.2 L1125.5,1325.8 L1126.2,1321.7 L1126.9,1322.7 L1127.6,1324.9 L1128.3,1321.5 L1129.0,1321.1 L1129.7,1320.7 L1130.4,1323.2 L1131.1,1323.4 L1131.7,1322.2 L1132.4,1322.5 L1133.1,1324.6 L1133.8,1323.9 L1134.5,1320.0 L1135.2,1322.3 L1135.9,1322.5 L1136.6,1323.5 L1137.3,1321.8 L1138.0,1321.0 L1138.6,1321.3 L1139.3,1319.0 L1140.0,1321.9 L1140.7,1320.8 L1141.4,1322.6 L1142.1,1320.0 L1142.8,1320.9 L1143.5,1319.9 L1144.2,1319.6 L1144.9,1322.5 L1145.6,1320.4 L1146.2,1321.8 L1146.9,1319.0 L1147.6,1321.0 L1148.3,1317.8 L1149.0,1319.7 L1149.7,1319.5 L1150.4,1321.2 L1151.1,1320.4 L1151.8,1319.6 L1152.5,1321.2 L1153.1,1319.9 L1153.8,1320.3 L1154.5,1320.5 L1155.2,1319.0 L1155.9,1318.4 L1156.6,1319.3 L1157.3,1317.9 L1158.0,1319.1 L1158.7,1320.2 L1159.4,1319.7 L1160.1,1317.4 L1160.7,1315.8 L1161.4,1317.8 L1162.1,1317.7 L1162.8,1319.7 L1163.5,1317.2 L1164.2,1317.5 L1164.9,1319.1 L1165.6,1317.1 L1166.3,1317.7 L1167.0,1321.0 L1167.7,1320.7 L1168.3,1319.4 L1169.0,1318.9 L1169.7,1316.9 L1170.4,1319.7 L1171.1,1319.0 L1171.8,1319.4 L1172.5,1318.3 L1173.2,1319.3 L1173.9,1319.2 L1174.6,1320.2 L1175.2,1322.2 L1175.9,1320.6 L1176.6,1317.3 L1177.3,1318.6 L1178.0,1317.7 L1178.7,1319.2 L1179.4,1321.6 L1180.1,1321.5 L1180.8,1319.9 L1181.5,1321.5 L1182.2,1319.9 L1182.8,1318.9 L1183.5,1319.0 L1184.2,1320.0 L1184.9,1323.9 L1185.6,1319.3 L1186.3,1323.8 L1187.0,1324.0 L1187.7,1321.5 L1188.4,1321.8 L1189.1,1320.9 L1189.7,1321.9 L1190.4,1323.1 L1191.1,1322.1 L1191.8,1323.8 L1192.5,1324.1 L1193.2,1322.7 L1193.9,1322.7 L1194.6,1322.1 L1195.3,1322.8 L1196.0,1320.3 L1196.7,1322.9 L1197.3,1322.6 L1198.0,1320.8 L1198.7,1325.9 L1199.4,1320.6 L1200.1,1320.8 L1200.8,1322.7 L1201.5,1319.0 L1202.2,1320.9 L1202.9,1319.7 L1203.6,1320.6 L1204.2,1322.1 L1204.9,1322.8 L1205.6,1324.1 L1206.3,1323.6 L1207.0,1324.3 L1207.7,1323.3 L1208.4,1321.5 L1209.1,1324.1 L1209.8,1321.4 L1210.5,1321.2 L1211.2,1324.8 L1211.8,1323.5 L1212.5,1322.6 L1213.2,1323.5 L1213.9,1323.7 L1214.6,1319.8 L1215.3,1322.0 L1216.0,1320.1 L1216.7,1322.3 L1217.4,1320.9 L1218.1,1324.4 L1218.7,1322.9 L1219.4,1320.6 L1220.1,1321.9 L1220.8,1319.9 L1221.5,1322.0 L1222.2,1322.8 L1222.9,1322.3 L1223.6,1318.5 L1224.3,1321.2 L1225.0,1322.6 L1225.7,1322.2 L1226.3,1323.6 L1227.0,1319.4 L1227.7,1322.4 L1228.4,1320.4 L1229.1,1321.7 L1229.8,1322.0 L1230.5,1322.4 L1231.2,1320.2 L1231.9,1321.4 L1232.6,1319.0 L1233.2,1318.5 L1233.9,1321.7 L1234.6,1320.5 L1235.3,1317.7 L1236.0,1318.8 L1236.7,1320.1 L1237.4,1322.5 L1238.1,1321.4 L1238.8,1320.6 L1239.5,1315.9 L1240.2,1318.3 L1240.8,1318.8 L1241.5,1318.1 L1242.2,1317.5 L1242.9,1315.6 L1243.6,1318.0 L1244.3,1316.5 L1245.0,1312.6 L1245.7,1309.8 L1246.4,1313.4 L1247.1,1307.2 L1247.7,1308.4 L1248.4,1307.5 L1249.1,1300.5 L1249.8,1300.4 L1250.5,1297.0 L1251.2,1296.2 L1251.9,1293.7 L1252.6,1294.6 L1253.3,1290.7 L1254.0,1288.5 L1254.7,1289.8 L1255.3,1287.4 L1256.0,1287.4 L1256.7,1292.3 L1257.4,1287.6 L1258.1,1288.9 L1258.8,1290.7 L1259.5,1289.9 L1260.2,1289.2 L1260.9,1295.7 L1261.6,1293.9 L1262.2,1295.6 L1262.9,1297.2 L1263.6,1297.4 L1264.3,1298.6 L1265.0,1302.0 L1265.7,1307.0 L1266.4,1305.4 L1267.1,1306.6 L1267.8,1303.9 L1268.5,1307.5 L1269.2,1306.6 L1269.8,1310.9 L1270.5,1310.1 L1271.2,1311.4 L1271.9,1312.0 L1272.6,1311.9 L1273.3,1311.0 L1274.0,1315.2 L1274.7,1312.5 L1275.4,1313.4 L1276.1,1315.4 L1276.7,1315.2 L1277.4,1317.3 L1278.1,1318.9 L1278.8,1318.0 L1279.5,1318.2 L1280.2,1318.3 L1280.9,1319.9 L1281.6,1315.6 L1282.3,1319.6 L1283.0,1317.6 L1283.7,1317.3 L1284.3,1319.6 L1285.0,1319.0 L1285.7,1320.8 L1286.4,1321.9 L1287.1,1316.2 L1287.8,1320.1 L1288.5,1323.7 L1289.2,1321.9 L1289.9,1323.0 L1290.6,1320.8 L1291.2,1318.2 L1291.9,1318.9 L1292.6,1322.0 L1293.3,1322.5 L1294.0,1319.7 L1294.7,1320.6 L1295.4,1321.5 L1296.1,1318.2 L1296.8,1320.6 L1297.5,1324.0 L1298.2,1325.0 L1298.8,1321.1 L1299.5,1324.5 L1300.2,1320.5 L1300.9,1320.1 L1301.6,1317.7 L1302.3,1323.1 L1303.0,1320.9 L1303.7,1325.6 L1304.4,1322.2 L1305.1,1322.0 L1305.8,1318.6 L1306.4,1324.3 L1307.1,1321.1 L1307.8,1321.5 L1308.5,1318.0 L1309.2,1323.4 L1309.9,1323.5 L1310.6,1320.8 L1311.3,1322.0 L1312.0,1322.6 L1312.7,1323.5 L1313.3,1322.1 L1314.0,1324.9 L1314.7,1321.5 L1315.4,1320.9 L1316.1,1321.2 L1316.8,1317.7 L1317.5,1320.7 L1318.2,1323.8 L1318.9,1322.5 L1319.6,1320.7 L1320.3,1322.7 L1320.9,1318.7 L1321.6,1321.6 L1322.3,1323.0 L1323.0,1323.3 L1323.7,1320.8 L1324.4,1323.7 L1325.1,1325.3 L1325.8,1321.4 L1326.5,1323.4 L1327.2,1319.5 L1327.8,1318.9 L1328.5,1323.2 L1329.2,1322.3 L1329.9,1322.6 L1330.6,1321.2 L1331.3,1321.7 L1332.0,1323.6 L1332.7,1325.2 L1333.4,1321.9 L1334.1,1319.5 L1334.8,1324.4 L1335.4,1323.3 L1336.1,1323.4 L1336.8,1322.6 L1337.5,1326.2 L1338.2,1322.4 L1338.9,1323.2 L1339.6,1319.1 L1340.3,1321.3 L1341.0,1321.1 L1341.7,1322.3 L1342.3,1322.9 L1343.0,1321.0 L1343.7,1325.3 L1344.4,1320.5 L1345.1,1321.5 L1345.8,1322.7 L1346.5,1320.2 L1347.2,1323.3 L1347.9,1323.4 L1348.6,1321.8 L1349.3,1325.6 L1349.9,1322.5 L1350.6,1322.8 L1351.3,1320.7 L1352.0,1319.5 L1352.7,1321.2 L1353.4,1321.8 L1354.1,1321.5 L1354.8,1323.6 L1355.5,1318.2 L1356.2,1320.4 L1356.8,1319.2 L1357.5,1324.6 L1358.2,1321.3 L1358.9,1321.4 L1359.6,1320.4 L1360.3,1323.8 L1361.0,1321.5 L1361.7,1322.6 L1362.4,1318.8 L1363.1,1324.2 L1363.8,1322.9 L1364.4,1323.1 L1365.1,1324.3 L1365.8,1321.8 L1366.5,1321.8 L1367.2,1323.3 L1367.9,1322.8 L1368.6,1321.6 L1369.3,1322.1 L1370.0,1321.2 L1370.7,1323.2 L1371.3,1323.5 L1372.0,1321.9 L1372.7,1325.1 L1373.4,1319.2 L1374.1,1321.4 L1374.8,1324.7 L1375.5,1321.0 L1376.2,1318.9 L1376.9,1324.0 L1377.6,1322.5 L1378.3,1319.4 L1378.9,1322.7 L1379.6,1319.6 L1380.3,1319.0 L1381.0,1320.9 L1381.7,1320.3 L1382.4,1319.1 L1383.1,1320.3 L1383.8,1319.1 L1384.5,1320.8 L1385.2,1320.6 L1385.8,1321.8 L1386.5,1319.6 L1387.2,1318.0 L1387.9,1317.9 L1388.6,1319.6 L1389.3,1322.6 L1390.0,1321.3 L1390.7,1318.6 L1391.4,1321.2 L1392.1,1317.5 L1392.8,1321.0 L1393.4,1318.5 L1394.1,1320.3 L1394.8,1320.0 L1395.5,1318.3 L1396.2,1319.2 L1396.9,1316.7 L1397.6,1318.3 L1398.3,1320.2 L1399.0,1325.2 L1399.7,1319.3 L1400.3,1318.2 L1401.0,1316.2 L1401.7,1319.7 L1402.4,1315.0 L1403.1,1316.4 L1403.8,1318.3 L1404.5,1315.7 L1405.2,1320.3 L1405.9,1319.6 L1406.6,1316.8 L1407.3,1316.9 L1407.9,1315.7 L1408.6,1315.8 L1409.3,1319.1 L1410.0,1319.6 L1410.7,1319.3 L1411.4,1319.4 L1412.1,1318.2 L1412.8,1320.0 L1413.5,1317.1 L1414.2,1319.8 L1414.8,1322.5 L1415.5,1322.5 L1416.2,1319.6 L1416.9,1320.0 L1417.6,1323.1 L1418.3,1324.0 L1419.0,1318.5 L1419.7,1320.5 L1420.4,1321.8 L1421.1,1323.6 L1421.8,1320.2 L1422.4,1322.8 L1423.1,1321.3 L1423.8,1325.9 L1424.5,1322.7 L1425.2,1321.8 L1425.9,1321.5 L1426.6,1323.9 L1427.3,1323.3 L1428.0,1320.4 L1428.7,1322.6 L1429.3,1320.0 L1430.0,1321.0 L1430.7,1320.1 L1431.4,1320.1 L1432.1,1321.2 L1432.8,1320.7 L1433.5,1323.3 L1434.2,1323.8 L1434.9,1322.0 L1435.6,1320.5 L1436.3,1323.8 L1436.9,1319.0 L1437.6,1319.2 L1438.3,1323.7 L1439.0,1323.6 L1439.7,1324.2 L1440.4,1322.1 L1441.1,1320.4 L1441.8,1321.7 L1442.5,1323.5 L1443.2,1321.2 L1443.9,1321.3 L1444.5,1320.2 L1445.2,1320.6 L1445.9,1324.0 L1446.6,1323.3 L1447.3,1320.6 L1448.0,1320.7 L1448.7,1321.6 L1449.4,1323.5 L1450.1,1320.6 L1450.8,1322.3 L1451.4,1318.9 L1452.1,1320.4 L1452.8,1323.3 L1453.5,1324.1 L1454.2,1320.6 L1454.9,1321.3 L1455.6,1324.0 L1456.3,1321.9 L1457.0,1321.7 L1457.7,1323.5 L1458.4,1322.9 L1459.0,1324.5 L1459.7,1324.0 L1460.4,1321.6 L1461.1,1322.4 L1461.8,1322.5 L1462.5,1320.3 L1463.2,1321.0 L1463.9,1324.3 L1464.6,1319.9 L1465.3,1324.3 L1465.9,1323.1 L1466.6,1322.4 L1467.3,1323.5 L1468.0,1323.4 L1468.7,1324.7 L1469.4,1321.9 L1470.1,1322.2 L1470.8,1322.2 L1471.5,1325.8 L1472.2,1324.2 L1472.9,1321.0 L1473.5,1322.1 L1474.2,1321.4 L1474.9,1322.6 L1475.6,1323.0 L1476.3,1326.5 L1477.0,1319.5 L1477.7,1324.4 L1478.4,1323.4 L1479.1,1321.4 L1479.8,1322.4 L1480.4,1321.8 L1481.1,1322.7 L1481.8,1324.3 L1482.5,1320.0 L1483.2,1324.8 L1483.9,1322.0 L1484.6,1325.2 L1485.3,1323.3 L1486.0,1324.7 L1486.7,1323.6 L1487.4,1324.5 L1488.0,1322.7 L1488.7,1321.2 L1489.4,1323.7 L1490.1,1323.8 L1490.8,1326.2 L1491.5,1319.2 L1492.2,1322.3 L1492.9,1324.4 L1493.6,1320.4 L1494.3,1322.2 L1494.9,1326.2 L1495.6,1325.0 L1496.3,1321.1 L1497.0,1325.0 L1497.7,1324.6 L1498.4,1323.9 L1499.1,1323.2 L1499.8,1323.0 L1500.5,1321.1 L1501.2,1321.7 L1501.9,1323.8 L1502.5,1322.8 L1503.2,1325.7 L1503.9,1322.0 L1504.6,1318.5 L1505.3,1322.0 L1506.0,1323.0 L1506.7,1323.2 L1507.4,1322.7 L1508.1,1321.2 L1508.8,1325.1 L1509.4,1321.4 L1510.1,1323.8 L1510.8,1322.1 L1511.5,1320.5 L1512.2,1325.0 L1512.9,1318.3 L1513.6,1321.1 L1514.3,1323.3 L1515.0,1321.9 L1515.7,1323.8 L1516.4,1322.4 L1517.0,1321.8 L1517.7,1326.2 L1518.4,1322.2 L1519.1,1322.3 L1519.8,1320.7 L1520.5,1321.3 L1521.2,1323.6 L1521.9,1323.5 L1522.6,1322.5 L1523.3,1321.3 L1523.9,1323.7 L1524.6,1319.6 L1525.3,1321.9 L1526.0,1322.0 L1526.7,1321.0 L1527.4,1322.7 L1528.1,1321.3 L1528.8,1321.1 L1529.5,1325.5 L1530.2,1323.7 L1530.9,1324.4 L1531.5,1322.5 L1532.2,1324.0 L1532.9,1323.7 L1533.6,1324.4 L1534.3,1326.4 L1535.0,1321.9 L1535.7,1322.7 L1536.4,1322.2 L1537.1,1316.3 L1537.8,1319.8 L1538.4,1322.2 L1539.1,1323.2 L1539.8,1321.2 L1540.5,1324.0 L1541.2,1324.2 L1541.9,1321.3 L1542.6,1324.4 L1543.3,1324.9 L1544.0,1322.7 L1544.7,1320.1 L1545.4,1324.3 L1546.0,1321.4 L1546.7,1321.0 L1547.4,1321.7 L1548.1,1320.5 L1548.8,1323.1 L1549.5,1322.5 L1550.2,1323.2 L1550.9,1321.9 L1551.6,1319.4 L1552.3,1320.4 L1552.9,1321.9 L1553.6,1319.6 L1554.3,1325.0 L1555.0,1319.4 L1555.7,1318.5 L1556.4,1321.2 L1557.1,1320.2 L1557.8,1318.6 L1558.5,1317.9 L1559.2,1318.7 L1559.9,1319.0 L1560.5,1318.4 L1561.2,1316.2 L1561.9,1317.0 L1562.6,1317.2 L1563.3,1316.6 L1564.0,1309.5 L1564.7,1312.7 L1565.4,1312.4 L1566.1,1312.8 L1566.8,1312.9 L1567.4,1313.7 L1568.1,1312.6 L1568.8,1310.9 L1569.5,1310.7 L1570.2,1313.2 L1570.9,1308.7 L1571.6,1310.0 L1572.3,1311.8 L1573.0,1309.6 L1573.7,1305.4 L1574.4,1309.5 L1575.0,1308.2 L1575.7,1308.9 L1576.4,1311.1 L1577.1,1310.5 L1577.8,1309.7 L1578.5,1312.2 L1579.2,1312.0 L1579.9,1312.0 L1580.6,1313.0 L1581.3,1313.5 L1582.0,1313.1 L1582.6,1313.6 L1583.3,1315.0 L1584.0,1313.9 L1584.7,1314.0 L1585.4,1318.9 L1586.1,1316.8 L1586.8,1317.7 L1587.5,1317.9 L1588.2,1318.6 L1588.9,1319.0 L1589.5,1319.5 L1590.2,1318.3 L1590.9,1321.6 L1591.6,1319.1 L1592.3,1322.3 L1593.0,1317.5 L1593.7,1319.2 L1594.4,1322.8 L1595.1,1321.1 L1595.8,1320.3 L1596.5,1322.3 L1597.1,1320.0 L1597.8,1322.0 L1598.5,1318.2 L1599.2,1321.3 L1599.9,1321.0 L1600.6,1323.1 L1601.3,1323.8 L1602.0,1320.9 L1602.7,1325.1 L1603.4,1321.4 L1604.0,1319.0 L1604.7,1318.5 L1605.4,1325.2 L1606.1,1322.5 L1606.8,1321.6 L1607.5,1321.4 L1608.2,1320.9 L1608.9,1325.1 L1609.6,1322.6 L1610.3,1325.9 L1611.0,1322.5 L1611.6,1318.9 L1612.3,1324.3 L1613.0,1322.3 L1613.7,1322.5 L1614.4,1325.6 L1615.1,1322.5 L1615.8,1324.9 L1616.5,1323.0 L1617.2,1321.7 L1617.9,1323.9 L1618.5,1322.0 L1619.2,1325.1 L1619.9,1324.7 L1620.6,1323.2 L1621.3,1324.1 L1622.0,1324.1 L1622.7,1322.6 L1623.4,1324.6 L1624.1,1322.7 L1624.8,1324.2 L1625.5,1321.5 L1626.1,1323.3 L1626.8,1323.9 L1627.5,1321.8 L1628.2,1322.5 L1628.9,1322.3 L1629.6,1324.4 L1630.3,1322.0 L1631.0,1323.9 L1631.7,1325.8 L1632.4,1323.8 L1633.0,1320.5 L1633.7,1323.4 L1634.4,1325.0 L1635.1,1322.7 L1635.8,1325.1 L1636.5,1324.3 L1637.2,1323.9 L1637.9,1322.8 L1638.6,1322.3 L1639.3,1322.8 L1640.0,1323.3 L1640.6,1324.1 L1641.3,1323.9 L1642.0,1322.7 L1642.7,1323.3 L1643.4,1323.8 L1644.1,1320.4 L1644.8,1321.8 L1645.5,1321.8 L1646.2,1322.8 L1646.9,1322.7 L1647.5,1322.7 L1648.2,1321.6 L1648.9,1324.2 L1649.6,1323.5 L1650.3,1320.3 L1651.0,1323.1 L1651.7,1321.1 L1652.4,1325.9 L1653.1,1322.2 L1653.8,1322.3 L1654.5,1323.1 L1655.1,1322.6 L1655.8,1322.8 L1656.5,1325.5 L1657.2,1323.2 L1657.9,1324.2 L1658.6,1324.6 L1659.3,1321.0 L1660.0,1325.5 L1660.7,1323.7 L1661.4,1324.2 L1662.0,1321.0 L1662.7,1323.8 L1663.4,1323.0 L1664.1,1321.3 L1664.8,1326.1 L1665.5,1323.0 L1666.2,1321.6 L1666.9,1322.2 L1667.6,1323.3 L1668.3,1323.5 L1669.0,1322.4 L1669.6,1323.3 L1670.3,1323.5 L1671.0,1318.7 L1671.7,1319.7 L1672.4,1318.6 L1673.1,1320.0 L1673.8,1321.9 L1674.5,1320.1 L1675.2,1316.7 L1675.9,1317.3 L1676.5,1318.9 L1677.2,1315.5 L1677.9,1315.5 L1678.6,1315.3 L1679.3,1310.7 L1680.0,1314.0 L1680.7,1312.1 L1681.4,1311.3 L1682.1,1307.3 L1682.8,1306.3 L1683.5,1305.2 L1684.1,1305.2 L1684.8,1303.5 L1685.5,1302.2 L1686.2,1303.7 L1686.9,1301.7 L1687.6,1297.2 L1688.3,1296.4 L1689.0,1299.9 L1689.7,1296.1 L1690.4,1299.0 L1691.0,1299.5 L1691.7,1296.2 L1692.4,1297.1 L1693.1,1298.3 L1693.8,1297.4 L1694.5,1298.0 L1695.2,1299.8 L1695.9,1302.9 L1696.6,1301.7 L1697.3,1303.1 L1698.0,1303.7 L1698.6,1303.2 L1699.3,1309.1 L1700.0,1303.6 L1700.7,1307.4 L1701.4,1310.5 L1702.1,1308.1 L1702.8,1312.4 L1703.5,1314.3 L1704.2,1311.5 L1704.9,1314.1 L1705.5,1312.6 L1706.2,1316.0 L1706.9,1316.0 L1707.6,1316.8 L1708.3,1319.3 L1709.0,1318.3 L1709.7,1320.2 L1710.4,1319.5 L1711.1,1316.8 L1711.8,1319.6 L1712.5,1320.4 L1713.1,1317.4 L1713.8,1322.4 L1714.5,1320.5 L1715.2,1321.3 L1715.9,1319.3 L1716.6,1321.2 L1717.3,1321.7 L1718.0,1320.8 L1718.7,1321.7 L1719.4,1318.1 L1720.1,1324.1 L1720.7,1320.0 L1721.4,1318.3 L1722.1,1320.5 L1722.8,1320.8 L1723.5,1323.2 L1724.2,1320.9 L1724.9,1323.0 L1725.6,1320.9 L1726.3,1326.4 L1727.0,1323.6 L1727.6,1326.1 L1728.3,1321.1 L1729.0,1324.0 L1729.7,1321.3 L1730.4,1323.9 L1731.1,1324.1 L1731.8,1320.3 L1732.5,1321.1 L1733.2,1321.1 L1733.9,1320.6 L1734.6,1321.9 L1735.2,1321.6 L1735.9,1320.8 L1736.6,1323.4 L1737.3,1324.2 L1738.0,1321.1 L1738.7,1322.4 L1739.4,1323.4 L1740.1,1323.0 L1740.8,1322.2 L1741.5,1324.8 L1742.1,1324.9 L1742.8,1324.6 L1743.5,1323.1 L1744.2,1326.9 L1744.9,1326.5 L1745.6,1322.9 L1746.3,1323.4 L1747.0,1325.6 L1747.7,1322.2 L1748.4,1324.3 L1749.1,1323.7 L1749.7,1322.4 L1750.4,1323.3 L1751.1,1321.0 L1751.8,1322.8 L1752.5,1320.3 L1753.2,1327.6 L1753.9,1326.3 L1754.6,1325.8 L1755.3,1324.2 L1756.0,1325.4 L1756.6,1325.9 L1757.3,1325.5 L1758.0,1325.3 L1758.7,1322.2 L1759.4,1324.5 L1760.1,1322.9 L1760.8,1321.8 L1761.5,1321.8 L1762.2,1324.5 L1762.9,1325.6 L1763.6,1321.5 L1764.2,1326.8 L1764.9,1326.3 L1765.6,1323.2 L1766.3,1323.0 L1767.0,1323.7 L1767.7,1325.5 L1768.4,1323.1 L1769.1,1321.9 L1769.8,1324.4 L1770.5,1320.3 L1771.1,1324.0 L1771.8,1325.7 L1772.5,1324.3 L1773.2,1325.1 L1773.9,1324.6 L1774.6,1325.0 L1775.3,1324.0 L1776.0,1322.3 L1776.7,1323.3 L1777.4,1323.6 L1778.1,1325.8 L1778.7,1326.4 L1779.4,1324.4 L1780.1,1322.3 L1780.8,1322.4 L1781.5,1323.3 L1782.2,1325.9 L1782.9,1324.1 L1783.6,1323.4 L1784.3,1322.2 L1785.0,1324.9 L1785.6,1323.9 L1786.3,1323.3 L1787.0,1323.5 L1787.7,1326.1 L1788.4,1322.9 L1789.1,1326.0 L1789.8,1325.2 L1790.5,1323.1 L1791.2,1324.5 L1791.9,1322.7 L1792.6,1321.4 L1793.2,1322.3 L1793.9,1321.1 L1794.6,1323.5 L1795.3,1322.5 L1796.0,1323.4 L1796.7,1323.7 L1797.4,1316.9 L1798.1,1322.6 L1798.8,1318.9 L1799.5,1322.2 L1800.1,1320.3 L1800.8,1321.8 L1801.5,1323.8 L1802.2,1318.4 L1802.9,1321.5 L1803.6,1320.9 L1804.3,1317.7 L1805.0,1321.8 L1805.7,1320.6 L1806.4,1319.5 L1807.1,1318.9 L1807.7,1325.4 L1808.4,1319.1 L1809.1,1316.5 L1809.8,1317.8 L1810.5,1318.6 L1811.2,1318.3 L1811.9,1318.6 L1812.6,1316.8 L1813.3,1319.2 L1814.0,1317.3 L1814.6,1315.6 L1815.3,1316.3 L1816.0,1316.8 L1816.7,1318.6 L1817.4,1317.8 L1818.1,1316.2 L1818.8,1316.6 L1819.5,1316.7 L1820.2,1319.6 L1820.9,1314.9 L1821.6,1316.5 L1822.2,1316.8 L1822.9,1313.7 L1823.6,1315.5 L1824.3,1315.3 L1825.0,1314.1 L1825.7,1315.7 L1826.4,1316.4 L1827.1,1316.5 L1827.8,1314.2 L1828.5,1314.7 L1829.1,1318.4 L1829.8,1312.5 L1830.5,1314.7 L1831.2,1315.9 L1831.9,1314.7 L1832.6,1315.7 L1833.3,1315.0 L1834.0,1316.2 L1834.7,1317.3 L1835.4,1314.9 L1836.1,1315.9 L1836.7,1315.7 L1837.4,1315.4 L1838.1,1316.3 L1838.8,1314.6 L1839.5,1318.1 L1840.2,1319.9 L1840.9,1320.1 L1841.6,1319.6 L1842.3,1316.0 L1843.0,1320.4 L1843.6,1316.7 L1844.3,1317.9 L1845.0,1321.2 L1845.7,1316.2 L1846.4,1319.4 L1847.1,1318.3 L1847.8,1317.4 L1848.5,1316.0 L1849.2,1317.9 L1849.9,1316.1 L1850.6,1318.3 L1851.2,1318.1 L1851.9,1313.2 L1852.6,1314.1 L1853.3,1313.8 L1854.0,1311.7 L1854.7,1311.2 L1855.4,1312.6 L1856.1,1311.4 L1856.8,1308.3 L1857.5,1309.6 L1858.2,1310.9 L1858.8,1307.5 L1859.5,1307.6 L1860.2,1311.7 L1860.9,1311.2 L1861.6,1306.3 L1862.3,1307.0 L1863.0,1310.3 L1863.7,1308.1 L1864.4,1310.3 L1865.1,1310.6 L1865.7,1313.0 L1866.4,1308.5 L1867.1,1309.8 L1867.8,1312.2 L1868.5,1316.7 L1869.2,1315.4 L1869.9,1313.4 L1870.6,1317.7 L1871.3,1318.6 L1872.0,1317.5 L1872.7,1317.8 L1873.3,1319.5 L1874.0,1321.1 L1874.7,1319.6 L1875.4,1320.5 L1876.1,1319.7 L1876.8,1319.2 L1877.5,1318.4 L1878.2,1320.5 L1878.9,1319.5 L1879.6,1319.6 L1880.2,1321.6 L1880.9,1320.7 L1881.6,1321.3 L1882.3,1317.0 L1883.0,1320.5 L1883.7,1318.4 L1884.4,1317.8 L1885.1,1317.5 L1885.8,1320.8 L1886.5,1319.9 L1887.2,1317.1 L1887.8,1316.1 L1888.5,1317.8 L1889.2,1316.7 L1889.9,1320.0 L1890.6,1314.4 L1891.3,1313.4 L1892.0,1315.8 L1892.7,1315.9 L1893.4,1315.8 L1894.1,1316.5 L1894.7,1318.3 L1895.4,1313.9 L1896.1,1313.2 L1896.8,1310.8 L1897.5,1313.8 L1898.2,1314.5 L1898.9,1312.2 L1899.6,1314.4 L1900.3,1312.1 L1901.0,1314.3 L1901.7,1312.0 L1902.3,1309.3 L1903.0,1309.7 L1903.7,1308.0 L1904.4,1307.4 L1905.1,1310.6 L1905.8,1311.5 L1906.5,1313.2 L1907.2,1309.6 L1907.9,1309.3 L1908.6,1307.7 L1909.2,1311.3 L1909.9,1310.3 L1910.6,1308.8 L1911.3,1311.2 L1912.0,1311.3 L1912.7,1307.6 L1913.4,1312.4 L1914.1,1311.9 L1914.8,1311.5 L1915.5,1312.1 L1916.2,1316.3 L1916.8,1316.6 L1917.5,1317.7 L1918.2,1313.2 L1918.9,1314.7 L1919.6,1317.9 L1920.3,1314.9 L1921.0,1316.3 L1921.7,1315.1 L1922.4,1321.8 L1923.1,1321.0 L1923.7,1320.4 L1924.4,1320.5 L1925.1,1319.8 L1925.8,1320.3 L1926.5,1322.4 L1927.2,1320.5 L1927.9,1324.1 L1928.6,1321.5 L1929.3,1321.1 L1930.0,1325.1 L1930.7,1322.9 L1931.3,1324.3 L1932.0,1322.9 L1932.7,1319.9 L1933.4,1324.8 L1934.1,1321.8 L1934.8,1326.0 L1935.5,1321.7 L1936.2,1321.3 L1936.9,1325.1 L1937.6,1325.4 L1938.2,1324.9 L1938.9,1322.8 L1939.6,1326.4 L1940.3,1322.5 L1941.0,1324.2 L1941.7,1323.7 L1942.4,1324.5 L1943.1,1326.6 L1943.8,1324.2 L1944.5,1326.2 L1945.2,1326.5 L1945.8,1322.4 L1946.5,1323.4 L1947.2,1324.8 L1947.9,1324.5 L1948.6,1326.0 L1949.3,1322.2 L1950.0,1326.8 L1950.7,1326.8 L1951.4,1325.3 L1952.1,1323.3 L1952.7,1325.7 L1953.4,1324.8 L1954.1,1326.7 L1954.8,1325.6 L1955.5,1327.0 L1956.2,1325.0 L1956.9,1328.2 L1957.6,1321.9 L1958.3,1324.1 L1959.0,1326.7 L1959.7,1323.3 L1960.3,1327.1 L1961.0,1323.8 L1961.7,1326.1 L1962.4,1324.4 L1963.1,1325.2 L1963.8,1326.3 L1964.5,1325.8 L1965.2,1325.3 L1965.9,1329.7 L1966.6,1326.0 L1967.2,1324.4 L1967.9,1327.6 L1968.6,1327.5 L1969.3,1328.2 L1970.0,1329.1 L1970.7,1324.5 L1971.4,1327.9 L1972.1,1328.1 L1972.8,1326.1 L1973.5,1326.6 L1974.2,1321.1 L1974.8,1325.2 L1975.5,1329.2 L1976.2,1323.2 L1976.9,1325.3 L1977.6,1326.7 L1978.3,1327.2 L1979.0,1329.0 L1979.7,1323.2 L1980.4,1326.3 L1981.1,1327.7 L1981.7,1324.0 L1982.4,1326.2 L1983.1,1329.5 L1983.8,1328.5 L1984.5,1327.2 L1985.2,1321.9 L1985.9,1326.1 L1986.6,1327.0 L1987.3,1325.8 L1988.0,1326.2 L1988.7,1331.6 L1989.3,1326.0 L1990.0,1324.7 L1990.7,1326.8 L1991.4,1325.9 L1992.1,1325.9 L1992.8,1326.3 L1993.5,1327.7 L1994.2,1326.8 L1994.9,1324.4 L1995.6,1326.2 L1996.3,1327.3 L1996.9,1325.7 L1997.6,1328.4 L1998.3,1327.8 L1999.0,1324.8 L1999.7,1327.0 L2000.4,1329.9 L2001.1,1329.1 L2001.8,1326.4 L2002.5,1328.0 L2003.2,1325.4 L2003.8,1324.1 L2004.5,1327.5 L2005.2,1326.9 L2005.9,1327.4 L2006.6,1326.5 L2007.3,1327.1 L2008.0,1325.7 L2008.7,1327.4 L2009.4,1328.0 L2010.1,1326.5 L2010.8,1327.9 L2011.4,1323.6 L2012.1,1325.2 L2012.8,1329.0 L2013.5,1329.6 L2014.2,1327.0 L2014.9,1326.4 L2015.6,1324.4 L2016.3,1327.2 L2017.0,1327.9 L2017.7,1324.1 L2018.3,1327.6 L2019.0,1327.4 L2019.7,1327.4 L2020.4,1324.7 L2021.1,1327.5 L2021.8,1324.1 L2022.5,1329.1 L2023.2,1326.8 L2023.9,1324.6 L2024.6,1328.9 L2025.3,1328.6 L2025.9,1325.5 L2026.6,1330.4 L2027.3,1324.9 L2028.0,1327.1 L2028.7,1328.6 L2029.4,1322.7 L2030.1,1328.3 L2030.8,1326.5 L2031.5,1326.6 L2032.2,1324.7 L2032.8,1327.1 L2033.5,1324.7 L2034.2,1324.9 L2034.9,1325.8 L2035.6,1324.4 L2036.3,1329.2 L2037.0,1324.2 L2037.7,1325.2 L2038.4,1325.9 L2039.1,1326.4 L2039.8,1327.7 L2040.4,1327.7 L2041.1,1325.8 L2041.8,1325.6 L2042.5,1326.3 L2043.2,1327.5 L2043.9,1327.3 L2044.6,1325.1 L2045.3,1322.4 L2046.0,1329.4 L2046.7,1327.3 L2047.3,1325.9 L2048.0,1325.9 L2048.7,1324.2 L2049.4,1323.2 L2050.1,1324.1 L2050.8,1324.0 L2051.5,1323.0 L2052.2,1321.3 L2052.9,1322.9 L2053.6,1324.0 L2054.3,1321.8 L2054.9,1322.3 L2055.6,1318.3 L2056.3,1321.1 L2057.0,1320.8 L2057.7,1318.5 L2058.4,1317.3 L2059.1,1320.6 L2059.8,1318.2 L2060.5,1320.2 L2061.2,1318.5 L2061.8,1320.2 L2062.5,1318.5 L2063.2,1316.6 L2063.9,1319.1 L2064.6,1318.7 L2065.3,1320.5 L2066.0,1318.8 L2066.7,1319.0 L2067.4,1321.3 L2068.1,1322.0 L2068.8,1321.5 L2069.4,1322.2 L2070.1,1321.4 L2070.8,1322.2 L2071.5,1322.6 L2072.2,1322.0 L2072.9,1321.7 L2073.6,1322.1 L2074.3,1326.2 L2075.0,1322.3 L2075.7,1322.1 L2076.3,1322.1 L2077.0,1322.9 L2077.7,1323.6 L2078.4,1321.5 L2079.1,1320.3 L2079.8,1324.3 L2080.5,1321.3 L2081.2,1324.6 L2081.9,1324.6 L2082.6,1326.5 L2083.3,1327.5 L2083.9,1325.5 L2084.6,1324.1 L2085.3,1323.1 L2086.0,1323.9 L2086.7,1325.5 L2087.4,1322.0 L2088.1,1325.7 L2088.8,1325.7 L2089.5,1326.9 L2090.2,1325.3 L2090.8,1326.1 L2091.5,1324.8 L2092.2,1325.3 L2092.9,1323.2 L2093.6,1326.4 L2094.3,1328.9 L2095.0,1326.6 L2095.7,1327.0 L2096.4,1324.8 L2097.1,1328.9 L2097.8,1325.2 L2098.4,1327.9 L2099.1,1326.8 L2099.8,1325.0 L2100.5,1328.4 L2101.2,1326.7 L2101.9,1327.0 L2102.6,1327.5 L2103.3,1326.7 L2104.0,1326.1 L2104.7,1327.5 L2105.3,1326.1 L2106.0,1326.9 L2106.7,1325.6 L2107.4,1324.2 L2108.1,1325.6 L2108.8,1325.9 L2109.5,1326.8 L2110.2,1328.8 L2110.9,1323.9 L2111.6,1327.0 L2112.3,1323.0 L2112.9,1325.0 L2113.6,1325.9 L2114.3,1322.9 L2115.0,1323.6 L2115.7,1327.0 L2116.4,1326.9 L2117.1,1326.5 L2117.8,1325.3 L2118.5,1330.3 L2119.2,1326.4 L2119.8,1325.2 L2120.5,1329.4 L2121.2,1327.6 L2121.9,1325.9 L2122.6,1328.5 L2123.3,1326.7 L2124.0,1327.5 L2124.7,1326.7 L2125.4,1324.5 L2126.1,1327.8 L2126.8,1326.4 L2127.4,1324.3 L2128.1,1324.6 L2128.8,1327.4 L2129.5,1325.1 L2130.2,1325.7 L2130.9,1326.6 L2131.6,1325.6 L2132.3,1322.6 L2133.0,1326.2 L2133.7,1326.5 L2134.4,1326.2 L2135.0,1327.3 L2135.7,1325.0 L2136.4,1325.5 L2137.1,1326.7 L2137.8,1323.3 L2138.5,1326.6 L2139.2,1326.3 L2139.9,1324.5 L2140.6,1326.1 L2141.3,1324.2 L2141.9,1321.0 L2142.6,1324.2 L2143.3,1322.5 L2144.0,1322.5 L2144.7,1321.8 L2145.4,1323.6 L2146.1,1322.0 L2146.8,1319.6 L2147.5,1321.4 L2148.2,1321.6 L2148.9,1319.0 L2149.5,1319.3 L2150.2,1319.2 L2150.9,1318.7 L2151.6,1320.2 L2152.3,1321.3 L2153.0,1322.7 L2153.7,1321.5 L2154.4,1321.2 L2155.1,1321.4 L2155.8,1321.8 L2156.4,1318.9 L2157.1,1320.8 L2157.8,1320.3 L2158.5,1319.7 L2159.2,1319.2 L2159.9,1319.3 L2160.6,1319.9 L2161.3,1318.4 L2162.0,1321.6 L2162.7,1320.9 L2163.4,1321.3 L2164.0,1322.0 L2164.7,1322.8 L2165.4,1320.8 L2166.1,1321.9 L2166.8,1319.6 L2167.5,1318.8 L2168.2,1319.5 L2168.9,1325.6 L2169.6,1320.1 L2170.3,1324.2 L2170.9,1326.2 L2171.6,1323.1 L2172.3,1326.8 L2173.0,1327.4 L2173.7,1326.1 L2174.4,1328.7 L2175.1,1325.9 L2175.8,1323.8 L2176.5,1326.1 L2177.2,1324.6 L2177.9,1323.3 L2178.5,1323.5 L2179.2,1329.7 L2179.9,1325.0 L2180.6,1326.0 L2181.3,1325.1 L2182.0,1326.5 L2182.7,1326.0 L2183.4,1325.8 L2184.1,1324.6 L2184.8,1324.3 L2185.4,1325.5 L2186.1,1327.4 L2186.8,1330.5 L2187.5,1328.8 L2188.2,1330.2 L2188.9,1328.0 L2189.6,1327.1 L2190.3,1325.0 L2191.0,1327.4 L2191.7,1323.8 L2192.4,1326.9 L2193.0,1330.3 L2193.7,1328.1 L2194.4,1329.5 L2195.1,1327.0 L2195.8,1325.3 L2196.5,1326.9 L2197.2,1327.1 L2197.9,1329.8 L2198.6,1331.1 L2199.3,1326.6 L2199.9,1327.2 L2200.6,1327.6 L2201.3,1327.3 L2202.0,1325.8 L2202.7,1328.1 L2203.4,1328.6 L2204.1,1328.6 L2204.8,1326.0 L2205.5,1327.8 L2206.2,1325.1 L2206.9,1329.6 L2207.5,1326.3 L2208.2,1327.6 L2208.9,1327.3 L2209.6,1327.1 L2210.3,1326.3 L2211.0,1325.2 L2211.7,1331.1 L2212.4,1328.6 L2213.1,1328.7 L2213.8,1331.8 L2214.4,1328.1 L2215.1,1329.2 L2215.8,1328.3 L2216.5,1330.3 L2217.2,1329.1 L2217.9,1328.8 L2218.6,1327.9 L2219.3,1328.8 L2220.0,1330.3 L2220.7,1324.8 L2221.4,1328.1 L2222.0,1327.7 L2222.7,1327.9 L2223.4,1325.0 L2224.1,1329.6 L2224.8,1327.0 L2225.5,1328.0 L2226.2,1327.6 L2226.9,1325.6 L2227.6,1327.7 L2228.3,1325.3 L2228.9,1326.9 L2229.6,1327.9 L2230.3,1328.5 L2231.0,1328.6 L2231.7,1328.3 L2232.4,1332.2 L2233.1,1329.3 L2233.8,1326.5 L2234.5,1327.5 L2235.2,1327.4 L2235.9,1328.3 L2236.5,1327.5 L2237.2,1327.1 L2237.9,1331.4 L2238.6,1328.7 L2239.3,1328.0 L2240.0,1328.2 L2240.7,1328.3 L2241.4,1331.0 L2242.1,1329.5 L2242.8,1330.6 L2243.4,1323.4 L2244.1,1329.2 L2244.8,1330.5 L2245.5,1332.0 L2246.2,1328.7 L2246.9,1325.8 L2247.6,1329.7 L2248.3,1327.7 L2249.0,1325.7 L2249.7,1327.7 L2250.4,1330.5 L2251.0,1330.8 L2251.7,1330.0 L2252.4,1327.0 L2253.1,1333.1 L2253.8,1326.8 L2254.5,1328.7 L2255.2,1326.3 L2255.9,1331.0 L2256.6,1329.6 L2257.3,1330.3 L2257.9,1329.0 L2258.6,1328.7 L2259.3,1329.1 L2260.0,1325.6 L2260.7,1330.6 L2261.4,1330.4 L2262.1,1328.2 L2262.8,1328.9 L2263.5,1329.4 L2264.2,1331.6 L2264.9,1329.6 L2265.5,1329.0 L2266.2,1328.1 L2266.9,1326.4 L2267.6,1327.9 L2268.3,1329.1 L2269.0,1328.5 L2269.7,1329.1 L2270.4,1330.2 L2271.1,1329.7 L2271.8,1329.5 L2272.5,1330.1 L2273.1,1329.3 L2273.8,1329.0 L2274.5,1329.8 L2275.2,1326.1 L2275.9,1331.2 L2276.6,1326.8 L2277.3,1330.5 L2278.0,1329.1 L2278.7,1330.9 L2279.4,1329.1 L2280.0,1327.5 L2280.7,1330.9 L2281.4,1329.4 L2282.1,1329.3 L2282.8,1329.2 L2283.5,1330.8 L2284.2,1330.5 L2284.9,1329.5 L2285.6,1326.5 L2286.3,1328.4 L2287.0,1329.3 L2287.6,1332.2 L2288.3,1329.8 L2289.0,1329.0 L2289.7,1331.2 L2290.4,1329.0 L2291.1,1329.1 L2291.8,1329.5 L2292.5,1326.7 L2293.2,1330.8 L2293.9,1329.9 L2294.5,1328.7 L2295.2,1327.3 L2295.9,1329.6 L2296.6,1331.6 L2297.3,1328.2 L2298.0,1327.4 L2298.7,1330.0 L2299.4,1326.6 L2300.1,1325.5 L2300.8,1328.5 L2301.5,1328.1 L2302.1,1328.8 L2302.8,1328.4 L2303.5,1329.9 L2304.2,1328.9 L2304.9,1328.3 L2305.6,1328.5 L2306.3,1330.4 L2307.0,1331.0 L2307.7,1330.9 L2308.4,1330.5 L2309.0,1323.8 L2309.7,1327.7 L2310.4,1328.8 L2311.1,1329.7 L2311.8,1326.6 L2312.5,1331.8 L2313.2,1329.9 L2313.9,1328.3 L2314.6,1329.7 L2315.3,1328.8 L2316.0,1328.1 L2316.6,1330.3 L2317.3,1328.7 L2318.0,1327.0 L2318.7,1328.4 L2319.4,1329.3 L2320.1,1327.6 L2320.8,1331.6 L2321.5,1327.6 L2322.2,1332.5 L2322.9,1331.0 L2323.5,1327.9 L2324.2,1329.7 L2324.9,1331.5 L2325.6,1329.2 L2326.3,1327.5 L2327.0,1329.7" stroke="#008000" stroke-width="3.7"/>
<path d="M255.5,1498.5 L256.2,1492.6 L256.9,1496.0 L257.6,1495.1 L258.3,1494.9 L259.0,1494.4 L259.6,1494.5 L260.3,1496.9 L261.0,1496.1 L261.7,1493.4 L262.4,1497.7 L263.1,1492.9 L263.8,1496.2 L264.5,1495.4 L265.2,1497.1 L265.9,1495.7 L266.5,1496.9 L267.2,1495.0 L267.9,1496.7 L268.6,1495.7 L269.3,1498.7 L270.0,1493.9 L270.7,1497.1 L271.4,1495.9 L272.1,1495.4 L272.8,1494.1 L273.5,1495.8 L274.1,1492.6 L274.8,1492.8 L275.5,1496.3 L276.2,1492.4 L276.9,1497.5 L277.6,1494.6 L278.3,1495.5 L279.0,1495.2 L279.7,1495.8 L280.4,1494.6 L281.0,1494.5 L281.7,1494.9 L282.4,1496.9 L283.1,1497.0 L283.8,1497.2 L284.5,1495.7 L285.2,1494.7 L285.9,1492.2 L286.6,1496.2 L287.3,1496.5 L288.0,1494.4 L288.6,1496.4 L289.3,1497.3 L290.0,1495.2 L290.7,1496.9 L291.4,1495.6 L292.1,1492.1 L292.8,1494.3 L293.5,1494.4 L294.2,1496.0 L294.9,1493.6 L295.5,1494.3 L296.2,1493.4 L296.9,1495.0 L297.6,1495.2 L298.3,1496.7 L299.0,1496.4 L299.7,1495.3 L300.4,1495.5 L301.1,1495.2 L301.8,1495.2 L302.5,1497.7 L303.1,1490.8 L303.8,1494.8 L304.5,1495.6 L305.2,1497.0 L305.9,1493.2 L306.6,1495.6 L307.3,1496.5 L308.0,1494.3 L308.7,1491.8 L309.4,1494.4 L310.0,1493.0 L310.7,1496.1 L311.4,1493.6 L312.1,1498.1 L312.8,1495.3 L313.5,1493.7 L314.2,1494.2 L314.9,1493.2 L315.6,1495.7 L316.3,1497.6 L317.0,1494.7 L317.6,1496.6 L318.3,1493.4 L319.0,1495.6 L319.7,1498.9 L320.4,1492.6 L321.1,1497.1 L321.8,1497.0 L322.5,1491.8 L323.2,1492.6 L323.9,1493.4 L324.5,1496.7 L325.2,1494.3 L325.9,1494.7 L326.6,1496.2 L327.3,1495.2 L328.0,1495.4 L328.7,1494.5 L329.4,1496.9 L330.1,1493.7 L330.8,1497.9 L331.5,1494.4 L332.1,1493.7 L332.8,1496.1 L333.5,1495.8 L334.2,1491.6 L334.9,1495.4 L335.6,1492.7 L336.3,1493.6 L337.0,1496.3 L337.7,1493.5 L338.4,1495.6 L339.1,1494.4 L339.7,1498.3 L340.4,1494.8 L341.1,1493.0 L341.8,1493.1 L342.5,1493.4 L343.2,1495.2 L343.9,1495.0 L344.6,1496.6 L345.3,1495.3 L346.0,1495.2 L346.6,1495.5 L347.3,1494.8 L348.0,1495.5 L348.7,1496.3 L349.4,1496.3 L350.1,1494.0 L350.8,1492.0 L351.5,1493.6 L352.2,1495.4 L352.9,1490.7 L353.6,1494.2 L354.2,1495.7 L354.9,1494.0 L355.6,1493.1 L356.3,1497.9 L357.0,1497.3 L357.7,1494.5 L358.4,1497.2 L359.1,1497.2 L359.8,1493.0 L360.5,1499.5 L361.1,1493.3 L361.8,1494.5 L362.5,1493.1 L363.2,1495.1 L363.9,1492.7 L364.6,1494.9 L365.3,1496.8 L366.0,1495.3 L366.7,1494.5 L367.4,1497.6 L368.1,1493.4 L368.7,1496.6 L369.4,1494.4 L370.1,1495.3 L370.8,1495.0 L371.5,1495.1 L372.2,1494.8 L372.9,1493.6 L373.6,1493.9 L374.3,1495.7 L375.0,1494.7 L375.6,1492.9 L376.3,1493.7 L377.0,1493.7 L377.7,1494.8 L378.4,1495.2 L379.1,1495.0 L379.8,1493.8 L380.5,1494.9 L381.2,1492.6 L381.9,1490.0 L382.6,1494.8 L383.2,1492.1 L383.9,1493.3 L384.6,1492.8 L385.3,1495.9 L386.0,1492.8 L386.7,1495.3 L387.4,1494.0 L388.1,1492.8 L388.8,1492.2 L389.5,1495.6 L390.1,1495.5 L390.8,1496.2 L391.5,1498.0 L392.2,1495.3 L392.9,1495.3 L393.6,1494.6 L394.3,1495.0 L395.0,1494.2 L395.7,1493.3 L396.4,1498.2 L397.1,1491.7 L397.7,1495.3 L398.4,1495.6 L399.1,1495.1 L399.8,1493.2 L400.5,1494.5 L401.2,1494.0 L401.9,1493.0 L402.6,1494.7 L403.3,1494.1 L404.0,1493.9 L404.6,1496.0 L405.3,1493.0 L406.0,1495.5 L406.7,1493.7 L407.4,1495.5 L408.1,1494.9 L408.8,1495.2 L409.5,1493.1 L410.2,1493.5 L410.9,1493.3 L411.6,1495.1 L412.2,1496.0 L412.9,1496.6 L413.6,1493.9 L414.3,1494.9 L415.0,1492.0 L415.7,1491.0 L416.4,1493.3 L417.1,1493.6 L417.8,1492.1 L418.5,1491.7 L419.1,1495.6 L419.8,1493.4 L420.5,1491.9 L421.2,1498.7 L421.9,1495.0 L422.6,1494.2 L423.3,1495.9 L424.0,1493.4 L424.7,1497.4 L425.4,1492.1 L426.1,1492.5 L426.7,1494.5 L427.4,1493.4 L428.1,1497.1 L428.8,1492.0 L429.5,1493.5 L430.2,1495.1 L430.9,1495.7 L431.6,1496.4 L432.3,1495.3 L433.0,1498.4 L433.6,1493.9 L434.3,1495.0 L435.0,1496.1 L435.7,1494.1 L436.4,1494.2 L437.1,1493.9 L437.8,1493.6 L438.5,1492.8 L439.2,1493.7 L439.9,1492.0 L440.6,1495.3 L441.2,1492.0 L441.9,1498.2 L442.6,1497.5 L443.3,1496.5 L444.0,1494.3 L444.7,1493.7 L445.4,1496.7 L446.1,1495.0 L446.8,1495.6 L447.5,1493.4 L448.1,1496.4 L448.8,1493.3 L449.5,1494.8 L450.2,1491.7 L450.9,1493.5 L451.6,1495.5 L452.3,1493.9 L453.0,1493.9 L453.7,1496.0 L454.4,1494.5 L455.1,1496.7 L455.7,1490.5 L456.4,1495.6 L457.1,1495.5 L457.8,1492.0 L458.5,1492.4 L459.2,1496.1 L459.9,1492.8 L460.6,1493.5 L461.3,1495.6 L462.0,1494.0 L462.6,1495.4 L463.3,1493.1 L464.0,1495.1 L464.7,1496.4 L465.4,1495.2 L466.1,1490.9 L466.8,1495.7 L467.5,1494.7 L468.2,1493.1 L468.9,1497.0 L469.6,1491.6 L470.2,1497.8 L470.9,1493.5 L471.6,1497.3 L472.3,1494.5 L473.0,1492.3 L473.7,1494.7 L474.4,1495.1 L475.1,1495.5 L475.8,1496.4 L476.5,1493.1 L477.2,1495.4 L477.8,1495.8 L478.5,1494.1 L479.2,1493.0 L479.9,1493.0 L480.6,1495.8 L481.3,1495.9 L482.0,1493.2 L482.7,1492.3 L483.4,1496.7 L484.1,1491.9 L484.7,1494.8 L485.4,1493.2 L486.1,1491.6 L486.8,1494.8 L487.5,1494.2 L488.2,1497.0 L488.9,1498.4 L489.6,1494.2 L490.3,1496.3 L491.0,1496.3 L491.7,1493.7 L492.3,1493.1 L493.0,1497.3 L493.7,1493.9 L494.4,1494.5 L495.1,1494.1 L495.8,1494.3 L496.5,1493.5 L497.2,1495.8 L497.9,1496.7 L498.6,1493.9 L499.2,1492.2 L499.9,1494.6 L500.6,1492.0 L501.3,1493.5 L502.0,1496.6 L502.7,1498.5 L503.4,1495.2 L504.1,1492.7 L504.8,1495.9 L505.5,1490.7 L506.2,1493.4 L506.8,1497.1 L507.5,1495.8 L508.2,1492.2 L508.9,1491.7 L509.6,1496.0 L510.3,1494.4 L511.0,1493.5 L511.7,1495.2 L512.4,1493.5 L513.1,1491.3 L513.7,1495.9 L514.4,1493.4 L515.1,1492.8 L515.8,1492.3 L516.5,1494.9 L517.2,1493.1 L517.9,1495.6 L518.6,1494.1 L519.3,1496.3 L520.0,1493.9 L520.7,1493.4 L521.3,1491.2 L522.0,1492.6 L522.7,1495.7 L523.4,1499.7 L524.1,1492.4 L524.8,1492.7 L525.5,1495.1 L526.2,1495.3 L526.9,1493.3 L527.6,1494.6 L528.2,1491.8 L528.9,1494.0 L529.6,1496.0 L530.3,1497.3 L531.0,1494.2 L531.7,1494.0 L532.4,1495.3 L533.1,1496.4 L533.8,1495.3 L534.5,1493.2 L535.2,1495.1 L535.8,1496.1 L536.5,1493.3 L537.2,1492.2 L537.9,1495.3 L538.6,1495.1 L539.3,1496.1 L540.0,1494.6 L540.7,1493.4 L541.4,1493.7 L542.1,1492.7 L542.7,1492.9 L543.4,1493.5 L544.1,1493.6 L544.8,1496.3 L545.5,1492.4 L546.2,1494.4 L546.9,1493.5 L547.6,1497.0 L548.3,1494.9 L549.0,1493.8 L549.7,1495.8 L550.3,1494.6 L551.0,1493.7 L551.7,1497.1 L552.4,1495.7 L553.1,1497.4 L553.8,1496.4 L554.5,1495.8 L555.2,1494.7 L555.9,1492.6 L556.6,1495.6 L557.2,1494.6 L557.9,1495.6 L558.6,1494.4 L559.3,1493.3 L560.0,1492.7 L560.7,1495.6 L561.4,1496.6 L562.1,1494.0 L562.8,1495.2 L563.5,1496.8 L564.2,1493.0 L564.8,1493.9 L565.5,1492.5 L566.2,1496.4 L566.9,1494.9 L567.6,1493.7 L568.3,1491.6 L569.0,1494.1 L569.7,1496.1 L570.4,1493.9 L571.1,1493.7 L571.7,1495.5 L572.4,1492.3 L573.1,1494.5 L573.8,1495.4 L574.5,1493.1 L575.2,1493.0 L575.9,1494.8 L576.6,1494.2 L577.3,1494.0 L578.0,1494.8 L578.7,1494.8 L579.3,1492.8 L580.0,1493.3 L580.7,1495.2 L581.4,1496.3 L582.1,1496.7 L582.8,1493.0 L583.5,1496.2 L584.2,1495.7 L584.9,1494.3 L585.6,1495.2 L586.2,1495.8 L586.9,1497.4 L587.6,1492.6 L588.3,1495.4 L589.0,1494.2 L589.7,1494.0 L590.4,1496.3 L591.1,1495.8 L591.8,1492.7 L592.5,1493.9 L593.2,1494.8 L593.8,1492.0 L594.5,1495.8 L595.2,1494.2 L595.9,1494.6 L596.6,1494.9 L597.3,1497.4 L598.0,1494.4 L598.7,1493.8 L599.4,1497.3 L600.1,1493.5 L600.7,1493.5 L601.4,1492.0 L602.1,1496.2 L602.8,1494.8 L603.5,1495.1 L604.2,1494.6 L604.9,1494.1 L605.6,1493.0 L606.3,1493.0 L607.0,1495.1 L607.7,1494.5 L608.3,1497.1 L609.0,1493.0 L609.7,1493.5 L610.4,1492.6 L611.1,1496.6 L611.8,1492.2 L612.5,1495.6 L613.2,1496.7 L613.9,1494.1 L614.6,1495.5 L615.3,1490.7 L615.9,1493.6 L616.6,1491.5 L617.3,1494.6 L618.0,1494.3 L618.7,1493.0 L619.4,1495.9 L620.1,1494.9 L620.8,1493.4 L621.5,1493.4 L622.2,1491.8 L622.8,1494.0 L623.5,1497.8 L624.2,1493.1 L624.9,1495.0 L625.6,1493.3 L626.3,1495.6 L627.0,1495.0 L627.7,1493.8 L628.4,1491.2 L629.1,1493.4 L629.8,1496.2 L630.4,1493.8 L631.1,1495.3 L631.8,1493.4 L632.5,1491.1 L633.2,1494.9 L633.9,1494.7 L634.6,1493.2 L635.3,1493.6 L636.0,1494.7 L636.7,1493.2 L637.3,1494.7 L638.0,1493.8 L638.7,1490.2 L639.4,1493.9 L640.1,1493.1 L640.8,1492.7 L641.5,1494.8 L642.2,1493.3 L642.9,1495.0 L643.6,1495.9 L644.3,1494.3 L644.9,1491.5 L645.6,1492.8 L646.3,1495.6 L647.0,1493.6 L647.7,1492.7 L648.4,1493.9 L649.1,1494.9 L649.8,1494.4 L650.5,1495.1 L651.2,1492.6 L651.8,1493.5 L652.5,1493.5 L653.2,1493.9 L653.9,1490.4 L654.6,1493.5 L655.3,1491.6 L656.0,1496.2 L656.7,1496.4 L657.4,1496.6 L658.1,1495.1 L658.8,1492.9 L659.4,1495.3 L660.1,1493.4 L660.8,1494.7 L661.5,1492.1 L662.2,1492.6 L662.9,1494.4 L663.6,1496.5 L664.3,1493.4 L665.0,1497.2 L665.7,1498.0 L666.3,1491.2 L667.0,1493.2 L667.7,1491.6 L668.4,1492.9 L669.1,1492.1 L669.8,1492.8 L670.5,1494.4 L671.2,1494.2 L671.9,1492.9 L672.6,1492.2 L673.3,1492.2 L673.9,1491.8 L674.6,1492.2 L675.3,1490.7 L676.0,1490.8 L676.7,1486.9 L677.4,1489.5 L678.1,1489.9 L678.8,1485.8 L679.5,1481.5 L680.2,1484.3 L680.8,1479.5 L681.5,1472.9 L682.2,1475.5 L682.9,1474.8 L683.6,1472.7 L684.3,1472.9 L685.0,1471.1 L685.7,1470.3 L686.4,1467.4 L687.1,1470.2 L687.8,1474.1 L688.4,1476.9 L689.1,1476.1 L689.8,1478.9 L690.5,1482.7 L691.2,1480.5 L691.9,1482.0 L692.6,1486.3 L693.3,1488.3 L694.0,1488.1 L694.7,1485.9 L695.3,1490.4 L696.0,1488.7 L696.7,1492.4 L697.4,1491.5 L698.1,1492.3 L698.8,1493.2 L699.5,1491.4 L700.2,1493.8 L700.9,1494.6 L701.6,1493.2 L702.3,1494.9 L702.9,1491.6 L703.6,1494.3 L704.3,1493.2 L705.0,1491.1 L705.7,1492.7 L706.4,1492.0 L707.1,1491.9 L707.8,1493.0 L708.5,1494.7 L709.2,1492.4 L709.8,1493.1 L710.5,1490.4 L711.2,1493.1 L711.9,1494.8 L712.6,1494.2 L713.3,1493.7 L714.0,1492.0 L714.7,1491.2 L715.4,1492.6 L716.1,1490.5 L716.8,1490.7 L717.4,1494.3 L718.1,1491.1 L718.8,1495.7 L719.5,1490.2 L720.2,1493.3 L720.9,1490.6 L721.6,1492.8 L722.3,1490.7 L723.0,1492.5 L723.7,1492.1 L724.3,1491.5 L725.0,1493.1 L725.7,1494.7 L726.4,1491.1 L727.1,1493.5 L727.8,1492.1 L728.5,1491.8 L729.2,1495.5 L729.9,1488.0 L730.6,1490.4 L731.3,1488.4 L731.9,1490.8 L732.6,1490.9 L733.3,1497.5 L734.0,1491.6 L734.7,1493.9 L735.4,1492.9 L736.1,1489.8 L736.8,1491.2 L737.5,1493.1 L738.2,1490.4 L738.8,1490.2 L739.5,1490.5 L740.2,1487.0 L740.9,1487.9 L741.6,1489.6 L742.3,1489.7 L743.0,1487.0 L743.7,1487.8 L744.4,1487.9 L745.1,1487.5 L745.8,1488.7 L746.4,1487.4 L747.1,1487.2 L747.8,1484.3 L748.5,1484.6 L749.2,1486.7 L749.9,1483.2 L750.6,1486.1 L751.3,1484.3 L752.0,1483.8 L752.7,1486.1 L753.4,1483.7 L754.0,1483.3 L754.7,1483.5 L755.4,1484.6 L756.1,1489.2 L756.8,1481.0 L757.5,1485.9 L758.2,1486.5 L758.9,1488.3 L759.6,1485.1 L760.3,1480.4 L760.9,1485.6 L761.6,1480.8 L762.3,1482.1 L763.0,1479.5 L763.7,1479.7 L764.4,1480.5 L765.1,1482.9 L765.8,1484.7 L766.5,1482.7 L767.2,1480.9 L767.9,1478.4 L768.5,1478.5 L769.2,1478.2 L769.9,1479.1 L770.6,1478.0 L771.3,1479.6 L772.0,1477.8 L772.7,1473.2 L773.4,1472.2 L774.1,1477.9 L774.8,1472.6 L775.4,1471.8 L776.1,1468.6 L776.8,1469.3 L777.5,1463.5 L778.2,1467.7 L778.9,1454.8 L779.6,1450.0 L780.3,1450.8 L781.0,1448.0 L781.7,1435.4 L782.4,1426.3 L783.0,1420.5 L783.7,1398.8 L784.4,1368.6 L785.1,1347.7 L785.8,1323.8 L786.5,1303.4 L787.2,1282.4 L787.9,1275.2 L788.6,1255.3 L789.3,1243.6 L789.9,1222.8 L790.6,1202.0 L791.3,1196.8 L792.0,1210.7 L792.7,1237.0 L793.4,1262.9 L794.1,1290.3 L794.8,1310.1 L795.5,1342.2 L796.2,1361.5 L796.9,1388.4 L797.5,1412.5 L798.2,1426.0 L798.9,1437.2 L799.6,1444.1 L800.3,1456.3 L801.0,1458.2 L801.7,1458.6 L802.4,1471.4 L803.1,1476.8 L803.8,1477.8 L804.4,1475.2 L805.1,1481.3 L805.8,1481.0 L806.5,1482.2 L807.2,1483.8 L807.9,1486.6 L808.6,1488.6 L809.3,1486.0 L810.0,1483.7 L810.7,1482.9 L811.4,1483.2 L812.0,1487.9 L812.7,1494.0 L813.4,1488.1 L814.1,1488.4 L814.8,1487.5 L815.5,1487.4 L816.2,1490.1 L816.9,1491.2 L817.6,1488.4 L818.3,1489.0 L818.9,1492.4 L819.6,1490.3 L820.3,1490.2 L821.0,1488.0 L821.7,1487.8 L822.4,1488.7 L823.1,1486.6 L823.8,1485.2 L824.5,1486.7 L825.2,1488.1 L825.9,1485.5 L826.5,1491.1 L827.2,1492.0 L827.9,1489.9 L828.6,1491.8 L829.3,1492.5 L830.0,1495.2 L830.7,1495.3 L831.4,1492.0 L832.1,1489.4 L832.8,1492.0 L833.4,1489.8 L834.1,1490.1 L834.8,1490.6 L835.5,1494.4 L836.2,1491.3 L836.9,1495.4 L837.6,1491.9 L838.3,1493.9 L839.0,1494.4 L839.7,1489.2 L840.4,1491.7 L841.0,1490.3 L841.7,1490.3 L842.4,1491.2 L843.1,1489.9 L843.8,1490.7 L844.5,1494.0 L845.2,1494.8 L845.9,1492.6 L846.6,1490.8 L847.3,1496.5 L847.9,1493.4 L848.6,1491.2 L849.3,1488.0 L850.0,1488.3 L850.7,1489.7 L851.4,1487.9 L852.1,1492.5 L852.8,1490.4 L853.5,1491.1 L854.2,1488.9 L854.9,1488.9 L855.5,1486.4 L856.2,1486.9 L856.9,1486.0 L857.6,1485.9 L858.3,1486.9 L859.0,1487.4 L859.7,1491.0 L860.4,1489.7 L861.1,1488.9 L861.8,1489.3 L862.4,1489.3 L863.1,1483.6 L863.8,1483.7 L864.5,1484.0 L865.2,1487.5 L865.9,1489.1 L866.6,1487.6 L867.3,1486.3 L868.0,1485.6 L868.7,1485.1 L869.4,1484.3 L870.0,1483.9 L870.7,1481.6 L871.4,1481.5 L872.1,1484.3 L872.8,1482.3 L873.5,1484.8 L874.2,1480.4 L874.9,1481.4 L875.6,1479.9 L876.3,1478.4 L876.9,1480.7 L877.6,1478.0 L878.3,1478.3 L879.0,1478.2 L879.7,1476.9 L880.4,1476.2 L881.1,1468.6 L881.8,1471.6 L882.5,1469.7 L883.2,1466.4 L883.9,1461.2 L884.5,1460.3 L885.2,1459.8 L885.9,1461.1 L886.6,1460.9 L887.3,1451.4 L888.0,1446.1 L888.7,1443.6 L889.4,1446.3 L890.1,1435.0 L890.8,1429.1 L891.5,1424.9 L892.1,1406.0 L892.8,1396.7 L893.5,1387.3 L894.2,1376.2 L894.9,1356.4 L895.6,1331.7 L896.3,1310.4 L897.0,1290.9 L897.7,1272.3 L898.4,1264.2 L899.0,1258.7 L899.7,1251.5 L900.4,1257.3 L901.1,1259.1 L901.8,1273.1 L902.5,1290.9 L903.2,1310.1 L903.9,1331.0 L904.6,1356.4 L905.3,1370.4 L906.0,1378.9 L906.6,1390.8 L907.3,1396.5 L908.0,1403.2 L908.7,1399.3 L909.4,1398.9 L910.1,1402.5 L910.8,1409.3 L911.5,1416.4 L912.2,1425.1 L912.9,1425.7 L913.5,1432.1 L914.2,1443.9 L914.9,1456.8 L915.6,1460.8 L916.3,1462.9 L917.0,1467.2 L917.7,1475.7 L918.4,1475.9 L919.1,1477.4 L919.8,1471.6 L920.5,1482.1 L921.1,1482.5 L921.8,1481.5 L922.5,1479.3 L923.2,1480.6 L923.9,1482.0 L924.6,1483.8 L925.3,1485.1 L926.0,1484.7 L926.7,1486.8 L927.4,1486.0 L928.0,1487.4 L928.7,1491.7 L929.4,1491.5 L930.1,1492.0 L930.8,1491.7 L931.5,1491.8 L932.2,1492.7 L932.9,1490.4 L933.6,1493.4 L934.3,1491.4 L935.0,1489.4 L935.6,1487.8 L936.3,1488.0 L937.0,1491.7 L937.7,1493.3 L938.4,1491.9 L939.1,1488.5 L939.8,1489.4 L940.5,1494.4 L941.2,1492.6 L941.9,1495.8 L942.5,1495.5 L943.2,1490.6 L943.9,1491.9 L944.6,1489.5 L945.3,1488.7 L946.0,1487.4 L946.7,1488.5 L947.4,1492.1 L948.1,1490.8 L948.8,1491.9 L949.5,1489.7 L950.1,1491.0 L950.8,1491.1 L951.5,1489.1 L952.2,1489.0 L952.9,1492.5 L953.6,1492.1 L954.3,1490.4 L955.0,1491.9 L955.7,1493.2 L956.4,1495.2 L957.0,1490.8 L957.7,1493.4 L958.4,1495.9 L959.1,1492.6 L959.8,1495.0 L960.5,1488.3 L961.2,1495.1 L961.9,1492.7 L962.6,1489.6 L963.3,1494.1 L964.0,1494.6 L964.6,1494.9 L965.3,1495.0 L966.0,1493.0 L966.7,1491.8 L967.4,1492.3 L968.1,1493.1 L968.8,1493.8 L969.5,1492.4 L970.2,1493.3 L970.9,1494.7 L971.5,1493.8 L972.2,1497.1 L972.9,1496.9 L973.6,1491.4 L974.3,1492.4 L975.0,1491.2 L975.7,1491.5 L976.4,1494.4 L977.1,1491.8 L977.8,1491.7 L978.5,1493.0 L979.1,1494.8 L979.8,1492.9 L980.5,1492.9 L981.2,1495.1 L981.9,1494.4 L982.6,1494.3 L983.3,1495.2 L984.0,1491.9 L984.7,1494.0 L985.4,1492.6 L986.0,1495.3 L986.7,1495.0 L987.4,1491.9 L988.1,1495.9 L988.8,1491.7 L989.5,1495.6 L990.2,1494.0 L990.9,1492.2 L991.6,1491.8 L992.3,1493.2 L993.0,1493.7 L993.6,1492.5 L994.3,1494.7 L995.0,1491.4 L995.7,1493.7 L996.4,1493.7 L997.1,1490.6 L997.8,1494.3 L998.5,1491.6 L999.2,1489.6 L999.9,1492.7 L1000.5,1493.4 L1001.2,1495.3 L1001.9,1492.9 L1002.6,1496.2 L1003.3,1496.2 L1004.0,1495.6 L1004.7,1496.0 L1005.4,1494.4 L1006.1,1492.8 L1006.8,1494.9 L1007.5,1495.4 L1008.1,1494.2 L1008.8,1493.4 L1009.5,1491.2 L1010.2,1494.9 L1010.9,1494.4 L1011.6,1491.6 L1012.3,1494.0 L1013.0,1495.0 L1013.7,1493.6 L1014.4,1495.1 L1015.0,1495.1 L1015.7,1491.3 L1016.4,1493.3 L1017.1,1494.6 L1017.8,1495.3 L1018.5,1496.2 L1019.2,1490.6 L1019.9,1493.7 L1020.6,1495.0 L1021.3,1495.9 L1022.0,1496.6 L1022.6,1492.2 L1023.3,1493.2 L1024.0,1492.0 L1024.7,1495.2 L1025.4,1491.6 L1026.1,1495.8 L1026.8,1495.4 L1027.5,1494.6 L1028.2,1490.2 L1028.9,1492.7 L1029.6,1495.1 L1030.2,1491.4 L1030.9,1493.4 L1031.6,1493.6 L1032.3,1495.3 L1033.0,1494.3 L1033.7,1494.3 L1034.4,1493.1 L1035.1,1493.8 L1035.8,1493.6 L1036.5,1495.0 L1037.1,1493.5 L1037.8,1495.6 L1038.5,1491.0 L1039.2,1495.8 L1039.9,1493.5 L1040.6,1495.7 L1041.3,1494.0 L1042.0,1495.3 L1042.7,1496.3 L1043.4,1492.9 L1044.1,1493.9 L1044.7,1493.5 L1045.4,1494.2 L1046.1,1491.1 L1046.8,1493.5 L1047.5,1493.4 L1048.2,1492.5 L1048.9,1493.5 L1049.6,1491.2 L1050.3,1496.2 L1051.0,1494.6 L1051.6,1497.0 L1052.3,1492.3 L1053.0,1491.8 L1053.7,1494.3 L1054.4,1491.0 L1055.1,1494.2 L1055.8,1492.6 L1056.5,1493.2 L1057.2,1494.2 L1057.9,1493.9 L1058.6,1496.9 L1059.2,1494.9 L1059.9,1491.6 L1060.6,1495.4 L1061.3,1491.5 L1062.0,1493.9 L1062.7,1491.7 L1063.4,1492.4 L1064.1,1496.0 L1064.8,1492.9 L1065.5,1492.7 L1066.1,1492.8 L1066.8,1493.3 L1067.5,1496.2 L1068.2,1491.8 L1068.9,1491.7 L1069.6,1494.8 L1070.3,1491.1 L1071.0,1493.2 L1071.7,1495.7 L1072.4,1493.8 L1073.1,1493.0 L1073.7,1492.6 L1074.4,1492.2 L1075.1,1492.8 L1075.8,1494.0 L1076.5,1495.8 L1077.2,1495.4 L1077.9,1492.8 L1078.6,1492.5 L1079.3,1494.9 L1080.0,1490.7 L1080.6,1493.0 L1081.3,1493.2 L1082.0,1491.9 L1082.7,1492.1 L1083.4,1494.3 L1084.1,1491.0 L1084.8,1492.2 L1085.5,1492.6 L1086.2,1493.9 L1086.9,1491.4 L1087.6,1495.5 L1088.2,1493.2 L1088.9,1493.3 L1089.6,1493.1 L1090.3,1492.6 L1091.0,1492.0 L1091.7,1495.6 L1092.4,1494.0 L1093.1,1493.5 L1093.8,1495.4 L1094.5,1492.5 L1095.1,1494.7 L1095.8,1493.7 L1096.5,1492.2 L1097.2,1494.9 L1097.9,1491.2 L1098.6,1494.7 L1099.3,1492.2 L1100.0,1494.3 L1100.7,1496.0 L1101.4,1494.6 L1102.1,1492.6 L1102.7,1493.6 L1103.4,1493.0 L1104.1,1491.7 L1104.8,1491.8 L1105.5,1493.7 L1106.2,1494.5 L1106.9,1490.7 L1107.6,1493.5 L1108.3,1494.4 L1109.0,1493.8 L1109.6,1491.9 L1110.3,1495.3 L1111.0,1491.5 L1111.7,1494.7 L1112.4,1496.2 L1113.1,1490.1 L1113.8,1494.0 L1114.5,1494.1 L1115.2,1493.9 L1115.9,1492.3 L1116.6,1493.0 L1117.2,1491.2 L1117.9,1493.7 L1118.6,1494.4 L1119.3,1492.4 L1120.0,1492.0 L1120.7,1492.7 L1121.4,1493.5 L1122.1,1493.6 L1122.8,1493.3 L1123.5,1493.6 L1124.1,1491.3 L1124.8,1488.9 L1125.5,1494.5 L1126.2,1495.8 L1126.9,1491.1 L1127.6,1492.3 L1128.3,1493.9 L1129.0,1495.0 L1129.7,1494.5 L1130.4,1495.5 L1131.1,1493.3 L1131.7,1494.0 L1132.4,1494.0 L1133.1,1492.6 L1133.8,1495.3 L1134.5,1494.3 L1135.2,1494.9 L1135.9,1492.6 L1136.6,1494.9 L1137.3,1491.4 L1138.0,1493.8 L1138.6,1488.8 L1139.3,1491.4 L1140.0,1494.3 L1140.7,1492.2 L1141.4,1493.2 L1142.1,1490.1 L1142.8,1495.3 L1143.5,1493.7 L1144.2,1492.5 L1144.9,1493.2 L1145.6,1492.9 L1146.2,1494.6 L1146.9,1492.4 L1147.6,1489.4 L1148.3,1491.2 L1149.0,1493.6 L1149.7,1492.1 L1150.4,1490.2 L1151.1,1491.7 L1151.8,1490.6 L1152.5,1491.1 L1153.1,1487.1 L1153.8,1488.0 L1154.5,1490.2 L1155.2,1488.4 L1155.9,1489.1 L1156.6,1491.5 L1157.3,1487.5 L1158.0,1488.2 L1158.7,1486.7 L1159.4,1486.5 L1160.1,1487.4 L1160.7,1485.1 L1161.4,1484.1 L1162.1,1490.0 L1162.8,1487.8 L1163.5,1490.1 L1164.2,1488.7 L1164.9,1489.0 L1165.6,1490.2 L1166.3,1490.6 L1167.0,1487.7 L1167.7,1492.0 L1168.3,1488.7 L1169.0,1490.9 L1169.7,1495.1 L1170.4,1491.2 L1171.1,1494.1 L1171.8,1491.0 L1172.5,1492.8 L1173.2,1492.0 L1173.9,1492.8 L1174.6,1490.8 L1175.2,1490.8 L1175.9,1493.0 L1176.6,1489.9 L1177.3,1491.2 L1178.0,1493.7 L1178.7,1491.7 L1179.4,1491.3 L1180.1,1491.0 L1180.8,1493.1 L1181.5,1492.3 L1182.2,1493.2 L1182.8,1492.6 L1183.5,1496.0 L1184.2,1492.3 L1184.9,1489.8 L1185.6,1493.2 L1186.3,1493.0 L1187.0,1493.3 L1187.7,1490.4 L1188.4,1494.9 L1189.1,1493.0 L1189.7,1493.0 L1190.4,1490.4 L1191.1,1493.8 L1191.8,1492.9 L1192.5,1495.3 L1193.2,1492.4 L1193.9,1491.0 L1194.6,1493.3 L1195.3,1491.5 L1196.0,1493.7 L1196.7,1491.2 L1197.3,1492.8 L1198.0,1492.6 L1198.7,1493.0 L1199.4,1492.2 L1200.1,1491.7 L1200.8,1492.9 L1201.5,1492.0 L1202.2,1493.2 L1202.9,1492.5 L1203.6,1489.2 L1204.2,1492.8 L1204.9,1495.2 L1205.6,1493.4 L1206.3,1493.9 L1207.0,1493.6 L1207.7,1492.1 L1208.4,1490.7 L1209.1,1494.2 L1209.8,1494.6 L1210.5,1493.7 L1211.2,1493.5 L1211.8,1493.4 L1212.5,1492.7 L1213.2,1493.2 L1213.9,1492.7 L1214.6,1493.2 L1215.3,1491.1 L1216.0,1491.5 L1216.7,1493.5 L1217.4,1492.0 L1218.1,1488.5 L1218.7,1492.6 L1219.4,1488.6 L1220.1,1495.5 L1220.8,1493.5 L1221.5,1493.3 L1222.2,1491.1 L1222.9,1490.2 L1223.6,1491.7 L1224.3,1492.0 L1225.0,1490.6 L1225.7,1492.0 L1226.3,1492.8 L1227.0,1492.6 L1227.7,1489.8 L1228.4,1487.8 L1229.1,1491.2 L1229.8,1490.0 L1230.5,1491.6 L1231.2,1493.4 L1231.9,1493.2 L1232.6,1490.8 L1233.2,1491.9 L1233.9,1492.4 L1234.6,1489.5 L1235.3,1489.4 L1236.0,1489.9 L1236.7,1487.9 L1237.4,1486.5 L1238.1,1485.2 L1238.8,1485.5 L1239.5,1483.3 L1240.2,1484.1 L1240.8,1480.6 L1241.5,1481.5 L1242.2,1478.7 L1242.9,1472.0 L1243.6,1472.7 L1244.3,1466.8 L1245.0,1465.9 L1245.7,1460.4 L1246.4,1455.3 L1247.1,1452.1 L1247.7,1446.0 L1248.4,1443.7 L1249.1,1440.9 L1249.8,1438.1 L1250.5,1438.3 L1251.2,1436.3 L1251.9,1439.5 L1252.6,1437.8 L1253.3,1442.4 L1254.0,1444.1 L1254.7,1446.7 L1255.3,1447.0 L1256.0,1455.4 L1256.7,1452.7 L1257.4,1455.9 L1258.1,1457.1 L1258.8,1463.1 L1259.5,1462.5 L1260.2,1467.3 L1260.9,1466.4 L1261.6,1470.5 L1262.2,1471.4 L1262.9,1475.4 L1263.6,1475.1 L1264.3,1475.8 L1265.0,1479.4 L1265.7,1478.0 L1266.4,1479.6 L1267.1,1483.5 L1267.8,1480.2 L1268.5,1485.3 L1269.2,1484.2 L1269.8,1484.1 L1270.5,1486.6 L1271.2,1487.8 L1271.9,1486.3 L1272.6,1487.4 L1273.3,1489.4 L1274.0,1489.7 L1274.7,1488.7 L1275.4,1487.8 L1276.1,1487.8 L1276.7,1488.6 L1277.4,1490.9 L1278.1,1490.9 L1278.8,1490.6 L1279.5,1492.5 L1280.2,1490.0 L1280.9,1490.0 L1281.6,1490.1 L1282.3,1493.9 L1283.0,1487.7 L1283.7,1491.5 L1284.3,1491.9 L1285.0,1491.4 L1285.7,1495.1 L1286.4,1493.3 L1287.1,1492.8 L1287.8,1490.2 L1288.5,1492.5 L1289.2,1491.2 L1289.9,1491.9 L1290.6,1492.2 L1291.2,1491.2 L1291.9,1493.0 L1292.6,1494.7 L1293.3,1493.8 L1294.0,1492.5 L1294.7,1489.1 L1295.4,1494.0 L1296.1,1494.0 L1296.8,1492.0 L1297.5,1491.6 L1298.2,1493.5 L1298.8,1491.2 L1299.5,1493.8 L1300.2,1490.8 L1300.9,1491.1 L1301.6,1492.6 L1302.3,1490.3 L1303.0,1492.7 L1303.7,1493.5 L1304.4,1490.6 L1305.1,1494.2 L1305.8,1491.9 L1306.4,1493.7 L1307.1,1493.2 L1307.8,1492.1 L1308.5,1492.0 L1309.2,1490.1 L1309.9,1491.8 L1310.6,1491.7 L1311.3,1495.6 L1312.0,1494.6 L1312.7,1490.8 L1313.3,1494.3 L1314.0,1493.4 L1314.7,1492.4 L1315.4,1493.8 L1316.1,1494.3 L1316.8,1492.2 L1317.5,1492.6 L1318.2,1493.4 L1318.9,1491.5 L1319.6,1493.4 L1320.3,1493.0 L1320.9,1492.1 L1321.6,1491.8 L1322.3,1493.6 L1323.0,1494.6 L1323.7,1493.7 L1324.4,1491.8 L1325.1,1494.4 L1325.8,1493.5 L1326.5,1494.2 L1327.2,1495.1 L1327.8,1491.8 L1328.5,1493.0 L1329.2,1492.3 L1329.9,1491.9 L1330.6,1496.5 L1331.3,1494.8 L1332.0,1490.5 L1332.7,1494.0 L1333.4,1492.4 L1334.1,1495.1 L1334.8,1493.4 L1335.4,1493.0 L1336.1,1493.5 L1336.8,1493.9 L1337.5,1493.4 L1338.2,1493.0 L1338.9,1493.1 L1339.6,1494.2 L1340.3,1491.5 L1341.0,1493.3 L1341.7,1493.2 L1342.3,1492.6 L1343.0,1494.5 L1343.7,1491.3 L1344.4,1492.8 L1345.1,1492.0 L1345.8,1494.2 L1346.5,1492.6 L1347.2,1493.4 L1347.9,1494.0 L1348.6,1490.8 L1349.3,1494.1 L1349.9,1492.2 L1350.6,1493.0 L1351.3,1493.2 L1352.0,1494.7 L1352.7,1494.5 L1353.4,1496.2 L1354.1,1493.6 L1354.8,1492.6 L1355.5,1492.6 L1356.2,1494.4 L1356.8,1495.9 L1357.5,1493.9 L1358.2,1492.4 L1358.9,1493.8 L1359.6,1493.8 L1360.3,1493.4 L1361.0,1492.2 L1361.7,1489.3 L1362.4,1492.5 L1363.1,1495.0 L1363.8,1493.7 L1364.4,1489.8 L1365.1,1493.3 L1365.8,1490.4 L1366.5,1496.4 L1367.2,1493.6 L1367.9,1491.4 L1368.6,1494.5 L1369.3,1492.0 L1370.0,1494.1 L1370.7,1493.3 L1371.3,1491.3 L1372.0,1494.2 L1372.7,1491.1 L1373.4,1495.3 L1374.1,1493.2 L1374.8,1491.5 L1375.5,1490.2 L1376.2,1495.6 L1376.9,1495.3 L1377.6,1491.0 L1378.3,1495.6 L1378.9,1493.2 L1379.6,1492.6 L1380.3,1492.7 L1381.0,1492.4 L1381.7,1495.0 L1382.4,1492.9 L1383.1,1489.7 L1383.8,1495.9 L1384.5,1493.8 L1385.2,1490.6 L1385.8,1491.7 L1386.5,1490.7 L1387.2,1492.0 L1387.9,1492.4 L1388.6,1492.0 L1389.3,1490.4 L1390.0,1489.9 L1390.7,1492.3 L1391.4,1490.5 L1392.1,1493.9 L1392.8,1488.7 L1393.4,1490.9 L1394.1,1489.4 L1394.8,1487.7 L1395.5,1490.6 L1396.2,1488.2 L1396.9,1486.1 L1397.6,1486.5 L1398.3,1488.1 L1399.0,1484.0 L1399.7,1487.7 L1400.3,1486.0 L1401.0,1484.0 L1401.7,1486.1 L1402.4,1486.2 L1403.1,1484.0 L1403.8,1482.9 L1404.5,1485.2 L1405.2,1484.4 L1405.9,1480.4 L1406.6,1481.5 L1407.3,1481.5 L1407.9,1481.2 L1408.6,1479.7 L1409.3,1483.8 L1410.0,1482.8 L1410.7,1483.2 L1411.4,1485.7 L1412.1,1483.0 L1412.8,1484.4 L1413.5,1485.4 L1414.2,1484.8 L1414.8,1485.8 L1415.5,1487.8 L1416.2,1487.0 L1416.9,1489.7 L1417.6,1486.8 L1418.3,1488.8 L1419.0,1486.6 L1419.7,1489.1 L1420.4,1488.6 L1421.1,1492.2 L1421.8,1491.6 L1422.4,1491.5 L1423.1,1493.9 L1423.8,1493.5 L1424.5,1492.6 L1425.2,1490.6 L1425.9,1489.5 L1426.6,1492.0 L1427.3,1491.6 L1428.0,1491.3 L1428.7,1492.0 L1429.3,1489.9 L1430.0,1495.0 L1430.7,1490.9 L1431.4,1491.7 L1432.1,1493.8 L1432.8,1490.3 L1433.5,1494.4 L1434.2,1494.5 L1434.9,1492.6 L1435.6,1491.4 L1436.3,1492.4 L1436.9,1490.2 L1437.6,1495.4 L1438.3,1493.3 L1439.0,1492.1 L1439.7,1491.8 L1440.4,1494.2 L1441.1,1495.7 L1441.8,1491.3 L1442.5,1492.4 L1443.2,1490.6 L1443.9,1494.5 L1444.5,1493.7 L1445.2,1497.1 L1445.9,1493.2 L1446.6,1492.7 L1447.3,1492.3 L1448.0,1494.8 L1448.7,1490.9 L1449.4,1494.7 L1450.1,1493.9 L1450.8,1492.7 L1451.4,1492.1 L1452.1,1495.2 L1452.8,1496.5 L1453.5,1492.8 L1454.2,1494.4 L1454.9,1496.4 L1455.6,1492.6 L1456.3,1493.2 L1457.0,1491.6 L1457.7,1493.4 L1458.4,1493.5 L1459.0,1492.9 L1459.7,1492.4 L1460.4,1491.1 L1461.1,1491.5 L1461.8,1492.1 L1462.5,1494.7 L1463.2,1492.8 L1463.9,1492.3 L1464.6,1494.7 L1465.3,1494.6 L1465.9,1492.4 L1466.6,1492.6 L1467.3,1494.7 L1468.0,1494.3 L1468.7,1492.3 L1469.4,1494.1 L1470.1,1493.6 L1470.8,1495.5 L1471.5,1492.3 L1472.2,1495.1 L1472.9,1494.4 L1473.5,1492.1 L1474.2,1495.4 L1474.9,1495.2 L1475.6,1491.6 L1476.3,1496.9 L1477.0,1491.8 L1477.7,1492.2 L1478.4,1493.2 L1479.1,1495.0 L1479.8,1494.6 L1480.4,1493.6 L1481.1,1495.9 L1481.8,1494.4 L1482.5,1496.0 L1483.2,1498.3 L1483.9,1494.0 L1484.6,1489.5 L1485.3,1493.0 L1486.0,1492.0 L1486.7,1493.9 L1487.4,1493.9 L1488.0,1491.7 L1488.7,1491.8 L1489.4,1493.3 L1490.1,1493.4 L1490.8,1489.5 L1491.5,1495.3 L1492.2,1493.8 L1492.9,1493.7 L1493.6,1494.2 L1494.3,1492.0 L1494.9,1493.6 L1495.6,1495.4 L1496.3,1495.5 L1497.0,1494.5 L1497.7,1493.2 L1498.4,1492.4 L1499.1,1495.9 L1499.8,1494.6 L1500.5,1493.0 L1501.2,1490.1 L1501.9,1492.3 L1502.5,1490.5 L1503.2,1495.7 L1503.9,1494.0 L1504.6,1492.5 L1505.3,1493.2 L1506.0,1498.0 L1506.7,1495.7 L1507.4,1491.4 L1508.1,1493.5 L1508.8,1491.6 L1509.4,1490.8 L1510.1,1493.9 L1510.8,1497.7 L1511.5,1496.2 L1512.2,1493.7 L1512.9,1493.0 L1513.6,1494.0 L1514.3,1495.3 L1515.0,1491.2 L1515.7,1490.5 L1516.4,1496.7 L1517.0,1494.1 L1517.7,1496.3 L1518.4,1494.0 L1519.1,1496.0 L1519.8,1492.6 L1520.5,1494.4 L1521.2,1496.2 L1521.9,1495.3 L1522.6,1492.8 L1523.3,1495.0 L1523.9,1492.4 L1524.6,1491.1 L1525.3,1494.4 L1526.0,1495.8 L1526.7,1494.9 L1527.4,1491.4 L1528.1,1494.9 L1528.8,1494.6 L1529.5,1492.6 L1530.2,1489.2 L1530.9,1495.1 L1531.5,1494.9 L1532.2,1494.2 L1532.9,1490.4 L1533.6,1490.8 L1534.3,1495.0 L1535.0,1494.6 L1535.7,1494.1 L1536.4,1492.8 L1537.1,1493.9 L1537.8,1492.3 L1538.4,1492.6 L1539.1,1491.6 L1539.8,1493.5 L1540.5,1492.3 L1541.2,1494.6 L1541.9,1494.2 L1542.6,1491.5 L1543.3,1496.0 L1544.0,1490.9 L1544.7,1493.5 L1545.4,1494.5 L1546.0,1494.8 L1546.7,1488.8 L1547.4,1494.1 L1548.1,1494.4 L1548.8,1494.6 L1549.5,1488.3 L1550.2,1490.7 L1550.9,1491.5 L1551.6,1490.7 L1552.3,1493.5 L1552.9,1489.8 L1553.6,1492.8 L1554.3,1491.3 L1555.0,1487.5 L1555.7,1487.8 L1556.4,1488.2 L1557.1,1488.7 L1557.8,1489.6 L1558.5,1486.9 L1559.2,1488.1 L1559.9,1483.1 L1560.5,1479.8 L1561.2,1483.5 L1561.9,1484.0 L1562.6,1481.6 L1563.3,1479.6 L1564.0,1481.0 L1564.7,1482.6 L1565.4,1478.1 L1566.1,1476.1 L1566.8,1475.0 L1567.4,1478.9 L1568.1,1474.7 L1568.8,1475.1 L1569.5,1475.6 L1570.2,1475.0 L1570.9,1471.4 L1571.6,1474.5 L1572.3,1474.2 L1573.0,1473.7 L1573.7,1474.6 L1574.4,1471.9 L1575.0,1472.7 L1575.7,1471.9 L1576.4,1474.1 L1577.1,1471.7 L1577.8,1473.6 L1578.5,1471.3 L1579.2,1473.3 L1579.9,1473.5 L1580.6,1474.6 L1581.3,1475.8 L1582.0,1476.1 L1582.6,1476.9 L1583.3,1474.8 L1584.0,1481.1 L1584.7,1479.2 L1585.4,1480.8 L1586.1,1480.8 L1586.8,1484.9 L1587.5,1482.6 L1588.2,1485.8 L1588.9,1487.8 L1589.5,1489.3 L1590.2,1489.3 L1590.9,1488.9 L1591.6,1486.4 L1592.3,1491.2 L1593.0,1491.5 L1593.7,1491.4 L1594.4,1491.7 L1595.1,1490.8 L1595.8,1490.1 L1596.5,1493.1 L1597.1,1493.6 L1597.8,1489.9 L1598.5,1493.4 L1599.2,1492.4 L1599.9,1493.7 L1600.6,1492.7 L1601.3,1494.3 L1602.0,1494.2 L1602.7,1494.1 L1603.4,1490.3 L1604.0,1494.1 L1604.7,1492.9 L1605.4,1490.9 L1606.1,1494.1 L1606.8,1490.6 L1607.5,1494.5 L1608.2,1495.9 L1608.9,1492.2 L1609.6,1494.6 L1610.3,1493.9 L1611.0,1494.2 L1611.6,1490.9 L1612.3,1494.2 L1613.0,1493.4 L1613.7,1494.5 L1614.4,1493.3 L1615.1,1495.1 L1615.8,1493.8 L1616.5,1494.5 L1617.2,1495.6 L1617.9,1493.7 L1618.5,1495.0 L1619.2,1493.8 L1619.9,1494.3 L1620.6,1492.5 L1621.3,1494.7 L1622.0,1495.5 L1622.7,1493.3 L1623.4,1494.8 L1624.1,1494.2 L1624.8,1491.6 L1625.5,1494.1 L1626.1,1495.7 L1626.8,1492.7 L1627.5,1490.5 L1628.2,1493.8 L1628.9,1492.4 L1629.6,1496.7 L1630.3,1493.4 L1631.0,1493.5 L1631.7,1492.4 L1632.4,1493.9 L1633.0,1492.5 L1633.7,1492.0 L1634.4,1493.4 L1635.1,1492.1 L1635.8,1495.7 L1636.5,1491.5 L1637.2,1493.4 L1637.9,1492.3 L1638.6,1491.2 L1639.3,1496.2 L1640.0,1489.9 L1640.6,1495.9 L1641.3,1491.1 L1642.0,1493.6 L1642.7,1497.2 L1643.4,1489.9 L1644.1,1491.1 L1644.8,1495.6 L1645.5,1493.7 L1646.2,1492.4 L1646.9,1493.3 L1647.5,1491.7 L1648.2,1493.5 L1648.9,1495.8 L1649.6,1492.6 L1650.3,1493.5 L1651.0,1495.2 L1651.7,1496.5 L1652.4,1492.2 L1653.1,1493.7 L1653.8,1492.2 L1654.5,1492.0 L1655.1,1492.4 L1655.8,1492.0 L1656.5,1490.1 L1657.2,1489.6 L1657.9,1491.7 L1658.6,1493.1 L1659.3,1494.8 L1660.0,1491.9 L1660.7,1492.4 L1661.4,1493.7 L1662.0,1493.8 L1662.7,1492.3 L1663.4,1492.3 L1664.1,1495.4 L1664.8,1491.7 L1665.5,1491.3 L1666.2,1489.3 L1666.9,1492.6 L1667.6,1491.3 L1668.3,1494.8 L1669.0,1490.9 L1669.6,1492.6 L1670.3,1492.6 L1671.0,1493.5 L1671.7,1488.3 L1672.4,1492.7 L1673.1,1489.7 L1673.8,1489.0 L1674.5,1488.1 L1675.2,1487.3 L1675.9,1486.6 L1676.5,1482.4 L1677.2,1486.0 L1677.9,1484.1 L1678.6,1481.0 L1679.3,1480.9 L1680.0,1483.1 L1680.7,1478.0 L1681.4,1474.7 L1682.1,1475.9 L1682.8,1469.4 L1683.5,1468.0 L1684.1,1464.9 L1684.8,1463.1 L1685.5,1462.5 L1686.2,1460.3 L1686.9,1456.6 L1687.6,1456.7 L1688.3,1456.7 L1689.0,1456.0 L1689.7,1457.1 L1690.4,1456.6 L1691.0,1457.6 L1691.7,1460.0 L1692.4,1459.5 L1693.1,1463.4 L1693.8,1463.9 L1694.5,1464.3 L1695.2,1466.4 L1695.9,1468.3 L1696.6,1470.5 L1697.3,1472.5 L1698.0,1473.5 L1698.6,1473.9 L1699.3,1479.1 L1700.0,1479.6 L1700.7,1479.5 L1701.4,1482.1 L1702.1,1482.1 L1702.8,1482.2 L1703.5,1483.7 L1704.2,1488.8 L1704.9,1486.8 L1705.5,1487.6 L1706.2,1485.9 L1706.9,1488.2 L1707.6,1491.4 L1708.3,1488.9 L1709.0,1490.4 L1709.7,1491.1 L1710.4,1490.4 L1711.1,1492.3 L1711.8,1490.3 L1712.5,1491.0 L1713.1,1489.4 L1713.8,1495.0 L1714.5,1491.3 L1715.2,1491.2 L1715.9,1493.5 L1716.6,1490.5 L1717.3,1491.4 L1718.0,1490.3 L1718.7,1491.7 L1719.4,1491.1 L1720.1,1492.8 L1720.7,1491.7 L1721.4,1491.0 L1722.1,1491.6 L1722.8,1492.0 L1723.5,1491.4 L1724.2,1493.9 L1724.9,1493.5 L1725.6,1492.7 L1726.3,1490.5 L1727.0,1493.4 L1727.6,1490.5 L1728.3,1492.9 L1729.0,1492.7 L1729.7,1491.7 L1730.4,1491.4 L1731.1,1491.6 L1731.8,1496.2 L1732.5,1492.4 L1733.2,1492.5 L1733.9,1494.5 L1734.6,1493.6 L1735.2,1494.7 L1735.9,1491.0 L1736.6,1491.2 L1737.3,1498.5 L1738.0,1493.0 L1738.7,1492.6 L1739.4,1493.4 L1740.1,1494.8 L1740.8,1491.2 L1741.5,1493.6 L1742.1,1493.1 L1742.8,1494.3 L1743.5,1493.5 L1744.2,1492.4 L1744.9,1491.8 L1745.6,1489.3 L1746.3,1494.9 L1747.0,1490.9 L1747.7,1492.6 L1748.4,1496.0 L1749.1,1492.6 L1749.7,1494.3 L1750.4,1493.0 L1751.1,1494.5 L1751.8,1493.4 L1752.5,1492.6 L1753.2,1495.6 L1753.9,1493.0 L1754.6,1491.2 L1755.3,1492.9 L1756.0,1494.3 L1756.6,1491.6 L1757.3,1494.8 L1758.0,1494.7 L1758.7,1497.0 L1759.4,1492.4 L1760.1,1494.6 L1760.8,1490.8 L1761.5,1492.8 L1762.2,1493.7 L1762.9,1494.2 L1763.6,1493.4 L1764.2,1493.4 L1764.9,1492.5 L1765.6,1492.8 L1766.3,1494.0 L1767.0,1494.5 L1767.7,1494.6 L1768.4,1495.2 L1769.1,1495.5 L1769.8,1490.6 L1770.5,1492.7 L1771.1,1493.3 L1771.8,1492.5 L1772.5,1495.3 L1773.2,1494.8 L1773.9,1493.4 L1774.6,1493.8 L1775.3,1495.6 L1776.0,1493.0 L1776.7,1493.0 L1777.4,1495.0 L1778.1,1494.3 L1778.7,1495.9 L1779.4,1494.1 L1780.1,1494.8 L1780.8,1492.6 L1781.5,1492.0 L1782.2,1493.5 L1782.9,1489.2 L1783.6,1494.2 L1784.3,1495.1 L1785.0,1493.6 L1785.6,1493.1 L1786.3,1495.2 L1787.0,1493.4 L1787.7,1495.0 L1788.4,1497.0 L1789.1,1494.6 L1789.8,1494.9 L1790.5,1494.2 L1791.2,1493.8 L1791.9,1493.8 L1792.6,1493.4 L1793.2,1495.0 L1793.9,1490.6 L1794.6,1492.8 L1795.3,1494.3 L1796.0,1491.8 L1796.7,1493.0 L1797.4,1492.0 L1798.1,1493.8 L1798.8,1494.4 L1799.5,1495.3 L1800.1,1493.7 L1800.8,1491.6 L1801.5,1493.1 L1802.2,1493.6 L1802.9,1494.9 L1803.6,1489.0 L1804.3,1493.0 L1805.0,1489.3 L1805.7,1493.3 L1806.4,1492.7 L1807.1,1492.6 L1807.7,1493.1 L1808.4,1492.1 L1809.1,1490.2 L1809.8,1491.6 L1810.5,1492.7 L1811.2,1490.3 L1811.9,1490.2 L1812.6,1487.9 L1813.3,1491.4 L1814.0,1488.3 L1814.6,1487.5 L1815.3,1487.5 L1816.0,1486.4 L1816.7,1486.9 L1817.4,1488.9 L1818.1,1487.5 L1818.8,1488.0 L1819.5,1487.5 L1820.2,1483.0 L1820.9,1484.7 L1821.6,1485.7 L1822.2,1486.3 L1822.9,1479.7 L1823.6,1479.0 L1824.3,1481.4 L1825.0,1479.5 L1825.7,1477.9 L1826.4,1479.6 L1827.1,1477.2 L1827.8,1474.3 L1828.5,1477.6 L1829.1,1477.5 L1829.8,1478.1 L1830.5,1478.5 L1831.2,1477.2 L1831.9,1476.6 L1832.6,1476.1 L1833.3,1474.8 L1834.0,1477.1 L1834.7,1479.9 L1835.4,1479.8 L1836.1,1482.6 L1836.7,1479.5 L1837.4,1477.4 L1838.1,1482.2 L1838.8,1483.0 L1839.5,1479.8 L1840.2,1479.5 L1840.9,1482.6 L1841.6,1483.7 L1842.3,1480.7 L1843.0,1481.9 L1843.6,1481.0 L1844.3,1480.0 L1845.0,1479.2 L1845.7,1480.9 L1846.4,1479.3 L1847.1,1477.8 L1847.8,1473.6 L1848.5,1479.5 L1849.2,1473.9 L1849.9,1474.0 L1850.6,1471.1 L1851.2,1472.4 L1851.9,1468.4 L1852.6,1470.2 L1853.3,1469.4 L1854.0,1471.1 L1854.7,1468.0 L1855.4,1469.2 L1856.1,1470.6 L1856.8,1475.2 L1857.5,1470.4 L1858.2,1474.4 L1858.8,1474.0 L1859.5,1476.8 L1860.2,1478.6 L1860.9,1479.0 L1861.6,1480.4 L1862.3,1481.6 L1863.0,1481.3 L1863.7,1483.0 L1864.4,1481.6 L1865.1,1484.6 L1865.7,1484.8 L1866.4,1486.4 L1867.1,1488.7 L1867.8,1488.7 L1868.5,1489.4 L1869.2,1490.9 L1869.9,1485.6 L1870.6,1490.5 L1871.3,1490.1 L1872.0,1490.2 L1872.7,1488.5 L1873.3,1491.7 L1874.0,1492.8 L1874.7,1492.7 L1875.4,1491.0 L1876.1,1492.2 L1876.8,1492.7 L1877.5,1494.2 L1878.2,1493.2 L1878.9,1491.5 L1879.6,1491.4 L1880.2,1491.4 L1880.9,1491.4 L1881.6,1490.2 L1882.3,1492.1 L1883.0,1489.6 L1883.7,1489.3 L1884.4,1491.0 L1885.1,1489.3 L1885.8,1489.6 L1886.5,1486.4 L1887.2,1490.8 L1887.8,1489.2 L1888.5,1488.7 L1889.2,1489.3 L1889.9,1488.5 L1890.6,1486.6 L1891.3,1490.6 L1892.0,1486.1 L1892.7,1487.9 L1893.4,1488.8 L1894.1,1484.2 L1894.7,1484.8 L1895.4,1482.7 L1896.1,1485.1 L1896.8,1482.1 L1897.5,1480.2 L1898.2,1483.4 L1898.9,1482.0 L1899.6,1478.3 L1900.3,1480.9 L1901.0,1478.5 L1901.7,1481.8 L1902.3,1479.3 L1903.0,1474.9 L1903.7,1474.6 L1904.4,1472.9 L1905.1,1473.8 L1905.8,1473.0 L1906.5,1473.5 L1907.2,1472.0 L1907.9,1469.0 L1908.6,1469.7 L1909.2,1473.0 L1909.9,1472.4 L1910.6,1470.2 L1911.3,1470.2 L1912.0,1470.4 L1912.7,1471.0 L1913.4,1468.8 L1914.1,1473.7 L1914.8,1472.0 L1915.5,1474.2 L1916.2,1470.8 L1916.8,1476.3 L1917.5,1479.2 L1918.2,1474.5 L1918.9,1481.6 L1919.6,1481.0 L1920.3,1480.1 L1921.0,1479.8 L1921.7,1485.2 L1922.4,1484.7 L1923.1,1486.1 L1923.7,1485.5 L1924.4,1485.5 L1925.1,1488.9 L1925.8,1486.6 L1926.5,1490.3 L1927.2,1486.7 L1927.9,1488.4 L1928.6,1488.0 L1929.3,1492.9 L1930.0,1488.3 L1930.7,1489.7 L1931.3,1492.9 L1932.0,1492.5 L1932.7,1495.9 L1933.4,1495.6 L1934.1,1493.8 L1934.8,1494.1 L1935.5,1490.2 L1936.2,1491.9 L1936.9,1492.9 L1937.6,1493.2 L1938.2,1491.4 L1938.9,1492.2 L1939.6,1492.4 L1940.3,1495.6 L1941.0,1494.7 L1941.7,1493.5 L1942.4,1493.7 L1943.1,1494.6 L1943.8,1493.1 L1944.5,1493.8 L1945.2,1491.5 L1945.8,1495.5 L1946.5,1496.0 L1947.2,1495.0 L1947.9,1495.3 L1948.6,1495.1 L1949.3,1497.9 L1950.0,1494.9 L1950.7,1492.5 L1951.4,1493.0 L1952.1,1495.8 L1952.7,1496.5 L1953.4,1496.0 L1954.1,1496.1 L1954.8,1495.1 L1955.5,1492.4 L1956.2,1493.7 L1956.9,1491.9 L1957.6,1494.3 L1958.3,1492.7 L1959.0,1495.1 L1959.7,1494.7 L1960.3,1491.8 L1961.0,1496.2 L1961.7,1496.2 L1962.4,1492.8 L1963.1,1495.3 L1963.8,1496.2 L1964.5,1494.6 L1965.2,1496.5 L1965.9,1495.4 L1966.6,1496.9 L1967.2,1495.4 L1967.9,1494.9 L1968.6,1496.0 L1969.3,1496.5 L1970.0,1495.6 L1970.7,1494.5 L1971.4,1493.9 L1972.1,1494.6 L1972.8,1494.3 L1973.5,1495.6 L1974.2,1495.5 L1974.8,1495.1 L1975.5,1495.3 L1976.2,1495.6 L1976.9,1497.9 L1977.6,1497.3 L1978.3,1494.4 L1979.0,1496.0 L1979.7,1494.8 L1980.4,1495.2 L1981.1,1494.9 L1981.7,1494.3 L1982.4,1493.1 L1983.1,1491.3 L1983.8,1495.7 L1984.5,1497.3 L1985.2,1493.9 L1985.9,1496.2 L1986.6,1494.8 L1987.3,1495.9 L1988.0,1494.1 L1988.7,1495.1 L1989.3,1495.3 L1990.0,1491.5 L1990.7,1495.8 L1991.4,1495.2 L1992.1,1491.4 L1992.8,1496.5 L1993.5,1495.4 L1994.2,1495.8 L1994.9,1496.1 L1995.6,1494.8 L1996.3,1493.7 L1996.9,1494.8 L1997.6,1494.8 L1998.3,1499.1 L1999.0,1498.5 L1999.7,1494.7 L2000.4,1494.8 L2001.1,1496.0 L2001.8,1496.5 L2002.5,1494.4 L2003.2,1493.9 L2003.8,1498.7 L2004.5,1497.3 L2005.2,1493.0 L2005.9,1492.6 L2006.6,1494.2 L2007.3,1495.9 L2008.0,1496.4 L2008.7,1495.0 L2009.4,1492.9 L2010.1,1495.9 L2010.8,1496.5 L2011.4,1495.5 L2012.1,1494.7 L2012.8,1496.5 L2013.5,1495.4 L2014.2,1493.7 L2014.9,1495.7 L2015.6,1493.4 L2016.3,1497.1 L2017.0,1496.3 L2017.7,1493.9 L2018.3,1495.9 L2019.0,1497.6 L2019.7,1492.0 L2020.4,1495.3 L2021.1,1498.2 L2021.8,1492.9 L2022.5,1495.2 L2023.2,1493.1 L2023.9,1495.3 L2024.6,1491.5 L2025.3,1492.7 L2025.9,1494.5 L2026.6,1495.6 L2027.3,1496.0 L2028.0,1496.1 L2028.7,1497.2 L2029.4,1496.5 L2030.1,1496.5 L2030.8,1493.6 L2031.5,1494.9 L2032.2,1500.4 L2032.8,1498.9 L2033.5,1496.4 L2034.2,1496.2 L2034.9,1496.6 L2035.6,1494.2 L2036.3,1498.1 L2037.0,1494.1 L2037.7,1494.5 L2038.4,1498.2 L2039.1,1491.0 L2039.8,1494.9 L2040.4,1491.3 L2041.1,1493.0 L2041.8,1493.8 L2042.5,1493.2 L2043.2,1494.0 L2043.9,1492.2 L2044.6,1493.2 L2045.3,1491.2 L2046.0,1492.4 L2046.7,1490.5 L2047.3,1493.7 L2048.0,1490.3 L2048.7,1493.4 L2049.4,1491.3 L2050.1,1491.3 L2050.8,1493.6 L2051.5,1491.6 L2052.2,1488.0 L2052.9,1491.8 L2053.6,1485.9 L2054.3,1491.0 L2054.9,1489.7 L2055.6,1487.9 L2056.3,1490.2 L2057.0,1489.4 L2057.7,1493.2 L2058.4,1489.0 L2059.1,1493.0 L2059.8,1492.0 L2060.5,1488.6 L2061.2,1488.3 L2061.8,1491.9 L2062.5,1489.6 L2063.2,1490.1 L2063.9,1489.6 L2064.6,1488.1 L2065.3,1489.7 L2066.0,1488.9 L2066.7,1488.1 L2067.4,1490.4 L2068.1,1494.1 L2068.8,1494.0 L2069.4,1491.4 L2070.1,1491.9 L2070.8,1492.8 L2071.5,1494.4 L2072.2,1492.9 L2072.9,1491.8 L2073.6,1492.1 L2074.3,1494.9 L2075.0,1497.6 L2075.7,1492.3 L2076.3,1490.1 L2077.0,1495.1 L2077.7,1493.7 L2078.4,1494.3 L2079.1,1496.3 L2079.8,1494.4 L2080.5,1492.2 L2081.2,1491.2 L2081.9,1494.6 L2082.6,1492.8 L2083.3,1495.4 L2083.9,1492.8 L2084.6,1494.5 L2085.3,1492.6 L2086.0,1494.6 L2086.7,1494.5 L2087.4,1496.3 L2088.1,1497.7 L2088.8,1495.1 L2089.5,1494.0 L2090.2,1498.9 L2090.8,1496.2 L2091.5,1496.7 L2092.2,1496.7 L2092.9,1498.1 L2093.6,1497.4 L2094.3,1496.9 L2095.0,1497.1 L2095.7,1494.3 L2096.4,1494.8 L2097.1,1495.6 L2097.8,1496.0 L2098.4,1495.9 L2099.1,1496.4 L2099.8,1495.9 L2100.5,1495.2 L2101.2,1493.1 L2101.9,1497.3 L2102.6,1496.9 L2103.3,1494.4 L2104.0,1496.8 L2104.7,1496.6 L2105.3,1496.0 L2106.0,1492.8 L2106.7,1493.9 L2107.4,1494.9 L2108.1,1498.7 L2108.8,1494.5 L2109.5,1495.3 L2110.2,1494.0 L2110.9,1495.1 L2111.6,1496.5 L2112.3,1492.4 L2112.9,1491.0 L2113.6,1497.0 L2114.3,1495.9 L2115.0,1494.8 L2115.7,1497.4 L2116.4,1497.4 L2117.1,1492.2 L2117.8,1495.4 L2118.5,1497.6 L2119.2,1494.5 L2119.8,1495.1 L2120.5,1497.2 L2121.2,1495.1 L2121.9,1493.5 L2122.6,1494.3 L2123.3,1493.1 L2124.0,1496.2 L2124.7,1492.3 L2125.4,1496.9 L2126.1,1492.3 L2126.8,1495.1 L2127.4,1492.4 L2128.1,1494.2 L2128.8,1496.4 L2129.5,1496.5 L2130.2,1496.6 L2130.9,1494.1 L2131.6,1494.3 L2132.3,1494.4 L2133.0,1494.9 L2133.7,1493.0 L2134.4,1495.3 L2135.0,1493.8 L2135.7,1495.0 L2136.4,1493.7 L2137.1,1493.8 L2137.8,1491.2 L2138.5,1491.5 L2139.2,1489.7 L2139.9,1491.2 L2140.6,1491.1 L2141.3,1492.6 L2141.9,1488.7 L2142.6,1496.1 L2143.3,1490.1 L2144.0,1492.2 L2144.7,1491.6 L2145.4,1485.2 L2146.1,1488.8 L2146.8,1491.5 L2147.5,1484.6 L2148.2,1489.8 L2148.9,1486.8 L2149.5,1487.3 L2150.2,1488.3 L2150.9,1484.6 L2151.6,1488.0 L2152.3,1486.5 L2153.0,1486.2 L2153.7,1488.6 L2154.4,1493.4 L2155.1,1488.0 L2155.8,1488.4 L2156.4,1487.5 L2157.1,1486.5 L2157.8,1488.3 L2158.5,1490.6 L2159.2,1488.5 L2159.9,1489.9 L2160.6,1488.2 L2161.3,1493.2 L2162.0,1486.3 L2162.7,1490.4 L2163.4,1490.6 L2164.0,1490.4 L2164.7,1488.3 L2165.4,1488.6 L2166.1,1490.4 L2166.8,1491.3 L2167.5,1489.3 L2168.2,1489.8 L2168.9,1492.9 L2169.6,1493.9 L2170.3,1491.5 L2170.9,1491.5 L2171.6,1491.7 L2172.3,1497.4 L2173.0,1494.2 L2173.7,1493.5 L2174.4,1495.5 L2175.1,1497.9 L2175.8,1496.2 L2176.5,1491.9 L2177.2,1494.4 L2177.9,1494.0 L2178.5,1494.3 L2179.2,1492.9 L2179.9,1494.4 L2180.6,1493.4 L2181.3,1495.9 L2182.0,1495.5 L2182.7,1493.2 L2183.4,1492.8 L2184.1,1494.9 L2184.8,1496.9 L2185.4,1496.8 L2186.1,1495.9 L2186.8,1490.4 L2187.5,1495.3 L2188.2,1494.9 L2188.9,1495.7 L2189.6,1494.2 L2190.3,1495.6 L2191.0,1495.2 L2191.7,1501.0 L2192.4,1497.7 L2193.0,1496.2 L2193.7,1496.4 L2194.4,1496.4 L2195.1,1496.9 L2195.8,1495.9 L2196.5,1496.6 L2197.2,1498.4 L2197.9,1498.1 L2198.6,1497.2 L2199.3,1499.0 L2199.9,1497.1 L2200.6,1495.1 L2201.3,1493.8 L2202.0,1495.6 L2202.7,1496.7 L2203.4,1497.5 L2204.1,1498.7 L2204.8,1495.9 L2205.5,1495.5 L2206.2,1498.2 L2206.9,1498.9 L2207.5,1496.1 L2208.2,1497.5 L2208.9,1499.3 L2209.6,1497.5 L2210.3,1496.9 L2211.0,1493.5 L2211.7,1499.3 L2212.4,1498.1 L2213.1,1497.3 L2213.8,1496.3 L2214.4,1495.0 L2215.1,1496.9 L2215.8,1496.9 L2216.5,1499.0 L2217.2,1495.1 L2217.9,1499.6 L2218.6,1497.2 L2219.3,1499.2 L2220.0,1495.5 L2220.7,1497.8 L2221.4,1499.3 L2222.0,1497.4 L2222.7,1494.7 L2223.4,1496.7 L2224.1,1498.1 L2224.8,1494.9 L2225.5,1494.8 L2226.2,1497.7 L2226.9,1495.6 L2227.6,1498.4 L2228.3,1495.3 L2228.9,1494.2 L2229.6,1496.0 L2230.3,1499.9 L2231.0,1495.8 L2231.7,1497.3 L2232.4,1497.8 L2233.1,1495.7 L2233.8,1499.2 L2234.5,1497.7 L2235.2,1498.1 L2235.9,1494.5 L2236.5,1494.4 L2237.2,1492.7 L2237.9,1497.1 L2238.6,1497.0 L2239.3,1498.6 L2240.0,1500.0 L2240.7,1497.0 L2241.4,1497.0 L2242.1,1498.2 L2242.8,1500.1 L2243.4,1496.1 L2244.1,1498.5 L2244.8,1497.1 L2245.5,1496.9 L2246.2,1498.9 L2246.9,1496.2 L2247.6,1495.7 L2248.3,1498.6 L2249.0,1497.5 L2249.7,1497.1 L2250.4,1497.3 L2251.0,1498.4 L2251.7,1496.9 L2252.4,1498.9 L2253.1,1498.3 L2253.8,1500.1 L2254.5,1499.7 L2255.2,1499.0 L2255.9,1497.2 L2256.6,1497.8 L2257.3,1496.6 L2257.9,1502.5 L2258.6,1497.2 L2259.3,1498.6 L2260.0,1499.9 L2260.7,1495.3 L2261.4,1496.2 L2262.1,1497.0 L2262.8,1496.0 L2263.5,1495.5 L2264.2,1496.8 L2264.9,1499.9 L2265.5,1498.9 L2266.2,1497.7 L2266.9,1497.7 L2267.6,1494.9 L2268.3,1498.9 L2269.0,1498.4 L2269.7,1495.9 L2270.4,1498.1 L2271.1,1497.4 L2271.8,1496.9 L2272.5,1496.1 L2273.1,1496.6 L2273.8,1496.1 L2274.5,1498.5 L2275.2,1498.4 L2275.9,1498.3 L2276.6,1497.5 L2277.3,1497.1 L2278.0,1501.3 L2278.7,1494.6 L2279.4,1499.8 L2280.0,1498.4 L2280.7,1497.9 L2281.4,1497.0 L2282.1,1497.5 L2282.8,1495.8 L2283.5,1495.5 L2284.2,1497.7 L2284.9,1495.0 L2285.6,1499.3 L2286.3,1499.8 L2287.0,1492.0 L2287.6,1495.2 L2288.3,1498.3 L2289.0,1498.2 L2289.7,1498.1 L2290.4,1498.6 L2291.1,1499.2 L2291.8,1499.4 L2292.5,1501.0 L2293.2,1498.0 L2293.9,1499.4 L2294.5,1495.2 L2295.2,1497.7 L2295.9,1495.9 L2296.6,1500.3 L2297.3,1501.9 L2298.0,1498.9 L2298.7,1495.8 L2299.4,1497.8 L2300.1,1498.0 L2300.8,1498.3 L2301.5,1499.8 L2302.1,1499.6 L2302.8,1493.5 L2303.5,1500.3 L2304.2,1497.2 L2304.9,1497.1 L2305.6,1500.4 L2306.3,1497.6 L2307.0,1495.7 L2307.7,1495.8 L2308.4,1498.1 L2309.0,1499.6 L2309.7,1500.6 L2310.4,1497.8 L2311.1,1497.3 L2311.8,1500.8 L2312.5,1497.3 L2313.2,1500.6 L2313.9,1498.5 L2314.6,1498.5 L2315.3,1497.7 L2316.0,1498.6 L2316.6,1497.3 L2317.3,1497.0 L2318.0,1497.9 L2318.7,1497.0 L2319.4,1498.6 L2320.1,1498.3 L2320.8,1497.7 L2321.5,1497.8 L2322.2,1497.8 L2322.9,1501.1 L2323.5,1498.1 L2324.2,1497.2 L2324.9,1497.7 L2325.6,1499.3 L2326.3,1497.8 L2327.0,1497.9" stroke="#0000a0" stroke-width="3.7"/>
</g>
<clipPath id="insetclip"><rect x="1261" y="40" width="843" height="592"/></clipPath>
<g fill="none" stroke-linejoin="round" stroke-linecap="butt" clip-path="url(#insetclip)">
<path d="M1255.0,322.9 L1258.0,323.1 L1261.0,321.7 L1264.0,320.5 L1267.0,319.7 L1270.0,320.9 L1273.0,323.4 L1276.0,323.7 L1279.0,322.9 L1282.0,322.7 L1285.0,322.5 L1288.0,321.6 L1291.0,320.4 L1294.0,319.9 L1297.0,320.6 L1300.0,321.7 L1303.0,323.3 L1306.0,322.3 L1309.0,321.4 L1312.0,322.0 L1315.0,321.2 L1318.0,319.7 L1321.0,319.8 L1324.0,320.0 L1327.0,320.3 L1330.0,321.2 L1333.0,321.3 L1336.0,321.3 L1339.0,321.7 L1342.0,321.2 L1345.0,321.5 L1348.0,320.9 L1351.0,320.4 L1354.0,321.7 L1357.0,320.6 L1360.0,318.3 L1363.0,318.3 L1366.0,317.9 L1369.0,316.5 L1372.0,315.9 L1375.0,314.2 L1378.0,313.1 L1381.0,313.5 L1384.0,313.3 L1387.0,309.3 L1390.0,303.8 L1393.0,298.2 L1396.0,289.7 L1399.0,278.5 L1402.0,262.4 L1405.0,243.0 L1408.0,209.4 L1411.0,198.8 L1414.0,195.9 L1417.0,191.4 L1420.0,179.9 L1423.0,152.2 L1426.0,131.7 L1429.0,113.4 L1432.0,106.6 L1435.0,106.8 L1438.0,116.4 L1441.0,138.6 L1444.0,160.1 L1447.0,178.8 L1450.0,200.2 L1453.0,224.9 L1456.0,246.3 L1459.0,271.0 L1462.0,283.6 L1465.0,291.8 L1468.0,300.4 L1471.0,307.2 L1474.0,309.7 L1477.0,313.7 L1480.0,317.4 L1483.0,317.8 L1486.0,319.8 L1489.0,321.1 L1492.0,322.1 L1495.0,322.2 L1498.0,321.6 L1501.0,321.9 L1504.0,321.8 L1507.0,321.6 L1510.0,321.5 L1513.0,322.8 L1516.0,322.5 L1519.0,320.9 L1522.0,321.2 L1525.0,322.0 L1528.0,322.5 L1531.0,322.8 L1534.0,321.6 L1537.0,321.1 L1540.0,322.0 L1543.0,321.6 L1546.0,321.8 L1549.0,320.6 L1552.0,320.7 L1555.0,322.2 L1558.0,321.0 L1561.0,320.8 L1564.0,322.9 L1567.0,322.7 L1570.0,322.0 L1573.0,322.1 L1576.0,321.1 L1579.0,320.6 L1582.0,320.9 L1585.0,322.4 L1588.0,323.3 L1591.0,321.8 L1594.0,322.0 L1597.0,322.4 L1600.0,321.2 L1603.0,321.5 L1606.0,321.4 L1609.0,320.0 L1612.0,321.5 L1615.0,321.3 L1618.0,320.8 L1621.0,321.0 L1624.0,320.6 L1627.0,321.6 L1630.0,321.3 L1633.0,319.9 L1636.0,320.2 L1639.0,321.7 L1642.0,321.2 L1645.0,321.2 L1648.0,322.5 L1651.0,322.1 L1654.0,321.6 L1657.0,321.3 L1660.0,321.4 L1663.0,322.7 L1666.0,324.2 L1669.0,324.4 L1672.0,323.0 L1675.0,323.4 L1678.0,322.4 L1681.0,322.2 L1684.0,322.6 L1687.0,321.4 L1690.0,322.6 L1693.0,323.2 L1696.0,323.4 L1699.0,322.3 L1702.0,321.6 L1705.0,322.3 L1708.0,321.9 L1711.0,321.0 L1714.0,321.8 L1717.0,323.3 L1720.0,322.0 L1723.0,320.9 L1726.0,321.0 L1729.0,322.8 L1732.0,323.3 L1735.0,322.0 L1738.0,322.3 L1741.0,322.4 L1744.0,322.1 L1747.0,322.5 L1750.0,322.4 L1753.0,322.4 L1756.0,321.2 L1759.0,320.5 L1762.0,320.9 L1765.0,320.8 L1768.0,320.9 L1771.0,320.2 L1774.0,319.8 L1777.0,320.7 L1780.0,320.4 L1783.0,318.7 L1786.0,319.3 L1789.0,320.7 L1792.0,320.0 L1795.0,319.4 L1798.0,319.1 L1801.0,319.9 L1804.0,322.1 L1807.0,322.5 L1810.0,320.6 L1813.0,318.7 L1816.0,317.1 L1819.0,317.8 L1822.0,319.7 L1825.0,320.5 L1828.0,321.5 L1831.0,320.9 L1834.0,319.9 L1837.0,318.5 L1840.0,317.5 L1843.0,316.8 L1846.0,316.3 L1849.0,316.0 L1852.0,315.3 L1855.0,315.7 L1858.0,314.4 L1861.0,311.1 L1864.0,309.3 L1867.0,305.4 L1870.0,300.7 L1873.0,298.7 L1876.0,297.1 L1879.0,293.9 L1882.0,288.0 L1885.0,277.2 L1888.0,263.8 L1891.0,250.0 L1894.0,230.7 L1897.0,205.1 L1900.0,180.5 L1903.0,157.7 L1906.0,140.2 L1909.0,121.3 L1912.0,110.8 L1915.0,107.6 L1918.0,109.3 L1921.0,119.0 L1924.0,145.7 L1927.0,154.3 L1930.0,166.9 L1933.0,187.3 L1936.0,202.6 L1939.0,212.9 L1942.0,223.4 L1945.0,232.9 L1948.0,244.4 L1951.0,248.3 L1954.0,248.5 L1957.0,264.7 L1960.0,278.1 L1963.0,279.6 L1966.0,281.6 L1969.0,291.1 L1972.0,296.8 L1975.0,301.8 L1978.0,306.3 L1981.0,311.0 L1984.0,313.3 L1987.0,314.8 L1990.0,313.3 L1993.0,313.5 L1996.0,317.6 L1999.0,320.2 L2002.0,317.6 L2005.0,316.2 L2008.0,318.1 L2011.0,317.7 L2014.0,318.3 L2017.0,318.6 L2020.0,318.5 L2023.0,320.8 L2026.0,321.7 L2029.0,321.2 L2032.0,321.4 L2035.0,321.3 L2038.0,321.9 L2041.0,321.2 L2044.0,320.7 L2047.0,322.5 L2050.0,322.5 L2053.0,321.8 L2056.0,323.1 L2059.0,324.4 L2062.0,322.9 L2065.0,321.1 L2068.0,321.7 L2071.0,322.3 L2074.0,321.3 L2077.0,321.5 L2080.0,322.4 L2083.0,322.2 L2086.0,324.0 L2089.0,325.0 L2092.0,323.8 L2095.0,323.8 L2098.0,325.6 L2101.0,326.0 L2104.0,323.9 L2107.0,323.4 L2110.0,323.9" stroke="#000" stroke-width="7.8"/>
<path d="M1255.0,476.2 L1258.0,476.8 L1261.0,475.8 L1264.0,474.7 L1267.0,475.3 L1270.0,474.8 L1273.0,473.6 L1276.0,475.7 L1279.0,477.4 L1282.0,476.4 L1285.0,478.5 L1288.0,477.6 L1291.0,475.0 L1294.0,472.5 L1297.0,472.2 L1300.0,473.8 L1303.0,474.5 L1306.0,474.0 L1309.0,473.4 L1312.0,473.5 L1315.0,472.2 L1318.0,470.8 L1321.0,472.4 L1324.0,472.4 L1327.0,473.4 L1330.0,473.7 L1333.0,470.6 L1336.0,468.5 L1339.0,467.2 L1342.0,467.5 L1345.0,465.3 L1348.0,459.8 L1351.0,459.0 L1354.0,459.2 L1357.0,457.1 L1360.0,453.7 L1363.0,449.4 L1366.0,442.4 L1369.0,438.5 L1372.0,436.2 L1375.0,429.8 L1378.0,422.4 L1381.0,418.2 L1384.0,413.2 L1387.0,405.0 L1390.0,392.5 L1393.0,380.6 L1396.0,367.3 L1399.0,356.5 L1402.0,345.3 L1405.0,334.8 L1408.0,329.3 L1411.0,325.7 L1414.0,323.6 L1417.0,319.5 L1420.0,314.8 L1423.0,320.7 L1426.0,334.1 L1429.0,345.2 L1432.0,358.3 L1435.0,369.8 L1438.0,380.6 L1441.0,396.5 L1444.0,414.8 L1447.0,429.1 L1450.0,440.2 L1453.0,447.6 L1456.0,452.5 L1459.0,458.8 L1462.0,463.8 L1465.0,466.8 L1468.0,468.7 L1471.0,470.7 L1474.0,471.6 L1477.0,472.3 L1480.0,473.4 L1483.0,474.8 L1486.0,475.6 L1489.0,475.7 L1492.0,476.0 L1495.0,477.8 L1498.0,478.4 L1501.0,477.7 L1504.0,481.1 L1507.0,481.6 L1510.0,479.2 L1513.0,479.5 L1516.0,480.9 L1519.0,481.8 L1522.0,481.1 L1525.0,481.5 L1528.0,481.4 L1531.0,482.7 L1534.0,484.3 L1537.0,482.5 L1540.0,483.0 L1543.0,483.6 L1546.0,481.7 L1549.0,482.0 L1552.0,482.4 L1555.0,479.9 L1558.0,481.3 L1561.0,484.0 L1564.0,484.2 L1567.0,484.3 L1570.0,483.9 L1573.0,485.3 L1576.0,488.1 L1579.0,487.2 L1582.0,485.0 L1585.0,483.5 L1588.0,483.4 L1591.0,485.1 L1594.0,483.5 L1597.0,482.0 L1600.0,483.1 L1603.0,484.9 L1606.0,486.2 L1609.0,486.1 L1612.0,483.9 L1615.0,482.7 L1618.0,483.0 L1621.0,483.9 L1624.0,484.6 L1627.0,484.6 L1630.0,484.8 L1633.0,484.7 L1636.0,484.9 L1639.0,482.5 L1642.0,482.8 L1645.0,483.9 L1648.0,483.9 L1651.0,484.7 L1654.0,485.5 L1657.0,487.3 L1660.0,488.1 L1663.0,486.9 L1666.0,483.5 L1669.0,482.4 L1672.0,482.7 L1675.0,482.5 L1678.0,482.8 L1681.0,481.8 L1684.0,479.0 L1687.0,479.1 L1690.0,479.4 L1693.0,478.9 L1696.0,481.6 L1699.0,483.6 L1702.0,482.9 L1705.0,482.4 L1708.0,483.2 L1711.0,482.5 L1714.0,482.5 L1717.0,482.7 L1720.0,482.6 L1723.0,481.1 L1726.0,480.1 L1729.0,480.5 L1732.0,480.6 L1735.0,480.6 L1738.0,480.5 L1741.0,480.9 L1744.0,477.8 L1747.0,476.9 L1750.0,479.7 L1753.0,481.4 L1756.0,481.5 L1759.0,480.2 L1762.0,475.5 L1765.0,474.0 L1768.0,474.2 L1771.0,474.0 L1774.0,475.7 L1777.0,474.0 L1780.0,471.4 L1783.0,471.7 L1786.0,473.8 L1789.0,475.3 L1792.0,474.9 L1795.0,472.7 L1798.0,472.3 L1801.0,469.0 L1804.0,465.9 L1807.0,465.4 L1810.0,465.6 L1813.0,467.2 L1816.0,467.5 L1819.0,465.1 L1822.0,461.5 L1825.0,459.1 L1828.0,457.2 L1831.0,456.6 L1834.0,457.4 L1837.0,453.9 L1840.0,449.3 L1843.0,449.3 L1846.0,445.8 L1849.0,441.0 L1852.0,438.1 L1855.0,436.0 L1858.0,430.1 L1861.0,422.5 L1864.0,424.1 L1867.0,416.8 L1870.0,409.0 L1873.0,407.3 L1876.0,401.7 L1879.0,392.2 L1882.0,384.5 L1885.0,378.8 L1888.0,376.4 L1891.0,379.8 L1894.0,372.6 L1897.0,372.0 L1900.0,375.5 L1903.0,377.2 L1906.0,377.5 L1909.0,378.1 L1912.0,390.7 L1915.0,402.7 L1918.0,410.7 L1921.0,417.0 L1924.0,424.8 L1927.0,433.1 L1930.0,439.3 L1933.0,444.0 L1936.0,445.5 L1939.0,444.0 L1942.0,444.3 L1945.0,445.3 L1948.0,444.2 L1951.0,446.1 L1954.0,445.8 L1957.0,445.4 L1960.0,448.9 L1963.0,450.3 L1966.0,451.3 L1969.0,453.6 L1972.0,456.1 L1975.0,460.5 L1978.0,464.7 L1981.0,469.0 L1984.0,471.4 L1987.0,471.6 L1990.0,472.3 L1993.0,472.2 L1996.0,474.1 L1999.0,479.3 L2002.0,479.2 L2005.0,479.4 L2008.0,479.7 L2011.0,479.5 L2014.0,478.9 L2017.0,481.9 L2020.0,484.3 L2023.0,482.4 L2026.0,480.9 L2029.0,481.1 L2032.0,483.4 L2035.0,483.8 L2038.0,485.5 L2041.0,487.6 L2044.0,486.3 L2047.0,485.1 L2050.0,482.9 L2053.0,483.3 L2056.0,484.6 L2059.0,484.1 L2062.0,483.2 L2065.0,485.3 L2068.0,487.5 L2071.0,486.9 L2074.0,487.1 L2077.0,488.1 L2080.0,486.0 L2083.0,486.1 L2086.0,486.0 L2089.0,486.0 L2092.0,486.5 L2095.0,487.4 L2098.0,489.3 L2101.0,488.0 L2104.0,486.5 L2107.0,487.5 L2110.0,486.9" stroke="#008000" stroke-width="7.8"/>
<path d="M1255.0,607.6 L1258.0,608.0 L1261.0,605.7 L1264.0,607.0 L1267.0,608.9 L1270.0,609.8 L1273.0,609.2 L1276.0,606.7 L1279.0,606.2 L1282.0,606.1 L1285.0,604.3 L1288.0,603.9 L1291.0,604.6 L1294.0,605.4 L1297.0,607.6 L1300.0,607.0 L1303.0,604.9 L1306.0,602.4 L1309.0,601.8 L1312.0,601.4 L1315.0,601.6 L1318.0,603.0 L1321.0,602.6 L1324.0,601.2 L1327.0,599.9 L1330.0,598.5 L1333.0,600.5 L1336.0,599.5 L1339.0,597.1 L1342.0,596.1 L1345.0,596.5 L1348.0,595.9 L1351.0,595.1 L1354.0,594.6 L1357.0,589.0 L1360.0,583.3 L1363.0,583.5 L1366.0,581.7 L1369.0,572.8 L1372.0,566.4 L1375.0,562.0 L1378.0,554.2 L1381.0,535.0 L1384.0,516.3 L1387.0,500.0 L1390.0,484.7 L1393.0,466.8 L1396.0,455.0 L1399.0,445.6 L1402.0,434.7 L1405.0,425.8 L1408.0,405.5 L1411.0,395.1 L1414.0,395.9 L1417.0,405.7 L1420.0,424.4 L1423.0,445.8 L1426.0,466.0 L1429.0,479.8 L1432.0,502.8 L1435.0,517.5 L1438.0,537.4 L1441.0,554.6 L1444.0,567.1 L1447.0,571.7 L1450.0,577.0 L1453.0,586.8 L1456.0,589.8 L1459.0,589.4 L1462.0,595.1 L1465.0,598.9 L1468.0,599.7 L1471.0,600.8 L1474.0,602.1 L1477.0,603.1 L1480.0,605.1 L1483.0,606.2 L1486.0,608.2 L1489.0,609.2 L1492.0,608.6 L1495.0,608.4 L1498.0,608.5 L1501.0,608.1 L1504.0,608.1 L1507.0,611.5 L1510.0,611.9 L1513.0,610.3 L1516.0,608.9 L1519.0,610.3 L1522.0,611.0 L1525.0,611.3 L1528.0,611.1 L1531.0,612.1 L1534.0,612.3 L1537.0,611.2 L1540.0,611.3 L1543.0,611.4 L1546.0,610.7 L1549.0,608.9 L1552.0,607.3 L1555.0,607.5 L1558.0,607.8 L1561.0,608.3 L1564.0,610.3 L1567.0,608.7 L1570.0,608.1 L1573.0,611.1 L1576.0,613.5 L1579.0,613.8 L1582.0,613.6 L1585.0,615.2 L1588.0,616.7 L1591.0,617.1 L1594.0,614.5 L1597.0,611.1 L1600.0,609.7 L1603.0,610.6 L1606.0,610.7 L1609.0,611.5 L1612.0,612.9 L1615.0,613.0 L1618.0,613.7 L1621.0,613.6 L1624.0,611.8 L1627.0,611.1 L1630.0,611.6 L1633.0,613.6 L1636.0,613.7 L1639.0,613.4 L1642.0,613.9 L1645.0,611.5 L1648.0,611.9 L1651.0,613.3 L1654.0,612.1 L1657.0,612.0 L1660.0,614.1 L1663.0,613.1 L1666.0,610.5 L1669.0,611.9 L1672.0,612.4 L1675.0,610.0 L1678.0,609.5 L1681.0,610.6 L1684.0,610.7 L1687.0,611.9 L1690.0,611.8 L1693.0,611.1 L1696.0,612.3 L1699.0,609.0 L1702.0,607.0 L1705.0,608.8 L1708.0,608.1 L1711.0,607.2 L1714.0,607.7 L1717.0,609.4 L1720.0,611.0 L1723.0,611.9 L1726.0,612.3 L1729.0,610.0 L1732.0,607.2 L1735.0,606.5 L1738.0,607.5 L1741.0,607.9 L1744.0,610.2 L1747.0,611.8 L1750.0,610.1 L1753.0,606.9 L1756.0,606.1 L1759.0,608.5 L1762.0,608.0 L1765.0,605.0 L1768.0,604.5 L1771.0,605.8 L1774.0,606.9 L1777.0,607.6 L1780.0,607.4 L1783.0,605.9 L1786.0,605.0 L1789.0,604.2 L1792.0,603.6 L1795.0,604.6 L1798.0,603.7 L1801.0,603.3 L1804.0,602.7 L1807.0,601.4 L1810.0,596.6 L1813.0,597.5 L1816.0,598.5 L1819.0,597.7 L1822.0,593.1 L1825.0,588.8 L1828.0,590.6 L1831.0,591.3 L1834.0,589.7 L1837.0,585.5 L1840.0,582.1 L1843.0,578.7 L1846.0,577.1 L1849.0,575.9 L1852.0,567.8 L1855.0,567.8 L1858.0,565.2 L1861.0,552.1 L1864.0,542.6 L1867.0,535.0 L1870.0,528.2 L1873.0,515.1 L1876.0,498.3 L1879.0,480.0 L1882.0,465.0 L1885.0,455.7 L1888.0,446.2 L1891.0,441.6 L1894.0,437.7 L1897.0,438.3 L1900.0,443.1 L1903.0,446.2 L1906.0,459.9 L1909.0,474.9 L1912.0,490.6 L1915.0,506.1 L1918.0,522.2 L1921.0,529.7 L1924.0,534.1 L1927.0,539.3 L1930.0,544.4 L1933.0,546.9 L1936.0,548.5 L1939.0,549.6 L1942.0,551.8 L1945.0,555.1 L1948.0,559.5 L1951.0,563.4 L1954.0,566.6 L1957.0,571.9 L1960.0,581.2 L1963.0,586.3 L1966.0,589.5 L1969.0,592.0 L1972.0,597.3 L1975.0,600.3 L1978.0,599.6 L1981.0,598.2 L1984.0,598.7 L1987.0,605.6 L1990.0,607.7 L1993.0,608.2 L1996.0,604.3 L1999.0,602.6 L2002.0,605.9 L2005.0,608.5 L2008.0,608.6 L2011.0,608.1 L2014.0,608.1 L2017.0,608.6 L2020.0,609.1 L2023.0,610.6 L2026.0,610.5 L2029.0,609.0 L2032.0,612.8 L2035.0,614.4 L2038.0,612.3 L2041.0,613.9 L2044.0,615.4 L2047.0,613.0 L2050.0,610.3 L2053.0,610.4 L2056.0,612.5 L2059.0,612.1 L2062.0,613.0 L2065.0,613.2 L2068.0,611.8 L2071.0,613.1 L2074.0,612.8 L2077.0,612.8 L2080.0,614.5 L2083.0,615.5 L2086.0,614.4 L2089.0,612.8 L2092.0,612.7 L2095.0,612.7 L2098.0,613.1 L2101.0,613.3 L2104.0,612.2 L2107.0,610.7 L2110.0,612.1" stroke="#0000ff" stroke-width="7.8"/>
</g>
<g stroke="#000" stroke-width="7" stroke-linecap="round" stroke-dasharray="19 30.83">
<line x1="1434.45" y1="31.4" x2="1434.45" y2="560"/>
<line x1="1913.4" y1="35.5" x2="1917.5" y2="560"/>
</g>
<g fill="none" stroke="#000">
<rect x="255.5" y="29.5" width="2071.5" height="1495.8" stroke-width="7" stroke-linejoin="round"/>
<g stroke-width="6.8" stroke-linecap="round">
<line x1="255.5" y1="1527" x2="255.5" y2="1555.5"/>
<line x1="600.8" y1="1527" x2="600.8" y2="1555.5"/>
<line x1="946.0" y1="1527" x2="946.0" y2="1555.5"/>
<line x1="1291.2" y1="1527" x2="1291.2" y2="1555.5"/>
<line x1="1636.5" y1="1527" x2="1636.5" y2="1555.5"/>
<line x1="1981.8" y1="1527" x2="1981.8" y2="1555.5"/>
<line x1="2327.0" y1="1527" x2="2327.0" y2="1555.5"/>
<line x1="428.1" y1="1527" x2="428.1" y2="1540.5"/>
<line x1="773.4" y1="1527" x2="773.4" y2="1540.5"/>
<line x1="1118.6" y1="1527" x2="1118.6" y2="1540.5"/>
<line x1="1463.9" y1="1527" x2="1463.9" y2="1540.5"/>
<line x1="1809.1" y1="1527" x2="1809.1" y2="1540.5"/>
<line x1="2154.4" y1="1527" x2="2154.4" y2="1540.5"/>
</g>
<g stroke-width="4" stroke-linecap="round">
<line x1="1261.1" y1="638" x2="2103.7" y2="638" stroke-linecap="square"/>
<line x1="1337.7" y1="639" x2="1337.7" y2="649.5"/>
<line x1="1490.9" y1="639" x2="1490.9" y2="649.5"/>
<line x1="1644.1" y1="639" x2="1644.1" y2="649.5"/>
<line x1="1797.3" y1="639" x2="1797.3" y2="649.5"/>
<line x1="1950.5" y1="639" x2="1950.5" y2="649.5"/>
<line x1="2103.7" y1="639" x2="2103.7" y2="649.5"/>
<line x1="1261.1" y1="639" x2="1261.1" y2="643.2"/>
<line x1="1414.3" y1="639" x2="1414.3" y2="643.2"/>
<line x1="1567.5" y1="639" x2="1567.5" y2="643.2"/>
<line x1="1720.7" y1="639" x2="1720.7" y2="643.2"/>
<line x1="1873.9" y1="639" x2="1873.9" y2="643.2"/>
<line x1="2027.1" y1="639" x2="2027.1" y2="643.2"/>
</g>
</g>
<g font-family="'Liberation Serif','Noto Serif CJK SC',serif" fill="#000">
<text x="255.0" y="1640" font-size="83.5" text-anchor="middle">20</text>
<text x="600.2" y="1640" font-size="83.5" text-anchor="middle">30</text>
<text x="945.5" y="1640" font-size="83.5" text-anchor="middle">40</text>
<text x="1290.8" y="1640" font-size="83.5" text-anchor="middle">50</text>
<text x="1636.0" y="1640" font-size="83.5" text-anchor="middle">60</text>
<text x="1981.2" y="1640" font-size="83.5" text-anchor="middle">70</text>
<text x="2326.5" y="1640" font-size="83.5" text-anchor="middle">80</text>
<text x="944.2" y="1744.8" font-size="87" font-weight="bold" textLength="578" lengthAdjust="spacingAndGlyphs">2 theta(degree)</text>
<text transform="translate(102.3,1067.8) rotate(-90)" font-size="88" font-weight="bold" textLength="516" lengthAdjust="spacingAndGlyphs">Intensity, a.u.</text>
<text x="1337.7" y="689.3" font-size="42" text-anchor="middle">35</text>
<text x="1490.9" y="689.3" font-size="42" text-anchor="middle">36</text>
<text x="1644.1" y="689.3" font-size="42" text-anchor="middle">37</text>
<text x="1797.3" y="689.3" font-size="42" text-anchor="middle">38</text>
<text x="1950.5" y="689.3" font-size="42" text-anchor="middle">39</text>
<text x="2103.7" y="689.3" font-size="42" text-anchor="middle">40</text>
<text x="1578.3" y="760.6" font-size="58.5" font-weight="bold" textLength="385.5" lengthAdjust="spacingAndGlyphs">2 theta(degree)</text>
<text x="2022.8" y="975" font-size="73.5">CuO</text>
<text y="1247" font-size="73.5"><tspan x="1865.8">PdO</tspan><tspan x="1997.0" y="1272.3" font-size="37.0" textLength="23.5" lengthAdjust="spacingAndGlyphs">x</tspan><tspan x="2021.2" y="1247">/CuO-ST</tspan></text>
<text y="1438.8" font-size="73.5"><tspan x="1853.8">PdO</tspan><tspan x="1986.1" y="1464.4" font-size="37.0" textLength="23.5" lengthAdjust="spacingAndGlyphs">x</tspan><tspan x="2009.1" y="1438.8">/CuO-SG</tspan></text>
<text transform="translate(711.8,0) rotate(-90)" font-size="75.0"><tspan x="-1088.5" y="-3.16" font-size="59.8" textLength="68.77" lengthAdjust="spacingAndGlyphs">（</tspan><tspan x="-1011.0" y="0" textLength="106.9" lengthAdjust="spacingAndGlyphs">110</tspan><tspan x="-895.4" y="-3.16" font-size="59.8" textLength="68.77" lengthAdjust="spacingAndGlyphs">）</tspan></text>
<text transform="translate(798.7,0) rotate(-90)" font-size="75.0"><tspan x="-769.5" y="-3.16" font-size="59.8" textLength="68.77" lengthAdjust="spacingAndGlyphs">（</tspan><tspan x="-694.5" y="0" textLength="110.8" lengthAdjust="spacingAndGlyphs">002</tspan><tspan x="-577.4" y="-3.16" font-size="59.8" textLength="68.77" lengthAdjust="spacingAndGlyphs">）</tspan></text>
<text transform="translate(942.9,0) rotate(-90)" font-size="75.0"><tspan x="-798.4" y="-3.16" font-size="59.8" textLength="68.77" lengthAdjust="spacingAndGlyphs">（</tspan><tspan x="-720.0" y="0" textLength="104.6" lengthAdjust="spacingAndGlyphs">111</tspan><tspan x="-605.8" y="-3.16" font-size="59.8" textLength="68.77" lengthAdjust="spacingAndGlyphs">）</tspan></text>
<text transform="translate(1222.9,0) rotate(-90)" font-size="75.0"><tspan x="-1071.5" y="-3.16" font-size="59.8" textLength="68.77" lengthAdjust="spacingAndGlyphs">（</tspan><tspan x="-995.4" y="0" textLength="134.0" lengthAdjust="spacingAndGlyphs">20-2</tspan><tspan x="-854.1" y="-3.16" font-size="59.8" textLength="68.77" lengthAdjust="spacingAndGlyphs">）</tspan></text>
<text transform="translate(1411.9,0) rotate(-90)" font-size="75.0"><tspan x="-1088.3" y="-3.16" font-size="59.8" textLength="68.77" lengthAdjust="spacingAndGlyphs">（</tspan><tspan x="-1013.1" y="0" textLength="110.8" lengthAdjust="spacingAndGlyphs">202</tspan><tspan x="-895.8" y="-3.16" font-size="59.8" textLength="68.77" lengthAdjust="spacingAndGlyphs">）</tspan></text>
<text transform="translate(1548.9,0) rotate(-90)" font-size="75.0"><tspan x="-1102.3" y="-3.16" font-size="59.8" textLength="68.77" lengthAdjust="spacingAndGlyphs">（</tspan><tspan x="-1027.0" y="0" textLength="110.8" lengthAdjust="spacingAndGlyphs">020</tspan><tspan x="-909.7" y="-3.16" font-size="59.8" textLength="68.77" lengthAdjust="spacingAndGlyphs">）</tspan></text>
<text transform="translate(1647.8,0) rotate(-90)" font-size="75.0"><tspan x="-1122.2" y="-3.16" font-size="59.8" textLength="68.77" lengthAdjust="spacingAndGlyphs">（</tspan><tspan x="-1044.1" y="0" textLength="130.6" lengthAdjust="spacingAndGlyphs">11-3</tspan><tspan x="-904.1" y="-3.16" font-size="59.8" textLength="68.77" lengthAdjust="spacingAndGlyphs">）</tspan></text>
</g>
</svg>
</body></html>
